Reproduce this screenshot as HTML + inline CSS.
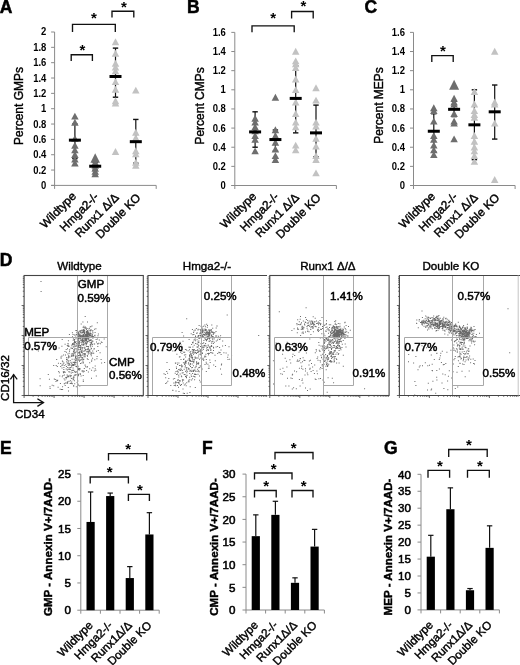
<!DOCTYPE html><html><head><meta charset="utf-8"><style>html,body{margin:0;padding:0;background:#fff;}svg{display:block;filter:grayscale(1) blur(0.3px);}text{font-family:"Liberation Sans",sans-serif;}</style></head><body>
<svg width="520" height="665" viewBox="0 0 520 665">
<rect width="520" height="665" fill="#fff"/>
<text x="-0.30" y="12.80" font-size="17.5" font-weight="bold" text-anchor="start" fill="#000" stroke="#000" stroke-width="0.5">A</text>
<text x="186.90" y="12.80" font-size="17.5" font-weight="bold" text-anchor="start" fill="#000" stroke="#000" stroke-width="0.5">B</text>
<text x="364.40" y="12.80" font-size="17.5" font-weight="bold" text-anchor="start" fill="#000" stroke="#000" stroke-width="0.5">C</text>
<text x="-0.30" y="265.90" font-size="17.5" font-weight="bold" text-anchor="start" fill="#000" stroke="#000" stroke-width="0.5">D</text>
<text x="0.00" y="453.50" font-size="17.5" font-weight="bold" text-anchor="start" fill="#000" stroke="#000" stroke-width="0.5">E</text>
<text x="201.90" y="453.50" font-size="17.5" font-weight="bold" text-anchor="start" fill="#000" stroke="#000" stroke-width="0.5">F</text>
<text x="383.90" y="453.50" font-size="17.5" font-weight="bold" text-anchor="start" fill="#000" stroke="#000" stroke-width="0.5">G</text>
<line x1="54.60" y1="32.00" x2="54.60" y2="188.90" stroke="#8a8a8a" stroke-width="1"/>
<line x1="51.10" y1="185.40" x2="156.20" y2="185.40" stroke="#8a8a8a" stroke-width="1"/>
<line x1="156.20" y1="185.40" x2="156.20" y2="188.90" stroke="#8a8a8a" stroke-width="1"/>
<line x1="51.10" y1="185.40" x2="54.60" y2="185.40" stroke="#8a8a8a" stroke-width="1"/>
<text x="46.40" y="188.90" font-size="10.2" font-weight="bold" text-anchor="end" fill="#000" transform="translate(46.40 185.40) scale(0.93 1) translate(-46.40 -185.40)">0</text>
<line x1="51.10" y1="170.06" x2="54.60" y2="170.06" stroke="#8a8a8a" stroke-width="1"/>
<text x="46.40" y="173.56" font-size="10.2" font-weight="bold" text-anchor="end" fill="#000" transform="translate(46.40 170.06) scale(0.93 1) translate(-46.40 -170.06)">0.2</text>
<line x1="51.10" y1="154.72" x2="54.60" y2="154.72" stroke="#8a8a8a" stroke-width="1"/>
<text x="46.40" y="158.22" font-size="10.2" font-weight="bold" text-anchor="end" fill="#000" transform="translate(46.40 154.72) scale(0.93 1) translate(-46.40 -154.72)">0.4</text>
<line x1="51.10" y1="139.38" x2="54.60" y2="139.38" stroke="#8a8a8a" stroke-width="1"/>
<text x="46.40" y="142.88" font-size="10.2" font-weight="bold" text-anchor="end" fill="#000" transform="translate(46.40 139.38) scale(0.93 1) translate(-46.40 -139.38)">0.6</text>
<line x1="51.10" y1="124.04" x2="54.60" y2="124.04" stroke="#8a8a8a" stroke-width="1"/>
<text x="46.40" y="127.54" font-size="10.2" font-weight="bold" text-anchor="end" fill="#000" transform="translate(46.40 124.04) scale(0.93 1) translate(-46.40 -124.04)">0.8</text>
<line x1="51.10" y1="108.70" x2="54.60" y2="108.70" stroke="#8a8a8a" stroke-width="1"/>
<text x="46.40" y="112.20" font-size="10.2" font-weight="bold" text-anchor="end" fill="#000" transform="translate(46.40 108.70) scale(0.93 1) translate(-46.40 -108.70)">1</text>
<line x1="51.10" y1="93.36" x2="54.60" y2="93.36" stroke="#8a8a8a" stroke-width="1"/>
<text x="46.40" y="96.86" font-size="10.2" font-weight="bold" text-anchor="end" fill="#000" transform="translate(46.40 93.36) scale(0.93 1) translate(-46.40 -93.36)">1.2</text>
<line x1="51.10" y1="78.02" x2="54.60" y2="78.02" stroke="#8a8a8a" stroke-width="1"/>
<text x="46.40" y="81.52" font-size="10.2" font-weight="bold" text-anchor="end" fill="#000" transform="translate(46.40 78.02) scale(0.93 1) translate(-46.40 -78.02)">1.4</text>
<line x1="51.10" y1="62.68" x2="54.60" y2="62.68" stroke="#8a8a8a" stroke-width="1"/>
<text x="46.40" y="66.18" font-size="10.2" font-weight="bold" text-anchor="end" fill="#000" transform="translate(46.40 62.68) scale(0.93 1) translate(-46.40 -62.68)">1.6</text>
<line x1="51.10" y1="47.34" x2="54.60" y2="47.34" stroke="#8a8a8a" stroke-width="1"/>
<text x="46.40" y="50.84" font-size="10.2" font-weight="bold" text-anchor="end" fill="#000" transform="translate(46.40 47.34) scale(0.93 1) translate(-46.40 -47.34)">1.8</text>
<line x1="51.10" y1="32.00" x2="54.60" y2="32.00" stroke="#8a8a8a" stroke-width="1"/>
<text x="46.40" y="35.50" font-size="10.2" font-weight="bold" text-anchor="end" fill="#000" transform="translate(46.40 32.00) scale(0.93 1) translate(-46.40 -32.00)">2</text>
<text x="19.00" y="106.00" font-size="12" text-anchor="middle" fill="#000" transform="rotate(-90 19.00 106.00)" dominant-baseline="central" stroke="#000" stroke-width="0.4">Percent GMPs</text>
<line x1="74.90" y1="124.04" x2="74.90" y2="158.56" stroke="#111" stroke-width="1.2"/>
<line x1="72.20" y1="158.56" x2="77.60" y2="158.56" stroke="#111" stroke-width="1.4"/>
<line x1="72.20" y1="124.04" x2="77.60" y2="124.04" stroke="#111" stroke-width="1.4"/>
<polygon points="74.90,112.71 78.65,119.61 71.15,119.61" fill="#6e6e6e"/>
<polygon points="74.90,118.85 78.65,125.75 71.15,125.75" fill="#6e6e6e"/>
<polygon points="74.90,134.96 78.65,141.86 71.15,141.86" fill="#6e6e6e"/>
<polygon points="74.90,141.86 78.65,148.76 71.15,148.76" fill="#6e6e6e"/>
<polygon points="74.90,146.46 78.65,153.36 71.15,153.36" fill="#6e6e6e"/>
<polygon points="74.90,151.06 78.65,157.96 71.15,157.96" fill="#6e6e6e"/>
<polygon points="74.90,155.66 78.65,162.56 71.15,162.56" fill="#6e6e6e"/>
<polygon points="74.90,159.50 78.65,166.40 71.15,166.40" fill="#6e6e6e"/>
<rect x="68.90" y="138.65" width="12.00" height="3.00" fill="#000"/>
<line x1="95.20" y1="162.39" x2="95.20" y2="170.06" stroke="#111" stroke-width="1.2"/>
<line x1="92.50" y1="170.06" x2="97.90" y2="170.06" stroke="#111" stroke-width="1.4"/>
<line x1="92.50" y1="162.39" x2="97.90" y2="162.39" stroke="#111" stroke-width="1.4"/>
<polygon points="95.20,158.73 98.95,165.63 91.45,165.63" fill="#6e6e6e"/>
<polygon points="95.20,161.80 98.95,168.70 91.45,168.70" fill="#6e6e6e"/>
<polygon points="95.20,164.87 98.95,171.77 91.45,171.77" fill="#6e6e6e"/>
<polygon points="95.20,167.94 98.95,174.84 91.45,174.84" fill="#6e6e6e"/>
<polygon points="95.20,170.24 98.95,177.14 91.45,177.14" fill="#6e6e6e"/>
<polygon points="95.20,153.14 99.95,162.64 90.45,162.64" fill="#6e6e6e"/>
<rect x="89.20" y="164.72" width="12.00" height="3.00" fill="#000"/>
<line x1="115.50" y1="48.11" x2="115.50" y2="97.20" stroke="#111" stroke-width="1.2"/>
<line x1="112.80" y1="97.20" x2="118.20" y2="97.20" stroke="#111" stroke-width="1.4"/>
<line x1="112.80" y1="48.11" x2="118.20" y2="48.11" stroke="#111" stroke-width="1.4"/>
<polygon points="115.50,38.31 119.25,45.21 111.75,45.21" fill="#c2c2c2"/>
<polygon points="115.50,49.82 119.25,56.72 111.75,56.72" fill="#c2c2c2"/>
<polygon points="115.50,59.79 119.25,66.69 111.75,66.69" fill="#c2c2c2"/>
<polygon points="115.50,63.62 119.25,70.52 111.75,70.52" fill="#c2c2c2"/>
<polygon points="115.50,67.46 119.25,74.36 111.75,74.36" fill="#c2c2c2"/>
<polygon points="115.50,78.20 119.25,85.10 111.75,85.10" fill="#c2c2c2"/>
<polygon points="115.50,85.87 119.25,92.77 111.75,92.77" fill="#c2c2c2"/>
<polygon points="115.50,97.37 119.25,104.27 111.75,104.27" fill="#c2c2c2"/>
<polygon points="115.50,99.67 119.25,106.57 111.75,106.57" fill="#c2c2c2"/>
<polygon points="115.50,147.99 119.25,154.89 111.75,154.89" fill="#c2c2c2"/>
<rect x="109.50" y="74.99" width="12.00" height="3.00" fill="#000"/>
<line x1="135.80" y1="119.44" x2="135.80" y2="163.16" stroke="#111" stroke-width="1.2"/>
<line x1="133.10" y1="163.16" x2="138.50" y2="163.16" stroke="#111" stroke-width="1.4"/>
<line x1="133.10" y1="119.44" x2="138.50" y2="119.44" stroke="#111" stroke-width="1.4"/>
<polygon points="135.80,86.64 139.55,93.53 132.05,93.53" fill="#c2c2c2"/>
<polygon points="135.80,128.82 139.55,135.72 132.05,135.72" fill="#c2c2c2"/>
<polygon points="135.80,134.19 139.55,141.09 132.05,141.09" fill="#c2c2c2"/>
<polygon points="135.80,147.23 139.55,154.13 132.05,154.13" fill="#c2c2c2"/>
<polygon points="135.80,150.30 139.55,157.20 132.05,157.20" fill="#c2c2c2"/>
<polygon points="135.80,158.73 139.55,165.63 132.05,165.63" fill="#c2c2c2"/>
<polygon points="135.80,161.80 139.55,168.70 132.05,168.70" fill="#c2c2c2"/>
<rect x="129.80" y="140.18" width="12.00" height="3.00" fill="#000"/>
<text x="76.90" y="196.90" font-size="11.8" text-anchor="end" fill="#000" transform="rotate(-45 76.90 196.90)" stroke="#000" stroke-width="0.42">Wildtype</text>
<text x="99.40" y="197.40" font-size="11.8" text-anchor="end" fill="#000" transform="rotate(-45 99.40 197.40)" stroke="#000" stroke-width="0.42">Hmga2-/-</text>
<text x="119.70" y="198.10" font-size="11.8" text-anchor="end" fill="#000" transform="rotate(-45 119.70 198.10)" stroke="#000" stroke-width="0.42">Runx1 Δ/Δ</text>
<text x="141.30" y="198.40" font-size="11.8" text-anchor="end" fill="#000" transform="rotate(-45 141.30 198.40)" stroke="#000" stroke-width="0.42">Double KO</text>
<polyline points="72.50,32.00 72.50,24.30 115.30,24.30 115.30,32.00" fill="none" stroke="#111" stroke-width="1.35"/>
<text x="94.00" y="22.75" font-size="15" font-weight="bold" text-anchor="middle" fill="#000">*</text>
<polyline points="71.20,61.10 71.20,54.70 92.40,54.70 92.40,61.10" fill="none" stroke="#111" stroke-width="1.35"/>
<text x="82.50" y="55.45" font-size="15" font-weight="bold" text-anchor="middle" fill="#000">*</text>
<polyline points="112.00,17.50 112.00,11.20 133.80,11.20 133.80,17.50" fill="none" stroke="#111" stroke-width="1.35"/>
<text x="124.00" y="11.75" font-size="15" font-weight="bold" text-anchor="middle" fill="#000">*</text>
<line x1="234.80" y1="32.38" x2="234.80" y2="189.00" stroke="#8a8a8a" stroke-width="1"/>
<line x1="231.30" y1="185.50" x2="336.40" y2="185.50" stroke="#8a8a8a" stroke-width="1"/>
<line x1="336.40" y1="185.50" x2="336.40" y2="189.00" stroke="#8a8a8a" stroke-width="1"/>
<line x1="231.30" y1="185.50" x2="234.80" y2="185.50" stroke="#8a8a8a" stroke-width="1"/>
<text x="225.90" y="189.00" font-size="10.2" font-weight="bold" text-anchor="end" fill="#000" transform="translate(225.90 185.50) scale(0.93 1) translate(-225.90 -185.50)">0</text>
<line x1="231.30" y1="166.36" x2="234.80" y2="166.36" stroke="#8a8a8a" stroke-width="1"/>
<text x="225.90" y="169.86" font-size="10.2" font-weight="bold" text-anchor="end" fill="#000" transform="translate(225.90 166.36) scale(0.93 1) translate(-225.90 -166.36)">0.2</text>
<line x1="231.30" y1="147.22" x2="234.80" y2="147.22" stroke="#8a8a8a" stroke-width="1"/>
<text x="225.90" y="150.72" font-size="10.2" font-weight="bold" text-anchor="end" fill="#000" transform="translate(225.90 147.22) scale(0.93 1) translate(-225.90 -147.22)">0.4</text>
<line x1="231.30" y1="128.08" x2="234.80" y2="128.08" stroke="#8a8a8a" stroke-width="1"/>
<text x="225.90" y="131.58" font-size="10.2" font-weight="bold" text-anchor="end" fill="#000" transform="translate(225.90 128.08) scale(0.93 1) translate(-225.90 -128.08)">0.6</text>
<line x1="231.30" y1="108.94" x2="234.80" y2="108.94" stroke="#8a8a8a" stroke-width="1"/>
<text x="225.90" y="112.44" font-size="10.2" font-weight="bold" text-anchor="end" fill="#000" transform="translate(225.90 108.94) scale(0.93 1) translate(-225.90 -108.94)">0.8</text>
<line x1="231.30" y1="89.80" x2="234.80" y2="89.80" stroke="#8a8a8a" stroke-width="1"/>
<text x="225.90" y="93.30" font-size="10.2" font-weight="bold" text-anchor="end" fill="#000" transform="translate(225.90 89.80) scale(0.93 1) translate(-225.90 -89.80)">1</text>
<line x1="231.30" y1="70.66" x2="234.80" y2="70.66" stroke="#8a8a8a" stroke-width="1"/>
<text x="225.90" y="74.16" font-size="10.2" font-weight="bold" text-anchor="end" fill="#000" transform="translate(225.90 70.66) scale(0.93 1) translate(-225.90 -70.66)">1.2</text>
<line x1="231.30" y1="51.52" x2="234.80" y2="51.52" stroke="#8a8a8a" stroke-width="1"/>
<text x="225.90" y="55.02" font-size="10.2" font-weight="bold" text-anchor="end" fill="#000" transform="translate(225.90 51.52) scale(0.93 1) translate(-225.90 -51.52)">1.4</text>
<line x1="231.30" y1="32.38" x2="234.80" y2="32.38" stroke="#8a8a8a" stroke-width="1"/>
<text x="225.90" y="35.88" font-size="10.2" font-weight="bold" text-anchor="end" fill="#000" transform="translate(225.90 32.38) scale(0.93 1) translate(-225.90 -32.38)">1.6</text>
<text x="200.40" y="105.90" font-size="12" text-anchor="middle" fill="#000" transform="rotate(-90 200.40 105.90)" dominant-baseline="central" stroke="#000" stroke-width="0.4">Percent CMPs</text>
<line x1="255.10" y1="111.81" x2="255.10" y2="147.22" stroke="#111" stroke-width="1.2"/>
<line x1="252.40" y1="147.22" x2="257.80" y2="147.22" stroke="#111" stroke-width="1.4"/>
<line x1="252.40" y1="111.81" x2="257.80" y2="111.81" stroke="#111" stroke-width="1.4"/>
<polygon points="255.10,114.85 258.85,121.75 251.35,121.75" fill="#6e6e6e"/>
<polygon points="255.10,118.68 258.85,125.58 251.35,125.58" fill="#6e6e6e"/>
<polygon points="255.10,123.47 258.85,130.37 251.35,130.37" fill="#6e6e6e"/>
<polygon points="255.10,127.29 258.85,134.19 251.35,134.19" fill="#6e6e6e"/>
<polygon points="255.10,132.08 258.85,138.98 251.35,138.98" fill="#6e6e6e"/>
<polygon points="255.10,135.91 258.85,142.81 251.35,142.81" fill="#6e6e6e"/>
<polygon points="255.10,147.39 258.85,154.29 251.35,154.29" fill="#6e6e6e"/>
<rect x="249.10" y="130.41" width="12.00" height="3.00" fill="#000"/>
<line x1="275.40" y1="129.99" x2="275.40" y2="151.05" stroke="#111" stroke-width="1.2"/>
<line x1="272.70" y1="151.05" x2="278.10" y2="151.05" stroke="#111" stroke-width="1.4"/>
<line x1="272.70" y1="129.99" x2="278.10" y2="129.99" stroke="#111" stroke-width="1.4"/>
<polygon points="275.40,93.80 279.15,100.70 271.65,100.70" fill="#6e6e6e"/>
<polygon points="275.40,126.34 279.15,133.24 271.65,133.24" fill="#6e6e6e"/>
<polygon points="275.40,132.08 279.15,138.98 271.65,138.98" fill="#6e6e6e"/>
<polygon points="275.40,138.78 279.15,145.68 271.65,145.68" fill="#6e6e6e"/>
<polygon points="275.40,145.48 279.15,152.38 271.65,152.38" fill="#6e6e6e"/>
<polygon points="275.40,152.18 279.15,159.08 271.65,159.08" fill="#6e6e6e"/>
<polygon points="275.40,156.00 279.15,162.90 271.65,162.90" fill="#6e6e6e"/>
<rect x="269.40" y="138.06" width="12.00" height="3.00" fill="#000"/>
<line x1="295.70" y1="65.88" x2="295.70" y2="132.87" stroke="#111" stroke-width="1.2"/>
<line x1="293.00" y1="132.87" x2="298.40" y2="132.87" stroke="#111" stroke-width="1.4"/>
<line x1="293.00" y1="65.88" x2="298.40" y2="65.88" stroke="#111" stroke-width="1.4"/>
<polygon points="295.70,47.86 299.45,54.76 291.95,54.76" fill="#c2c2c2"/>
<polygon points="295.70,57.43 299.45,64.33 291.95,64.33" fill="#c2c2c2"/>
<polygon points="295.70,60.30 299.45,67.20 291.95,67.20" fill="#c2c2c2"/>
<polygon points="295.70,64.13 299.45,71.03 291.95,71.03" fill="#c2c2c2"/>
<polygon points="295.70,75.62 299.45,82.52 291.95,82.52" fill="#c2c2c2"/>
<polygon points="295.70,86.14 299.45,93.04 291.95,93.04" fill="#c2c2c2"/>
<polygon points="295.70,98.58 299.45,105.48 291.95,105.48" fill="#c2c2c2"/>
<polygon points="295.70,110.07 299.45,116.97 291.95,116.97" fill="#c2c2c2"/>
<polygon points="295.70,118.68 299.45,125.58 291.95,125.58" fill="#c2c2c2"/>
<polygon points="295.70,123.47 299.45,130.37 291.95,130.37" fill="#c2c2c2"/>
<polygon points="295.70,141.65 299.45,148.55 291.95,148.55" fill="#c2c2c2"/>
<polygon points="295.70,146.43 299.45,153.33 291.95,153.33" fill="#c2c2c2"/>
<rect x="289.70" y="96.91" width="12.00" height="3.00" fill="#000"/>
<line x1="316.00" y1="105.11" x2="316.00" y2="156.79" stroke="#111" stroke-width="1.2"/>
<line x1="313.30" y1="156.79" x2="318.70" y2="156.79" stroke="#111" stroke-width="1.4"/>
<line x1="313.30" y1="105.11" x2="318.70" y2="105.11" stroke="#111" stroke-width="1.4"/>
<polygon points="316.00,84.23 319.75,91.13 312.25,91.13" fill="#c2c2c2"/>
<polygon points="316.00,96.67 319.75,103.57 312.25,103.57" fill="#c2c2c2"/>
<polygon points="316.00,118.68 319.75,125.58 312.25,125.58" fill="#c2c2c2"/>
<polygon points="316.00,122.51 319.75,129.41 312.25,129.41" fill="#c2c2c2"/>
<polygon points="316.00,134.95 319.75,141.85 312.25,141.85" fill="#c2c2c2"/>
<polygon points="316.00,142.61 319.75,149.51 312.25,149.51" fill="#c2c2c2"/>
<polygon points="316.00,152.18 319.75,159.08 312.25,159.08" fill="#c2c2c2"/>
<polygon points="316.00,156.00 319.75,162.90 312.25,162.90" fill="#c2c2c2"/>
<polygon points="316.00,169.40 319.75,176.30 312.25,176.30" fill="#c2c2c2"/>
<rect x="310.00" y="131.37" width="12.00" height="3.00" fill="#000"/>
<text x="257.10" y="197.00" font-size="11.8" text-anchor="end" fill="#000" transform="rotate(-45 257.10 197.00)" stroke="#000" stroke-width="0.42">Wildtype</text>
<text x="279.60" y="197.50" font-size="11.8" text-anchor="end" fill="#000" transform="rotate(-45 279.60 197.50)" stroke="#000" stroke-width="0.42">Hmga2-/-</text>
<text x="299.90" y="198.20" font-size="11.8" text-anchor="end" fill="#000" transform="rotate(-45 299.90 198.20)" stroke="#000" stroke-width="0.42">Runx1 Δ/Δ</text>
<text x="321.50" y="198.50" font-size="11.8" text-anchor="end" fill="#000" transform="rotate(-45 321.50 198.50)" stroke="#000" stroke-width="0.42">Double KO</text>
<polyline points="252.00,32.30 252.00,25.80 294.20,25.80 294.20,32.30" fill="none" stroke="#111" stroke-width="1.35"/>
<text x="273.20" y="23.25" font-size="15" font-weight="bold" text-anchor="middle" fill="#000">*</text>
<polyline points="291.60,18.50 291.60,11.50 313.20,11.50 313.20,18.50" fill="none" stroke="#111" stroke-width="1.35"/>
<text x="303.50" y="10.75" font-size="15" font-weight="bold" text-anchor="middle" fill="#000">*</text>
<line x1="413.50" y1="32.38" x2="413.50" y2="189.00" stroke="#8a8a8a" stroke-width="1"/>
<line x1="410.00" y1="185.50" x2="515.10" y2="185.50" stroke="#8a8a8a" stroke-width="1"/>
<line x1="515.10" y1="185.50" x2="515.10" y2="189.00" stroke="#8a8a8a" stroke-width="1"/>
<line x1="410.00" y1="185.50" x2="413.50" y2="185.50" stroke="#8a8a8a" stroke-width="1"/>
<text x="405.00" y="189.00" font-size="10.2" font-weight="bold" text-anchor="end" fill="#000" transform="translate(405.00 185.50) scale(0.93 1) translate(-405.00 -185.50)">0</text>
<line x1="410.00" y1="166.36" x2="413.50" y2="166.36" stroke="#8a8a8a" stroke-width="1"/>
<text x="405.00" y="169.86" font-size="10.2" font-weight="bold" text-anchor="end" fill="#000" transform="translate(405.00 166.36) scale(0.93 1) translate(-405.00 -166.36)">0.2</text>
<line x1="410.00" y1="147.22" x2="413.50" y2="147.22" stroke="#8a8a8a" stroke-width="1"/>
<text x="405.00" y="150.72" font-size="10.2" font-weight="bold" text-anchor="end" fill="#000" transform="translate(405.00 147.22) scale(0.93 1) translate(-405.00 -147.22)">0.4</text>
<line x1="410.00" y1="128.08" x2="413.50" y2="128.08" stroke="#8a8a8a" stroke-width="1"/>
<text x="405.00" y="131.58" font-size="10.2" font-weight="bold" text-anchor="end" fill="#000" transform="translate(405.00 128.08) scale(0.93 1) translate(-405.00 -128.08)">0.6</text>
<line x1="410.00" y1="108.94" x2="413.50" y2="108.94" stroke="#8a8a8a" stroke-width="1"/>
<text x="405.00" y="112.44" font-size="10.2" font-weight="bold" text-anchor="end" fill="#000" transform="translate(405.00 108.94) scale(0.93 1) translate(-405.00 -108.94)">0.8</text>
<line x1="410.00" y1="89.80" x2="413.50" y2="89.80" stroke="#8a8a8a" stroke-width="1"/>
<text x="405.00" y="93.30" font-size="10.2" font-weight="bold" text-anchor="end" fill="#000" transform="translate(405.00 89.80) scale(0.93 1) translate(-405.00 -89.80)">1</text>
<line x1="410.00" y1="70.66" x2="413.50" y2="70.66" stroke="#8a8a8a" stroke-width="1"/>
<text x="405.00" y="74.16" font-size="10.2" font-weight="bold" text-anchor="end" fill="#000" transform="translate(405.00 70.66) scale(0.93 1) translate(-405.00 -70.66)">1.2</text>
<line x1="410.00" y1="51.52" x2="413.50" y2="51.52" stroke="#8a8a8a" stroke-width="1"/>
<text x="405.00" y="55.02" font-size="10.2" font-weight="bold" text-anchor="end" fill="#000" transform="translate(405.00 51.52) scale(0.93 1) translate(-405.00 -51.52)">1.4</text>
<line x1="410.00" y1="32.38" x2="413.50" y2="32.38" stroke="#8a8a8a" stroke-width="1"/>
<text x="405.00" y="35.88" font-size="10.2" font-weight="bold" text-anchor="end" fill="#000" transform="translate(405.00 32.38) scale(0.93 1) translate(-405.00 -32.38)">1.6</text>
<text x="379.30" y="105.50" font-size="12" text-anchor="middle" fill="#000" transform="rotate(-90 379.30 105.50)" dominant-baseline="central" stroke="#000" stroke-width="0.4">Percent MEPs</text>
<line x1="433.80" y1="113.72" x2="433.80" y2="152.00" stroke="#111" stroke-width="1.2"/>
<line x1="431.10" y1="152.00" x2="436.50" y2="152.00" stroke="#111" stroke-width="1.4"/>
<line x1="431.10" y1="113.72" x2="436.50" y2="113.72" stroke="#111" stroke-width="1.4"/>
<polygon points="433.80,104.33 437.55,111.23 430.05,111.23" fill="#6e6e6e"/>
<polygon points="433.80,107.20 437.55,114.10 430.05,114.10" fill="#6e6e6e"/>
<polygon points="433.80,117.72 437.55,124.62 430.05,124.62" fill="#6e6e6e"/>
<polygon points="433.80,132.08 437.55,138.98 430.05,138.98" fill="#6e6e6e"/>
<polygon points="433.80,135.91 437.55,142.81 430.05,142.81" fill="#6e6e6e"/>
<polygon points="433.80,141.65 437.55,148.55 430.05,148.55" fill="#6e6e6e"/>
<polygon points="433.80,146.43 437.55,153.33 430.05,153.33" fill="#6e6e6e"/>
<polygon points="433.80,151.22 437.55,158.12 430.05,158.12" fill="#6e6e6e"/>
<rect x="427.80" y="129.74" width="12.00" height="3.00" fill="#000"/>
<line x1="454.10" y1="101.28" x2="454.10" y2="116.60" stroke="#111" stroke-width="1.2"/>
<line x1="451.40" y1="116.60" x2="456.80" y2="116.60" stroke="#111" stroke-width="1.4"/>
<line x1="451.40" y1="101.28" x2="456.80" y2="101.28" stroke="#111" stroke-width="1.4"/>
<polygon points="454.10,94.76 457.85,101.66 450.35,101.66" fill="#6e6e6e"/>
<polygon points="454.10,98.58 457.85,105.48 450.35,105.48" fill="#6e6e6e"/>
<polygon points="454.10,100.50 457.85,107.40 450.35,107.40" fill="#6e6e6e"/>
<polygon points="454.10,110.07 457.85,116.97 450.35,116.97" fill="#6e6e6e"/>
<polygon points="454.10,117.72 457.85,124.62 450.35,124.62" fill="#6e6e6e"/>
<polygon points="454.10,119.64 457.85,126.54 450.35,126.54" fill="#6e6e6e"/>
<polygon points="454.10,135.43 457.85,142.33 450.35,142.33" fill="#6e6e6e"/>
<polygon points="454.10,79.71 459.10,89.71 449.10,89.71" fill="#6e6e6e"/>
<rect x="448.10" y="107.82" width="12.00" height="3.00" fill="#000"/>
<line x1="474.40" y1="89.80" x2="474.40" y2="159.66" stroke="#111" stroke-width="1.2"/>
<line x1="471.70" y1="159.66" x2="477.10" y2="159.66" stroke="#111" stroke-width="1.4"/>
<line x1="471.70" y1="89.80" x2="477.10" y2="89.80" stroke="#111" stroke-width="1.4"/>
<polygon points="474.40,88.06 478.15,94.96 470.65,94.96" fill="#c2c2c2"/>
<polygon points="474.40,100.50 478.15,107.40 470.65,107.40" fill="#c2c2c2"/>
<polygon points="474.40,107.20 478.15,114.10 470.65,114.10" fill="#c2c2c2"/>
<polygon points="474.40,111.03 478.15,117.92 470.65,117.92" fill="#c2c2c2"/>
<polygon points="474.40,113.90 478.15,120.80 470.65,120.80" fill="#c2c2c2"/>
<polygon points="474.40,132.08 478.15,138.98 470.65,138.98" fill="#c2c2c2"/>
<polygon points="474.40,137.82 478.15,144.72 470.65,144.72" fill="#c2c2c2"/>
<polygon points="474.40,143.56 478.15,150.46 470.65,150.46" fill="#c2c2c2"/>
<polygon points="474.40,147.39 478.15,154.29 470.65,154.29" fill="#c2c2c2"/>
<polygon points="474.40,152.18 478.15,159.08 470.65,159.08" fill="#c2c2c2"/>
<polygon points="474.40,157.92 478.15,164.82 470.65,164.82" fill="#c2c2c2"/>
<rect x="468.40" y="123.33" width="12.00" height="3.00" fill="#000"/>
<line x1="494.70" y1="85.01" x2="494.70" y2="139.09" stroke="#111" stroke-width="1.2"/>
<line x1="492.00" y1="139.09" x2="497.40" y2="139.09" stroke="#111" stroke-width="1.4"/>
<line x1="492.00" y1="85.01" x2="497.40" y2="85.01" stroke="#111" stroke-width="1.4"/>
<polygon points="494.70,47.86 498.45,54.76 490.95,54.76" fill="#c2c2c2"/>
<polygon points="494.70,98.58 498.45,105.48 490.95,105.48" fill="#c2c2c2"/>
<polygon points="494.70,100.50 498.45,107.40 490.95,107.40" fill="#c2c2c2"/>
<polygon points="494.70,119.64 498.45,126.54 490.95,126.54" fill="#c2c2c2"/>
<polygon points="494.70,176.10 498.45,183.00 490.95,183.00" fill="#c2c2c2"/>
<rect x="488.70" y="110.31" width="12.00" height="3.00" fill="#000"/>
<text x="435.80" y="197.00" font-size="11.8" text-anchor="end" fill="#000" transform="rotate(-45 435.80 197.00)" stroke="#000" stroke-width="0.42">Wildtype</text>
<text x="458.30" y="197.50" font-size="11.8" text-anchor="end" fill="#000" transform="rotate(-45 458.30 197.50)" stroke="#000" stroke-width="0.42">Hmga2-/-</text>
<text x="478.60" y="198.20" font-size="11.8" text-anchor="end" fill="#000" transform="rotate(-45 478.60 198.20)" stroke="#000" stroke-width="0.42">Runx1 Δ/Δ</text>
<text x="500.20" y="198.50" font-size="11.8" text-anchor="end" fill="#000" transform="rotate(-45 500.20 198.50)" stroke="#000" stroke-width="0.42">Double KO</text>
<polyline points="431.80,62.10 431.80,55.60 453.20,55.60 453.20,62.10" fill="none" stroke="#111" stroke-width="1.35"/>
<text x="443.00" y="55.75" font-size="15" font-weight="bold" text-anchor="middle" fill="#000">*</text>
<path d="M85.2 338.9h1v1h-1zM90.5 332.9h1v1h-1zM83.7 332.8h1v1h-1zM87.6 334.3h1v1h-1zM88.4 328.6h1v1h-1zM92.0 334.2h1v1h-1zM88.1 334.1h1v1h-1zM83.3 336.0h1v1h-1zM88.7 333.9h1v1h-1zM84.3 336.7h1v1h-1zM81.1 329.7h1v1h-1zM86.8 332.4h1v1h-1zM76.4 331.9h1v1h-1zM82.9 330.7h1v1h-1zM78.3 334.6h1v1h-1zM89.0 333.8h1v1h-1zM81.7 335.7h1v1h-1zM88.2 333.5h1v1h-1zM87.5 337.8h1v1h-1zM84.1 331.9h1v1h-1zM86.6 335.3h1v1h-1zM89.9 330.4h1v1h-1zM82.0 331.8h1v1h-1zM77.2 334.9h1v1h-1zM87.4 332.1h1v1h-1zM91.2 337.1h1v1h-1zM87.8 335.8h1v1h-1zM89.3 330.2h1v1h-1zM87.8 336.4h1v1h-1zM77.0 335.6h1v1h-1zM83.9 337.0h1v1h-1zM83.0 334.4h1v1h-1zM86.5 331.7h1v1h-1zM87.7 334.2h1v1h-1zM87.2 332.8h1v1h-1zM89.9 336.4h1v1h-1zM84.2 336.5h1v1h-1zM90.7 340.2h1v1h-1zM77.9 337.3h1v1h-1zM87.1 334.2h1v1h-1zM80.5 338.5h1v1h-1zM79.3 336.3h1v1h-1zM90.9 329.4h1v1h-1zM83.6 330.3h1v1h-1zM86.1 339.3h1v1h-1zM94.1 328.8h1v1h-1zM82.4 336.8h1v1h-1zM92.1 335.8h1v1h-1zM81.6 335.5h1v1h-1zM84.9 333.8h1v1h-1zM81.7 335.7h1v1h-1zM86.4 334.2h1v1h-1zM84.0 330.4h1v1h-1zM82.8 338.4h1v1h-1zM84.1 329.9h1v1h-1zM91.0 336.2h1v1h-1zM94.5 334.7h1v1h-1zM82.9 329.9h1v1h-1zM91.0 342.7h1v1h-1zM81.3 332.4h1v1h-1zM87.7 331.8h1v1h-1zM83.8 333.4h1v1h-1zM85.9 338.0h1v1h-1zM85.1 337.4h1v1h-1zM83.1 335.5h1v1h-1zM75.4 329.9h1v1h-1zM88.6 332.6h1v1h-1zM87.6 336.2h1v1h-1zM91.0 337.1h1v1h-1zM89.6 334.1h1v1h-1zM81.9 332.2h1v1h-1zM82.8 330.9h1v1h-1zM82.5 334.2h1v1h-1zM86.1 333.4h1v1h-1zM76.3 334.3h1v1h-1zM86.0 338.0h1v1h-1zM87.6 332.4h1v1h-1zM81.7 340.9h1v1h-1zM88.4 340.4h1v1h-1zM94.6 331.9h1v1h-1zM86.7 336.0h1v1h-1zM87.5 336.2h1v1h-1zM85.9 335.1h1v1h-1zM78.2 334.0h1v1h-1zM81.6 334.9h1v1h-1zM82.9 336.5h1v1h-1zM88.7 335.5h1v1h-1zM86.4 334.8h1v1h-1zM83.0 334.0h1v1h-1zM82.8 335.7h1v1h-1zM85.1 336.4h1v1h-1zM79.0 337.3h1v1h-1zM81.6 332.2h1v1h-1zM84.1 332.7h1v1h-1zM86.3 332.7h1v1h-1zM80.2 331.8h1v1h-1zM90.9 334.6h1v1h-1zM79.7 334.5h1v1h-1zM78.0 340.2h1v1h-1zM78.1 336.0h1v1h-1zM87.4 329.9h1v1h-1zM86.4 337.7h1v1h-1zM87.1 335.3h1v1h-1zM89.3 335.0h1v1h-1zM86.5 334.1h1v1h-1zM87.8 331.5h1v1h-1zM88.6 332.9h1v1h-1zM80.1 335.7h1v1h-1zM92.6 337.6h1v1h-1zM82.7 336.7h1v1h-1zM83.0 334.1h1v1h-1zM85.4 327.1h1v1h-1zM85.9 331.2h1v1h-1zM81.9 329.8h1v1h-1zM78.2 331.5h1v1h-1zM88.7 339.8h1v1h-1zM84.9 338.0h1v1h-1zM83.8 328.4h1v1h-1zM85.7 335.9h1v1h-1zM83.1 335.5h1v1h-1zM87.6 331.7h1v1h-1zM78.4 333.8h1v1h-1zM84.1 333.4h1v1h-1zM89.4 340.0h1v1h-1zM83.1 336.7h1v1h-1zM89.2 336.8h1v1h-1zM89.7 333.3h1v1h-1zM88.3 341.0h1v1h-1zM88.6 332.5h1v1h-1zM87.7 338.5h1v1h-1zM86.7 332.7h1v1h-1zM91.9 330.5h1v1h-1zM87.3 334.4h1v1h-1zM79.6 338.4h1v1h-1zM86.6 330.8h1v1h-1zM87.7 333.1h1v1h-1zM76.4 332.3h1v1h-1zM86.2 336.5h1v1h-1zM85.7 334.6h1v1h-1zM87.1 333.8h1v1h-1zM90.3 335.0h1v1h-1zM86.3 336.2h1v1h-1zM80.2 332.2h1v1h-1zM91.9 335.6h1v1h-1zM83.7 335.6h1v1h-1zM82.8 335.4h1v1h-1zM82.0 335.4h1v1h-1zM77.9 338.8h1v1h-1zM82.7 329.4h1v1h-1zM84.0 333.3h1v1h-1zM85.7 330.8h1v1h-1zM86.8 346.1h1v1h-1zM79.2 335.6h1v1h-1zM83.6 335.1h1v1h-1zM76.8 330.8h1v1h-1zM87.1 334.4h1v1h-1zM92.4 332.2h1v1h-1zM85.8 343.8h1v1h-1zM81.6 331.6h1v1h-1zM84.8 334.4h1v1h-1zM88.8 334.9h1v1h-1zM81.6 335.2h1v1h-1zM96.9 338.6h1v1h-1zM72.5 334.0h1v1h-1zM81.1 336.5h1v1h-1zM84.2 340.7h1v1h-1zM89.2 337.3h1v1h-1zM85.8 334.4h1v1h-1zM86.5 338.6h1v1h-1zM87.4 333.4h1v1h-1zM94.2 335.0h1v1h-1zM83.4 330.0h1v1h-1zM79.5 330.8h1v1h-1zM61.7 339.1h1v1h-1zM88.5 332.9h1v1h-1zM92.4 336.2h1v1h-1zM87.0 321.6h1v1h-1zM82.1 336.7h1v1h-1zM96.9 343.2h1v1h-1zM95.4 328.2h1v1h-1zM66.4 336.9h1v1h-1zM84.2 338.8h1v1h-1zM83.0 335.1h1v1h-1zM72.0 336.2h1v1h-1zM80.4 335.7h1v1h-1zM87.7 333.4h1v1h-1zM86.5 333.9h1v1h-1zM90.1 336.5h1v1h-1zM79.6 331.1h1v1h-1zM97.9 333.5h1v1h-1zM91.9 336.0h1v1h-1zM79.5 330.3h1v1h-1zM85.0 335.3h1v1h-1zM88.9 327.7h1v1h-1zM79.2 333.5h1v1h-1zM96.8 322.2h1v1h-1zM87.5 331.3h1v1h-1zM87.5 331.5h1v1h-1zM86.9 341.8h1v1h-1zM86.8 336.2h1v1h-1zM87.0 330.2h1v1h-1zM88.3 333.0h1v1h-1zM77.5 333.8h1v1h-1zM82.2 337.8h1v1h-1zM83.7 331.4h1v1h-1zM95.6 338.9h1v1h-1zM94.2 337.0h1v1h-1zM83.1 331.9h1v1h-1zM81.8 338.7h1v1h-1zM84.9 326.6h1v1h-1zM83.7 326.9h1v1h-1zM85.3 328.0h1v1h-1zM73.9 334.6h1v1h-1zM83.4 325.7h1v1h-1zM90.0 344.8h1v1h-1zM72.1 343.1h1v1h-1zM78.5 331.5h1v1h-1zM82.6 326.8h1v1h-1zM94.4 336.5h1v1h-1zM78.0 332.6h1v1h-1zM71.9 332.3h1v1h-1zM91.5 325.4h1v1h-1zM80.5 334.7h1v1h-1zM92.4 340.7h1v1h-1zM80.3 330.3h1v1h-1zM87.6 332.2h1v1h-1zM81.5 339.4h1v1h-1zM97.5 335.3h1v1h-1zM82.5 336.9h1v1h-1zM68.9 333.9h1v1h-1zM75.5 345.9h1v1h-1zM89.8 334.7h1v1h-1zM82.4 321.4h1v1h-1zM89.7 342.1h1v1h-1zM78.2 337.4h1v1h-1zM89.8 326.3h1v1h-1zM91.5 340.8h1v1h-1zM85.8 333.7h1v1h-1zM90.3 326.3h1v1h-1zM84.7 339.3h1v1h-1zM74.1 339.0h1v1h-1zM80.7 323.6h1v1h-1zM83.2 329.1h1v1h-1zM86.6 328.1h1v1h-1zM92.4 330.3h1v1h-1zM86.9 331.0h1v1h-1zM81.4 340.0h1v1h-1zM85.7 332.0h1v1h-1zM74.0 339.8h1v1h-1zM89.9 332.4h1v1h-1zM85.9 328.9h1v1h-1zM75.9 329.9h1v1h-1zM86.8 335.5h1v1h-1zM78.0 337.7h1v1h-1zM90.3 334.9h1v1h-1zM92.3 332.6h1v1h-1zM83.1 336.4h1v1h-1zM83.7 338.0h1v1h-1zM74.0 341.1h1v1h-1zM77.7 333.2h1v1h-1zM80.2 336.1h1v1h-1zM75.7 374.3h1v1h-1zM78.1 341.7h1v1h-1zM73.2 377.2h1v1h-1zM72.6 361.7h1v1h-1zM85.4 341.6h1v1h-1zM93.4 348.4h1v1h-1zM74.3 347.8h1v1h-1zM67.6 364.5h1v1h-1zM75.5 348.2h1v1h-1zM77.7 359.5h1v1h-1zM99.6 352.2h1v1h-1zM77.5 343.0h1v1h-1zM57.9 362.8h1v1h-1zM68.2 362.7h1v1h-1zM64.5 351.0h1v1h-1zM68.3 364.7h1v1h-1zM77.0 355.0h1v1h-1zM63.3 369.1h1v1h-1zM72.6 354.5h1v1h-1zM67.9 340.3h1v1h-1zM66.8 381.8h1v1h-1zM74.5 351.9h1v1h-1zM87.7 353.4h1v1h-1zM79.7 368.4h1v1h-1zM74.5 341.7h1v1h-1zM77.6 345.3h1v1h-1zM78.9 352.6h1v1h-1zM83.6 356.3h1v1h-1zM63.4 362.6h1v1h-1zM67.5 375.6h1v1h-1zM98.8 339.4h1v1h-1zM75.7 355.5h1v1h-1zM86.0 338.2h1v1h-1zM75.2 358.2h1v1h-1zM72.7 339.7h1v1h-1zM82.8 362.5h1v1h-1zM81.8 349.4h1v1h-1zM81.4 351.7h1v1h-1zM70.5 382.8h1v1h-1zM71.8 383.2h1v1h-1zM67.6 343.5h1v1h-1zM79.2 353.7h1v1h-1zM67.6 362.7h1v1h-1zM81.6 349.6h1v1h-1zM73.9 349.3h1v1h-1zM63.7 365.0h1v1h-1zM84.5 353.6h1v1h-1zM72.8 362.0h1v1h-1zM76.7 349.3h1v1h-1zM73.9 361.9h1v1h-1zM83.0 341.2h1v1h-1zM80.9 352.0h1v1h-1zM56.2 359.0h1v1h-1zM75.0 341.7h1v1h-1zM79.8 349.2h1v1h-1zM84.7 354.5h1v1h-1zM85.1 366.3h1v1h-1zM72.9 353.5h1v1h-1zM96.0 350.7h1v1h-1zM81.2 351.3h1v1h-1zM81.0 350.5h1v1h-1zM72.4 354.2h1v1h-1zM72.9 355.4h1v1h-1zM94.1 343.4h1v1h-1zM62.1 389.1h1v1h-1zM64.0 383.3h1v1h-1zM76.7 382.1h1v1h-1zM82.8 381.1h1v1h-1zM58.8 372.3h1v1h-1zM72.8 364.9h1v1h-1zM82.7 344.1h1v1h-1zM82.8 379.6h1v1h-1zM92.4 367.2h1v1h-1zM80.2 346.2h1v1h-1zM82.6 350.7h1v1h-1zM87.3 348.8h1v1h-1zM92.9 336.1h1v1h-1zM78.8 346.8h1v1h-1zM78.5 369.1h1v1h-1zM67.2 367.0h1v1h-1zM58.6 347.6h1v1h-1zM70.4 347.4h1v1h-1zM79.6 356.4h1v1h-1zM81.5 358.5h1v1h-1zM55.7 365.1h1v1h-1zM67.0 348.2h1v1h-1zM77.7 356.7h1v1h-1zM39.6 378.3h1v1h-1zM84.4 346.8h1v1h-1zM87.7 351.2h1v1h-1zM39.7 385.3h1v1h-1zM89.1 350.1h1v1h-1zM68.3 371.2h1v1h-1zM77.4 380.4h1v1h-1zM85.8 343.3h1v1h-1zM77.7 349.2h1v1h-1zM75.0 357.0h1v1h-1zM84.7 356.2h1v1h-1zM84.3 340.5h1v1h-1zM82.8 342.4h1v1h-1zM61.9 360.6h1v1h-1zM87.9 337.8h1v1h-1zM74.0 364.3h1v1h-1zM86.1 370.1h1v1h-1zM82.2 341.2h1v1h-1zM69.3 371.6h1v1h-1zM74.2 349.3h1v1h-1zM86.4 348.9h1v1h-1zM81.3 342.5h1v1h-1zM79.2 334.9h1v1h-1zM86.6 366.7h1v1h-1zM92.4 352.4h1v1h-1zM78.4 346.4h1v1h-1zM63.4 367.0h1v1h-1zM89.1 350.7h1v1h-1zM75.5 344.5h1v1h-1zM91.0 377.8h1v1h-1zM80.0 349.1h1v1h-1zM73.2 385.7h1v1h-1zM57.2 379.7h1v1h-1zM84.1 340.3h1v1h-1zM89.6 344.5h1v1h-1zM88.2 338.8h1v1h-1zM62.4 375.1h1v1h-1zM87.9 371.4h1v1h-1zM89.9 339.9h1v1h-1zM82.3 339.7h1v1h-1zM74.8 355.5h1v1h-1zM75.5 357.6h1v1h-1zM96.0 341.4h1v1h-1zM72.9 351.5h1v1h-1zM83.7 343.5h1v1h-1zM73.9 352.4h1v1h-1zM84.6 364.7h1v1h-1zM80.6 346.8h1v1h-1zM78.9 369.4h1v1h-1zM79.0 360.7h1v1h-1zM63.9 374.6h1v1h-1zM82.0 354.6h1v1h-1zM78.1 373.8h1v1h-1zM68.3 355.4h1v1h-1zM73.4 377.1h1v1h-1zM104.1 362.0h1v1h-1zM66.6 374.5h1v1h-1zM84.8 354.2h1v1h-1zM73.4 346.2h1v1h-1zM77.7 365.7h1v1h-1zM68.8 363.5h1v1h-1zM85.0 348.7h1v1h-1zM75.5 365.9h1v1h-1zM72.0 348.1h1v1h-1zM87.8 349.3h1v1h-1zM71.2 370.2h1v1h-1zM68.7 352.7h1v1h-1zM78.0 354.9h1v1h-1zM69.3 356.6h1v1h-1zM80.5 355.7h1v1h-1zM82.2 340.5h1v1h-1zM79.1 352.6h1v1h-1zM72.6 379.3h1v1h-1zM68.1 355.3h1v1h-1zM73.2 385.1h1v1h-1zM64.6 343.8h1v1h-1zM91.2 352.9h1v1h-1zM84.9 342.8h1v1h-1zM80.3 347.5h1v1h-1zM59.9 382.9h1v1h-1zM74.5 374.9h1v1h-1zM82.6 340.1h1v1h-1zM77.0 355.9h1v1h-1zM82.2 357.5h1v1h-1zM66.0 377.1h1v1h-1zM62.1 386.3h1v1h-1zM70.1 380.2h1v1h-1zM83.3 354.5h1v1h-1zM65.7 378.2h1v1h-1zM79.3 357.0h1v1h-1zM67.8 386.9h1v1h-1zM76.4 371.0h1v1h-1zM83.8 367.9h1v1h-1zM70.9 355.5h1v1h-1zM64.7 384.9h1v1h-1zM73.1 364.0h1v1h-1zM74.3 374.5h1v1h-1zM82.7 371.4h1v1h-1zM81.8 347.7h1v1h-1zM76.7 364.6h1v1h-1zM90.7 351.9h1v1h-1zM74.8 341.6h1v1h-1zM75.5 348.2h1v1h-1zM76.5 350.6h1v1h-1zM79.2 354.9h1v1h-1zM72.3 370.0h1v1h-1zM77.6 352.5h1v1h-1zM97.4 343.6h1v1h-1zM77.4 347.2h1v1h-1zM75.1 355.7h1v1h-1zM91.0 348.2h1v1h-1zM86.4 351.1h1v1h-1zM74.3 362.9h1v1h-1zM85.5 342.5h1v1h-1zM77.6 368.9h1v1h-1zM78.3 359.5h1v1h-1zM87.9 347.6h1v1h-1zM63.8 371.3h1v1h-1zM67.1 382.7h1v1h-1zM67.9 345.3h1v1h-1zM75.5 338.3h1v1h-1zM55.5 381.0h1v1h-1zM79.7 373.0h1v1h-1zM75.5 351.5h1v1h-1zM82.1 347.3h1v1h-1zM65.7 368.6h1v1h-1zM74.5 360.8h1v1h-1zM79.3 346.9h1v1h-1zM68.1 356.4h1v1h-1zM73.9 380.2h1v1h-1zM51.7 384.8h1v1h-1zM89.0 337.0h1v1h-1zM103.7 338.4h1v1h-1zM78.0 344.6h1v1h-1zM76.7 360.1h1v1h-1zM68.6 345.8h1v1h-1zM73.3 369.8h1v1h-1zM62.4 361.3h1v1h-1zM75.3 374.3h1v1h-1zM76.7 348.6h1v1h-1zM53.8 378.5h1v1h-1zM66.3 361.3h1v1h-1zM65.0 354.6h1v1h-1zM79.2 345.1h1v1h-1zM90.1 343.6h1v1h-1zM61.8 376.2h1v1h-1zM72.7 344.2h1v1h-1zM70.9 353.5h1v1h-1zM67.3 381.3h1v1h-1zM61.4 345.7h1v1h-1zM81.8 356.9h1v1h-1zM83.9 347.7h1v1h-1zM53.2 365.1h1v1h-1zM86.8 355.1h1v1h-1zM65.9 351.8h1v1h-1zM76.8 350.6h1v1h-1zM81.5 370.6h1v1h-1zM61.5 355.5h1v1h-1zM67.5 343.0h1v1h-1zM67.7 357.4h1v1h-1zM69.2 349.3h1v1h-1zM79.7 345.1h1v1h-1zM68.8 368.5h1v1h-1zM66.8 369.4h1v1h-1zM76.4 344.8h1v1h-1zM71.4 356.0h1v1h-1zM65.9 366.1h1v1h-1zM80.2 354.4h1v1h-1zM74.9 362.0h1v1h-1zM71.4 355.1h1v1h-1zM97.0 343.2h1v1h-1zM66.0 357.2h1v1h-1zM86.1 346.0h1v1h-1zM57.6 386.7h1v1h-1zM85.6 342.0h1v1h-1zM84.8 349.2h1v1h-1zM87.6 348.7h1v1h-1zM79.8 373.9h1v1h-1zM62.8 371.3h1v1h-1zM100.6 359.0h1v1h-1zM76.3 362.3h1v1h-1zM77.8 340.4h1v1h-1zM71.3 347.7h1v1h-1zM91.1 369.7h1v1h-1zM82.7 374.9h1v1h-1zM83.3 344.6h1v1h-1zM78.5 367.9h1v1h-1zM86.8 358.2h1v1h-1zM72.6 367.6h1v1h-1zM61.0 389.0h1v1h-1zM79.1 352.3h1v1h-1zM74.2 383.3h1v1h-1zM75.5 358.8h1v1h-1zM71.7 343.9h1v1h-1zM89.5 339.7h1v1h-1zM60.2 363.1h1v1h-1zM74.4 345.6h1v1h-1zM89.6 352.8h1v1h-1zM86.2 339.9h1v1h-1zM66.4 382.6h1v1h-1zM65.3 376.9h1v1h-1zM77.2 369.9h1v1h-1zM80.8 350.4h1v1h-1zM56.8 365.9h1v1h-1zM79.6 355.0h1v1h-1zM54.6 348.3h1v1h-1zM60.5 356.4h1v1h-1zM91.8 345.8h1v1h-1zM80.0 362.9h1v1h-1zM78.8 337.8h1v1h-1zM72.7 364.9h1v1h-1zM82.4 347.0h1v1h-1zM91.5 342.4h1v1h-1zM68.2 361.3h1v1h-1zM66.8 359.2h1v1h-1zM78.8 341.8h1v1h-1zM69.5 375.5h1v1h-1zM68.6 380.7h1v1h-1zM59.7 388.8h1v1h-1zM81.2 359.2h1v1h-1zM66.3 359.3h1v1h-1zM71.1 366.6h1v1h-1zM78.5 335.1h1v1h-1zM75.0 342.0h1v1h-1zM91.9 343.9h1v1h-1zM80.3 345.0h1v1h-1zM75.7 334.1h1v1h-1zM79.8 353.6h1v1h-1zM74.4 342.4h1v1h-1zM73.3 375.7h1v1h-1zM73.2 378.8h1v1h-1zM92.1 337.6h1v1h-1zM67.4 353.6h1v1h-1zM75.2 359.9h1v1h-1zM79.3 385.5h1v1h-1zM64.9 382.4h1v1h-1zM93.7 343.4h1v1h-1zM80.6 375.5h1v1h-1zM61.7 364.6h1v1h-1zM89.4 349.0h1v1h-1zM83.3 358.7h1v1h-1zM82.4 360.6h1v1h-1zM86.8 365.9h1v1h-1zM72.4 377.8h1v1h-1zM79.5 351.3h1v1h-1zM86.6 351.3h1v1h-1zM63.6 378.3h1v1h-1zM68.0 390.6h1v1h-1zM49.5 386.2h1v1h-1zM90.5 354.1h1v1h-1zM70.9 362.8h1v1h-1zM81.3 357.0h1v1h-1zM87.0 341.1h1v1h-1zM68.0 375.6h1v1h-1zM72.4 369.7h1v1h-1zM84.5 336.7h1v1h-1zM49.6 388.0h1v1h-1zM64.4 379.4h1v1h-1zM88.2 352.2h1v1h-1zM73.2 338.5h1v1h-1zM75.2 335.6h1v1h-1zM92.1 357.7h1v1h-1zM84.6 364.4h1v1h-1zM87.6 359.0h1v1h-1zM73.7 358.8h1v1h-1zM76.3 366.2h1v1h-1zM84.7 353.1h1v1h-1zM88.6 340.3h1v1h-1zM71.3 365.3h1v1h-1zM69.0 350.7h1v1h-1zM64.3 371.4h1v1h-1zM66.8 344.9h1v1h-1zM82.3 370.4h1v1h-1zM79.0 340.8h1v1h-1zM75.3 355.9h1v1h-1zM80.6 355.1h1v1h-1zM82.9 339.9h1v1h-1zM87.9 338.2h1v1h-1zM66.7 374.5h1v1h-1zM60.2 366.1h1v1h-1zM90.8 355.2h1v1h-1zM73.1 351.0h1v1h-1zM76.8 343.0h1v1h-1zM72.3 353.0h1v1h-1zM77.3 347.2h1v1h-1zM81.3 344.0h1v1h-1zM77.0 372.8h1v1h-1zM73.6 342.1h1v1h-1zM78.5 358.2h1v1h-1zM77.1 339.8h1v1h-1zM90.3 344.6h1v1h-1zM72.7 337.3h1v1h-1zM82.5 344.8h1v1h-1zM75.4 371.9h1v1h-1zM61.5 364.9h1v1h-1zM84.5 336.3h1v1h-1zM72.6 364.9h1v1h-1zM75.6 341.2h1v1h-1zM82.0 340.6h1v1h-1zM91.0 342.0h1v1h-1zM70.8 372.5h1v1h-1zM74.7 353.4h1v1h-1zM76.1 358.5h1v1h-1zM81.9 352.4h1v1h-1zM77.7 383.8h1v1h-1zM84.2 354.5h1v1h-1zM79.2 367.9h1v1h-1zM82.5 370.3h1v1h-1zM53.2 385.3h1v1h-1zM67.6 346.1h1v1h-1zM48.9 378.7h1v1h-1zM77.9 367.7h1v1h-1zM47.8 374.1h1v1h-1zM80.5 341.7h1v1h-1zM81.3 362.5h1v1h-1zM62.7 363.4h1v1h-1zM71.6 358.7h1v1h-1zM69.9 367.1h1v1h-1zM90.0 329.4h1v1h-1zM58.2 370.9h1v1h-1zM74.8 364.2h1v1h-1zM80.0 359.5h1v1h-1zM73.3 365.0h1v1h-1zM80.3 347.7h1v1h-1zM90.5 343.7h1v1h-1zM80.3 354.8h1v1h-1zM82.7 342.1h1v1h-1zM69.3 364.5h1v1h-1zM79.5 359.8h1v1h-1zM66.7 376.4h1v1h-1zM84.6 350.2h1v1h-1zM69.5 374.8h1v1h-1zM82.7 358.9h1v1h-1zM66.7 362.6h1v1h-1zM78.5 349.2h1v1h-1zM68.2 376.3h1v1h-1zM86.3 343.1h1v1h-1zM82.7 361.8h1v1h-1zM72.3 372.0h1v1h-1zM83.7 353.2h1v1h-1zM91.1 360.7h1v1h-1zM77.9 374.8h1v1h-1zM65.2 364.3h1v1h-1zM56.1 379.7h1v1h-1zM70.9 377.9h1v1h-1zM78.8 343.7h1v1h-1zM84.7 342.5h1v1h-1zM80.2 348.2h1v1h-1zM87.0 355.7h1v1h-1zM92.8 337.1h1v1h-1zM57.0 380.2h1v1h-1zM66.7 382.8h1v1h-1zM67.2 376.3h1v1h-1zM71.3 345.3h1v1h-1zM83.3 353.1h1v1h-1zM70.1 368.7h1v1h-1zM69.7 382.9h1v1h-1zM101.5 342.1h1v1h-1zM77.8 375.2h1v1h-1zM71.4 383.1h1v1h-1zM77.5 349.2h1v1h-1zM59.3 375.4h1v1h-1zM90.7 347.8h1v1h-1zM69.4 367.0h1v1h-1zM70.3 376.3h1v1h-1zM67.4 367.1h1v1h-1zM70.7 375.0h1v1h-1zM100.8 341.4h1v1h-1zM78.6 343.3h1v1h-1zM78.5 342.1h1v1h-1zM83.0 344.5h1v1h-1zM76.5 360.3h1v1h-1zM66.0 359.0h1v1h-1zM60.6 357.8h1v1h-1zM63.0 372.2h1v1h-1zM63.8 383.2h1v1h-1zM68.7 363.0h1v1h-1zM67.6 359.9h1v1h-1zM72.7 346.5h1v1h-1zM80.3 340.1h1v1h-1zM67.7 368.8h1v1h-1zM65.7 349.1h1v1h-1zM78.9 342.8h1v1h-1zM86.2 340.6h1v1h-1zM77.7 347.5h1v1h-1zM61.5 367.4h1v1h-1zM77.8 345.1h1v1h-1zM78.8 351.6h1v1h-1zM76.3 365.9h1v1h-1zM63.1 354.5h1v1h-1zM71.2 381.5h1v1h-1zM70.4 361.7h1v1h-1zM85.2 340.0h1v1h-1zM75.0 371.6h1v1h-1zM73.9 344.3h1v1h-1zM73.0 349.4h1v1h-1zM77.8 352.3h1v1h-1zM88.9 334.9h1v1h-1zM69.7 359.9h1v1h-1zM54.8 379.0h1v1h-1zM76.2 343.1h1v1h-1zM74.0 371.3h1v1h-1zM87.9 346.0h1v1h-1zM73.2 354.9h1v1h-1zM64.5 372.0h1v1h-1zM78.0 345.8h1v1h-1zM70.7 364.6h1v1h-1zM67.6 357.3h1v1h-1zM74.0 350.5h1v1h-1zM83.2 341.5h1v1h-1zM75.4 358.4h1v1h-1zM72.2 364.7h1v1h-1zM40.5 281.0h1v1h-1zM84.7 316.0h1v1h-1zM102.5 298.0h1v1h-1zM75.8 386.3h1v1h-1zM37.9 350.6h1v1h-1zM40.6 291.0h1v1h-1zM89.5 350.8h1v1h-1zM80.2 337.8h1v1h-1zM72.1 363.7h1v1h-1zM87.8 353.5h1v1h-1zM94.7 365.6h1v1h-1zM99.9 343.2h1v1h-1zM105.7 346.2h1v1h-1zM89.2 368.3h1v1h-1zM91.3 359.5h1v1h-1zM98.3 342.8h1v1h-1zM96.6 356.1h1v1h-1zM101.1 362.5h1v1h-1zM89.2 362.2h1v1h-1zM93.2 352.8h1v1h-1zM88.1 350.7h1v1h-1zM93.8 370.4h1v1h-1zM83.8 370.7h1v1h-1zM86.5 351.5h1v1h-1zM87.7 348.1h1v1h-1zM86.5 350.7h1v1h-1zM95.3 369.8h1v1h-1zM85.6 344.6h1v1h-1zM94.3 359.3h1v1h-1zM97.3 345.9h1v1h-1zM86.2 337.8h1v1h-1zM69.3 369.1h1v1h-1zM97.8 350.0h1v1h-1zM83.8 350.5h1v1h-1zM73.5 343.2h1v1h-1zM90.5 338.9h1v1h-1zM89.9 346.3h1v1h-1zM92.2 350.5h1v1h-1zM87.5 335.5h1v1h-1zM87.5 348.6h1v1h-1zM72.6 343.2h1v1h-1zM96.4 358.2h1v1h-1zM95.8 375.4h1v1h-1zM94.7 368.2h1v1h-1zM93.9 348.2h1v1h-1zM91.9 340.4h1v1h-1z" fill="#2a2a2a" fill-opacity="0.7"/>
<line x1="77.50" y1="275.50" x2="77.50" y2="395.50" stroke="#a8a8a8" stroke-width="1"/>
<line x1="107.50" y1="275.50" x2="107.50" y2="385.50" stroke="#a8a8a8" stroke-width="1"/>
<line x1="28.50" y1="337.50" x2="107.50" y2="337.50" stroke="#a8a8a8" stroke-width="1"/>
<line x1="28.50" y1="337.50" x2="28.50" y2="395.50" stroke="#a8a8a8" stroke-width="1"/>
<line x1="77.50" y1="385.50" x2="107.50" y2="385.50" stroke="#a8a8a8" stroke-width="1"/>
<rect x="24.10" y="275.50" width="119.20" height="120.00" fill="none" stroke="#444" stroke-width="1.1"/>
<line x1="21.60" y1="395.50" x2="24.10" y2="395.50" stroke="#444" stroke-width="0.8"/>
<line x1="22.80" y1="386.47" x2="24.10" y2="386.47" stroke="#444" stroke-width="0.8"/>
<line x1="22.80" y1="381.19" x2="24.10" y2="381.19" stroke="#444" stroke-width="0.8"/>
<line x1="22.80" y1="377.44" x2="24.10" y2="377.44" stroke="#444" stroke-width="0.8"/>
<line x1="22.80" y1="374.53" x2="24.10" y2="374.53" stroke="#444" stroke-width="0.8"/>
<line x1="22.80" y1="372.16" x2="24.10" y2="372.16" stroke="#444" stroke-width="0.8"/>
<line x1="22.80" y1="370.15" x2="24.10" y2="370.15" stroke="#444" stroke-width="0.8"/>
<line x1="22.80" y1="368.41" x2="24.10" y2="368.41" stroke="#444" stroke-width="0.8"/>
<line x1="22.80" y1="366.87" x2="24.10" y2="366.87" stroke="#444" stroke-width="0.8"/>
<line x1="24.10" y1="395.50" x2="24.10" y2="398.00" stroke="#444" stroke-width="0.8"/>
<line x1="33.13" y1="395.50" x2="33.13" y2="396.80" stroke="#444" stroke-width="0.8"/>
<line x1="38.41" y1="395.50" x2="38.41" y2="396.80" stroke="#444" stroke-width="0.8"/>
<line x1="42.16" y1="395.50" x2="42.16" y2="396.80" stroke="#444" stroke-width="0.8"/>
<line x1="45.07" y1="395.50" x2="45.07" y2="396.80" stroke="#444" stroke-width="0.8"/>
<line x1="47.44" y1="395.50" x2="47.44" y2="396.80" stroke="#444" stroke-width="0.8"/>
<line x1="49.45" y1="395.50" x2="49.45" y2="396.80" stroke="#444" stroke-width="0.8"/>
<line x1="51.19" y1="395.50" x2="51.19" y2="396.80" stroke="#444" stroke-width="0.8"/>
<line x1="52.73" y1="395.50" x2="52.73" y2="396.80" stroke="#444" stroke-width="0.8"/>
<line x1="21.60" y1="365.50" x2="24.10" y2="365.50" stroke="#444" stroke-width="0.8"/>
<line x1="22.80" y1="356.47" x2="24.10" y2="356.47" stroke="#444" stroke-width="0.8"/>
<line x1="22.80" y1="351.19" x2="24.10" y2="351.19" stroke="#444" stroke-width="0.8"/>
<line x1="22.80" y1="347.44" x2="24.10" y2="347.44" stroke="#444" stroke-width="0.8"/>
<line x1="22.80" y1="344.53" x2="24.10" y2="344.53" stroke="#444" stroke-width="0.8"/>
<line x1="22.80" y1="342.16" x2="24.10" y2="342.16" stroke="#444" stroke-width="0.8"/>
<line x1="22.80" y1="340.15" x2="24.10" y2="340.15" stroke="#444" stroke-width="0.8"/>
<line x1="22.80" y1="338.41" x2="24.10" y2="338.41" stroke="#444" stroke-width="0.8"/>
<line x1="22.80" y1="336.87" x2="24.10" y2="336.87" stroke="#444" stroke-width="0.8"/>
<line x1="54.10" y1="395.50" x2="54.10" y2="398.00" stroke="#444" stroke-width="0.8"/>
<line x1="63.13" y1="395.50" x2="63.13" y2="396.80" stroke="#444" stroke-width="0.8"/>
<line x1="68.41" y1="395.50" x2="68.41" y2="396.80" stroke="#444" stroke-width="0.8"/>
<line x1="72.16" y1="395.50" x2="72.16" y2="396.80" stroke="#444" stroke-width="0.8"/>
<line x1="75.07" y1="395.50" x2="75.07" y2="396.80" stroke="#444" stroke-width="0.8"/>
<line x1="77.44" y1="395.50" x2="77.44" y2="396.80" stroke="#444" stroke-width="0.8"/>
<line x1="79.45" y1="395.50" x2="79.45" y2="396.80" stroke="#444" stroke-width="0.8"/>
<line x1="81.19" y1="395.50" x2="81.19" y2="396.80" stroke="#444" stroke-width="0.8"/>
<line x1="82.73" y1="395.50" x2="82.73" y2="396.80" stroke="#444" stroke-width="0.8"/>
<line x1="21.60" y1="335.50" x2="24.10" y2="335.50" stroke="#444" stroke-width="0.8"/>
<line x1="22.80" y1="326.47" x2="24.10" y2="326.47" stroke="#444" stroke-width="0.8"/>
<line x1="22.80" y1="321.19" x2="24.10" y2="321.19" stroke="#444" stroke-width="0.8"/>
<line x1="22.80" y1="317.44" x2="24.10" y2="317.44" stroke="#444" stroke-width="0.8"/>
<line x1="22.80" y1="314.53" x2="24.10" y2="314.53" stroke="#444" stroke-width="0.8"/>
<line x1="22.80" y1="312.16" x2="24.10" y2="312.16" stroke="#444" stroke-width="0.8"/>
<line x1="22.80" y1="310.15" x2="24.10" y2="310.15" stroke="#444" stroke-width="0.8"/>
<line x1="22.80" y1="308.41" x2="24.10" y2="308.41" stroke="#444" stroke-width="0.8"/>
<line x1="22.80" y1="306.87" x2="24.10" y2="306.87" stroke="#444" stroke-width="0.8"/>
<line x1="84.10" y1="395.50" x2="84.10" y2="398.00" stroke="#444" stroke-width="0.8"/>
<line x1="93.13" y1="395.50" x2="93.13" y2="396.80" stroke="#444" stroke-width="0.8"/>
<line x1="98.41" y1="395.50" x2="98.41" y2="396.80" stroke="#444" stroke-width="0.8"/>
<line x1="102.16" y1="395.50" x2="102.16" y2="396.80" stroke="#444" stroke-width="0.8"/>
<line x1="105.07" y1="395.50" x2="105.07" y2="396.80" stroke="#444" stroke-width="0.8"/>
<line x1="107.44" y1="395.50" x2="107.44" y2="396.80" stroke="#444" stroke-width="0.8"/>
<line x1="109.45" y1="395.50" x2="109.45" y2="396.80" stroke="#444" stroke-width="0.8"/>
<line x1="111.19" y1="395.50" x2="111.19" y2="396.80" stroke="#444" stroke-width="0.8"/>
<line x1="112.73" y1="395.50" x2="112.73" y2="396.80" stroke="#444" stroke-width="0.8"/>
<line x1="21.60" y1="305.50" x2="24.10" y2="305.50" stroke="#444" stroke-width="0.8"/>
<line x1="22.80" y1="296.47" x2="24.10" y2="296.47" stroke="#444" stroke-width="0.8"/>
<line x1="22.80" y1="291.19" x2="24.10" y2="291.19" stroke="#444" stroke-width="0.8"/>
<line x1="22.80" y1="287.44" x2="24.10" y2="287.44" stroke="#444" stroke-width="0.8"/>
<line x1="22.80" y1="284.53" x2="24.10" y2="284.53" stroke="#444" stroke-width="0.8"/>
<line x1="22.80" y1="282.16" x2="24.10" y2="282.16" stroke="#444" stroke-width="0.8"/>
<line x1="22.80" y1="280.15" x2="24.10" y2="280.15" stroke="#444" stroke-width="0.8"/>
<line x1="22.80" y1="278.41" x2="24.10" y2="278.41" stroke="#444" stroke-width="0.8"/>
<line x1="22.80" y1="276.87" x2="24.10" y2="276.87" stroke="#444" stroke-width="0.8"/>
<line x1="114.10" y1="395.50" x2="114.10" y2="398.00" stroke="#444" stroke-width="0.8"/>
<line x1="123.13" y1="395.50" x2="123.13" y2="396.80" stroke="#444" stroke-width="0.8"/>
<line x1="128.41" y1="395.50" x2="128.41" y2="396.80" stroke="#444" stroke-width="0.8"/>
<line x1="132.16" y1="395.50" x2="132.16" y2="396.80" stroke="#444" stroke-width="0.8"/>
<line x1="135.07" y1="395.50" x2="135.07" y2="396.80" stroke="#444" stroke-width="0.8"/>
<line x1="137.44" y1="395.50" x2="137.44" y2="396.80" stroke="#444" stroke-width="0.8"/>
<line x1="139.45" y1="395.50" x2="139.45" y2="396.80" stroke="#444" stroke-width="0.8"/>
<line x1="141.19" y1="395.50" x2="141.19" y2="396.80" stroke="#444" stroke-width="0.8"/>
<line x1="142.73" y1="395.50" x2="142.73" y2="396.80" stroke="#444" stroke-width="0.8"/>
<text x="79.50" y="270.10" font-size="11.6" text-anchor="middle" fill="#000" stroke="#000" stroke-width="0.4">Wildtype</text>
<text x="77.80" y="287.60" font-size="11.6" text-anchor="start" fill="#000" stroke="#000" stroke-width="0.5">GMP</text>
<text x="77.50" y="301.60" font-size="11.6" text-anchor="start" fill="#000" stroke="#000" stroke-width="0.5">0.59%</text>
<text x="24.20" y="336.20" font-size="11.6" text-anchor="start" fill="#000" stroke="#000" stroke-width="0.5">MEP</text>
<text x="24.20" y="350.20" font-size="11.6" text-anchor="start" fill="#000" stroke="#000" stroke-width="0.5">0.57%</text>
<text x="109.00" y="366.00" font-size="11.6" text-anchor="start" fill="#000" stroke="#000" stroke-width="0.5">CMP</text>
<text x="109.00" y="379.30" font-size="11.6" text-anchor="start" fill="#000" stroke="#000" stroke-width="0.5">0.56%</text>
<path d="M205.5 329.3h1v1h-1zM211.4 336.9h1v1h-1zM208.1 335.8h1v1h-1zM213.3 332.5h1v1h-1zM200.0 329.7h1v1h-1zM209.1 333.8h1v1h-1zM199.4 337.6h1v1h-1zM207.0 338.6h1v1h-1zM211.1 331.5h1v1h-1zM206.5 330.5h1v1h-1zM202.3 332.0h1v1h-1zM208.3 337.8h1v1h-1zM202.1 335.5h1v1h-1zM206.2 332.3h1v1h-1zM211.1 331.8h1v1h-1zM212.2 331.9h1v1h-1zM202.0 335.7h1v1h-1zM199.6 329.0h1v1h-1zM205.3 333.1h1v1h-1zM204.9 326.2h1v1h-1zM200.2 334.9h1v1h-1zM208.5 329.6h1v1h-1zM207.3 333.8h1v1h-1zM210.7 330.6h1v1h-1zM212.7 332.1h1v1h-1zM212.6 336.3h1v1h-1zM201.6 332.0h1v1h-1zM207.4 336.7h1v1h-1zM200.0 331.4h1v1h-1zM208.9 334.8h1v1h-1zM201.4 330.0h1v1h-1zM208.1 329.6h1v1h-1zM207.2 336.3h1v1h-1zM206.2 323.8h1v1h-1zM211.4 337.1h1v1h-1zM212.5 336.1h1v1h-1zM198.6 338.1h1v1h-1zM207.7 336.4h1v1h-1zM205.4 332.3h1v1h-1zM205.1 338.7h1v1h-1zM207.4 332.4h1v1h-1zM200.4 334.8h1v1h-1zM206.2 333.7h1v1h-1zM210.6 335.6h1v1h-1zM206.2 333.9h1v1h-1zM206.6 335.6h1v1h-1zM209.3 333.6h1v1h-1zM202.3 336.1h1v1h-1zM210.2 329.4h1v1h-1zM207.9 331.8h1v1h-1zM196.3 333.0h1v1h-1zM210.4 330.6h1v1h-1zM203.0 336.7h1v1h-1zM201.2 329.8h1v1h-1zM204.7 335.3h1v1h-1zM208.9 331.2h1v1h-1zM204.7 333.4h1v1h-1zM204.4 330.1h1v1h-1zM201.2 335.6h1v1h-1zM205.1 343.1h1v1h-1zM208.9 330.5h1v1h-1zM206.1 334.3h1v1h-1zM207.9 334.6h1v1h-1zM208.1 332.6h1v1h-1zM209.0 340.7h1v1h-1zM204.1 331.7h1v1h-1zM209.3 337.4h1v1h-1zM209.8 337.3h1v1h-1zM205.9 332.3h1v1h-1zM209.0 335.4h1v1h-1zM213.6 338.5h1v1h-1zM197.9 335.8h1v1h-1zM203.1 325.7h1v1h-1zM207.8 332.5h1v1h-1zM204.5 328.6h1v1h-1zM201.5 332.3h1v1h-1zM199.4 332.7h1v1h-1zM206.6 332.5h1v1h-1zM207.4 332.8h1v1h-1zM200.8 329.4h1v1h-1zM206.6 336.4h1v1h-1zM206.7 331.3h1v1h-1zM206.8 326.7h1v1h-1zM201.6 331.7h1v1h-1zM205.7 331.9h1v1h-1zM204.8 328.9h1v1h-1zM203.4 333.9h1v1h-1zM197.7 328.8h1v1h-1zM204.4 338.2h1v1h-1zM209.0 338.5h1v1h-1zM212.0 331.4h1v1h-1zM205.7 328.9h1v1h-1zM211.3 335.5h1v1h-1zM208.7 335.3h1v1h-1zM208.1 333.7h1v1h-1zM207.2 337.2h1v1h-1zM202.5 329.4h1v1h-1zM206.0 337.1h1v1h-1zM207.1 332.3h1v1h-1zM209.7 333.4h1v1h-1zM197.5 329.5h1v1h-1zM196.6 332.2h1v1h-1zM204.0 334.5h1v1h-1zM215.5 330.9h1v1h-1zM206.1 331.7h1v1h-1zM193.4 330.4h1v1h-1zM202.8 334.0h1v1h-1zM202.3 328.5h1v1h-1zM208.7 332.8h1v1h-1zM202.0 330.4h1v1h-1zM202.7 336.1h1v1h-1zM216.4 325.5h1v1h-1zM214.3 332.3h1v1h-1zM207.9 336.9h1v1h-1zM197.4 336.3h1v1h-1zM194.7 329.7h1v1h-1zM198.3 340.4h1v1h-1zM218.1 335.8h1v1h-1zM209.2 329.4h1v1h-1zM218.9 339.0h1v1h-1zM212.3 331.5h1v1h-1zM202.3 331.6h1v1h-1zM215.7 327.4h1v1h-1zM206.1 340.2h1v1h-1zM212.2 340.8h1v1h-1zM208.5 334.3h1v1h-1zM216.2 335.4h1v1h-1zM208.0 329.6h1v1h-1zM193.5 339.6h1v1h-1zM202.0 328.5h1v1h-1zM212.2 327.8h1v1h-1zM194.6 329.4h1v1h-1zM204.8 333.6h1v1h-1zM209.4 337.0h1v1h-1zM204.4 334.0h1v1h-1zM204.5 329.1h1v1h-1zM208.6 334.0h1v1h-1zM220.1 335.2h1v1h-1zM199.9 335.2h1v1h-1zM203.4 340.1h1v1h-1zM191.9 329.0h1v1h-1zM200.2 332.8h1v1h-1zM204.4 324.4h1v1h-1zM190.7 333.2h1v1h-1zM217.0 339.4h1v1h-1zM202.2 334.5h1v1h-1zM198.6 325.1h1v1h-1zM215.1 335.6h1v1h-1zM202.8 330.4h1v1h-1zM212.7 333.9h1v1h-1zM202.8 333.7h1v1h-1zM205.4 330.3h1v1h-1zM199.8 336.8h1v1h-1zM201.7 326.5h1v1h-1zM219.7 338.4h1v1h-1zM209.6 332.0h1v1h-1zM207.0 325.1h1v1h-1zM205.3 333.6h1v1h-1zM203.9 334.4h1v1h-1zM199.4 333.2h1v1h-1zM193.1 332.1h1v1h-1zM200.5 325.7h1v1h-1zM202.2 332.3h1v1h-1zM200.7 336.8h1v1h-1zM199.8 336.8h1v1h-1zM211.0 329.2h1v1h-1zM216.6 325.5h1v1h-1zM209.5 332.5h1v1h-1zM211.3 324.5h1v1h-1zM195.9 328.1h1v1h-1zM194.6 356.8h1v1h-1zM189.5 351.7h1v1h-1zM188.6 357.9h1v1h-1zM195.7 365.4h1v1h-1zM182.5 340.7h1v1h-1zM189.0 360.0h1v1h-1zM193.0 371.1h1v1h-1zM200.7 366.8h1v1h-1zM202.3 342.9h1v1h-1zM194.7 352.2h1v1h-1zM189.4 392.0h1v1h-1zM186.7 392.7h1v1h-1zM213.2 364.6h1v1h-1zM214.5 354.7h1v1h-1zM198.2 345.1h1v1h-1zM214.7 337.0h1v1h-1zM186.5 374.7h1v1h-1zM185.0 360.6h1v1h-1zM195.5 366.2h1v1h-1zM198.2 367.3h1v1h-1zM165.2 377.2h1v1h-1zM172.4 390.0h1v1h-1zM208.0 354.2h1v1h-1zM203.5 346.8h1v1h-1zM180.0 384.8h1v1h-1zM215.8 340.4h1v1h-1zM190.6 361.0h1v1h-1zM220.5 349.5h1v1h-1zM177.3 370.8h1v1h-1zM190.3 353.0h1v1h-1zM186.0 349.6h1v1h-1zM189.2 376.8h1v1h-1zM179.8 380.6h1v1h-1zM194.4 369.5h1v1h-1zM201.1 366.4h1v1h-1zM207.7 345.6h1v1h-1zM194.5 376.4h1v1h-1zM205.3 356.3h1v1h-1zM192.8 361.3h1v1h-1zM192.6 352.2h1v1h-1zM188.6 346.6h1v1h-1zM196.1 361.2h1v1h-1zM191.3 355.1h1v1h-1zM173.3 382.6h1v1h-1zM174.8 384.4h1v1h-1zM184.7 374.3h1v1h-1zM196.0 363.8h1v1h-1zM175.5 390.4h1v1h-1zM188.7 347.0h1v1h-1zM197.7 363.2h1v1h-1zM183.1 335.5h1v1h-1zM183.7 368.8h1v1h-1zM203.0 359.7h1v1h-1zM182.7 382.6h1v1h-1zM208.8 352.9h1v1h-1zM200.0 346.0h1v1h-1zM194.0 373.7h1v1h-1zM194.9 352.3h1v1h-1zM187.9 363.5h1v1h-1zM191.2 367.2h1v1h-1zM211.3 345.8h1v1h-1zM176.4 353.7h1v1h-1zM175.2 381.2h1v1h-1zM181.6 332.1h1v1h-1zM185.2 354.2h1v1h-1zM181.0 364.6h1v1h-1zM193.8 349.0h1v1h-1zM178.8 380.6h1v1h-1zM209.2 347.2h1v1h-1zM213.0 350.0h1v1h-1zM187.6 350.3h1v1h-1zM190.5 353.9h1v1h-1zM204.4 345.6h1v1h-1zM187.4 359.8h1v1h-1zM175.4 382.3h1v1h-1zM164.8 373.9h1v1h-1zM206.9 338.8h1v1h-1zM191.9 367.1h1v1h-1zM189.0 349.3h1v1h-1zM174.7 372.7h1v1h-1zM177.1 364.0h1v1h-1zM185.8 376.5h1v1h-1zM174.8 382.5h1v1h-1zM176.8 370.5h1v1h-1zM193.0 353.7h1v1h-1zM191.2 376.0h1v1h-1zM213.5 337.2h1v1h-1zM208.4 352.8h1v1h-1zM197.5 350.2h1v1h-1zM201.4 349.9h1v1h-1zM202.0 352.5h1v1h-1zM193.3 370.2h1v1h-1zM190.6 369.7h1v1h-1zM172.3 389.8h1v1h-1zM173.7 384.9h1v1h-1zM179.3 380.0h1v1h-1zM200.3 357.5h1v1h-1zM196.5 343.5h1v1h-1zM184.5 361.7h1v1h-1zM204.5 355.5h1v1h-1zM203.3 359.4h1v1h-1zM195.1 336.1h1v1h-1zM186.3 368.8h1v1h-1zM210.9 345.1h1v1h-1zM198.3 342.1h1v1h-1zM194.5 373.6h1v1h-1zM180.2 351.8h1v1h-1zM190.4 356.5h1v1h-1zM196.2 361.8h1v1h-1zM205.7 361.7h1v1h-1zM195.1 370.8h1v1h-1zM183.9 354.4h1v1h-1zM179.5 356.2h1v1h-1zM178.9 369.6h1v1h-1zM202.8 349.0h1v1h-1zM204.1 356.6h1v1h-1zM212.4 340.7h1v1h-1zM194.6 367.3h1v1h-1zM196.6 339.3h1v1h-1zM180.9 375.5h1v1h-1zM194.7 338.4h1v1h-1zM209.3 346.2h1v1h-1zM175.9 366.5h1v1h-1zM192.6 359.0h1v1h-1zM197.8 351.7h1v1h-1zM197.5 373.7h1v1h-1zM178.2 374.8h1v1h-1zM192.7 369.7h1v1h-1zM177.0 373.6h1v1h-1zM209.8 346.4h1v1h-1zM197.5 343.7h1v1h-1zM195.2 352.1h1v1h-1zM181.2 366.1h1v1h-1zM190.7 353.5h1v1h-1zM192.4 342.6h1v1h-1zM193.7 344.7h1v1h-1zM197.1 368.7h1v1h-1zM193.4 333.9h1v1h-1zM191.2 371.0h1v1h-1zM199.7 365.6h1v1h-1zM177.7 371.8h1v1h-1zM168.9 369.0h1v1h-1zM189.3 379.3h1v1h-1zM179.6 349.4h1v1h-1zM177.6 378.9h1v1h-1zM184.9 365.2h1v1h-1zM200.2 350.2h1v1h-1zM186.4 367.0h1v1h-1zM179.7 373.5h1v1h-1zM198.9 366.9h1v1h-1zM192.9 365.2h1v1h-1zM215.6 346.5h1v1h-1zM191.1 343.9h1v1h-1zM189.9 359.9h1v1h-1zM191.7 360.8h1v1h-1zM183.8 384.5h1v1h-1zM197.1 349.2h1v1h-1zM199.1 350.6h1v1h-1zM212.1 352.4h1v1h-1zM196.9 346.5h1v1h-1zM189.4 370.7h1v1h-1zM198.7 348.3h1v1h-1zM188.8 357.9h1v1h-1zM192.4 370.4h1v1h-1zM180.6 344.6h1v1h-1zM194.4 373.7h1v1h-1zM174.9 362.5h1v1h-1zM185.3 362.5h1v1h-1zM186.0 377.2h1v1h-1zM178.4 382.1h1v1h-1zM197.8 335.1h1v1h-1zM201.7 368.4h1v1h-1zM220.6 354.1h1v1h-1zM211.6 336.3h1v1h-1zM193.3 362.3h1v1h-1zM198.0 337.0h1v1h-1zM178.3 376.4h1v1h-1zM212.5 332.1h1v1h-1zM211.3 341.3h1v1h-1zM209.8 348.2h1v1h-1zM196.7 370.8h1v1h-1zM210.2 352.0h1v1h-1zM172.9 378.5h1v1h-1zM182.1 365.6h1v1h-1zM192.7 341.4h1v1h-1zM180.1 385.1h1v1h-1zM182.0 380.5h1v1h-1zM178.5 391.0h1v1h-1zM184.2 351.7h1v1h-1zM189.7 370.6h1v1h-1zM201.9 352.9h1v1h-1zM185.9 376.3h1v1h-1zM172.3 350.6h1v1h-1zM200.4 343.3h1v1h-1zM191.5 355.7h1v1h-1zM211.0 334.4h1v1h-1zM190.1 360.3h1v1h-1zM207.6 337.4h1v1h-1zM197.3 346.8h1v1h-1zM196.3 362.4h1v1h-1zM188.2 379.7h1v1h-1zM185.0 361.3h1v1h-1zM206.0 339.8h1v1h-1zM196.8 352.0h1v1h-1zM200.0 352.6h1v1h-1zM201.0 349.0h1v1h-1zM203.6 345.1h1v1h-1zM167.1 372.8h1v1h-1zM178.0 382.4h1v1h-1zM207.1 346.9h1v1h-1zM184.0 393.1h1v1h-1zM182.9 362.2h1v1h-1zM192.0 342.0h1v1h-1zM189.6 370.3h1v1h-1zM192.1 373.0h1v1h-1zM201.1 344.9h1v1h-1zM188.2 368.7h1v1h-1zM198.6 353.8h1v1h-1zM196.5 370.8h1v1h-1zM194.5 338.7h1v1h-1zM167.3 380.8h1v1h-1zM202.3 358.8h1v1h-1zM189.3 354.2h1v1h-1zM193.9 369.6h1v1h-1zM184.6 366.4h1v1h-1zM183.5 358.4h1v1h-1zM212.3 352.7h1v1h-1zM181.9 379.3h1v1h-1zM175.5 370.9h1v1h-1zM181.2 376.3h1v1h-1zM193.5 360.7h1v1h-1zM188.2 368.4h1v1h-1zM199.7 350.9h1v1h-1zM180.5 358.9h1v1h-1zM177.0 384.9h1v1h-1zM185.2 370.9h1v1h-1zM184.9 383.6h1v1h-1zM188.8 368.4h1v1h-1zM185.1 356.5h1v1h-1zM181.8 346.2h1v1h-1zM213.1 347.5h1v1h-1zM180.1 370.1h1v1h-1zM188.7 358.8h1v1h-1zM196.5 346.4h1v1h-1zM187.9 367.8h1v1h-1zM189.2 364.7h1v1h-1zM186.0 360.8h1v1h-1zM195.1 357.5h1v1h-1zM199.8 381.6h1v1h-1zM217.2 352.9h1v1h-1zM193.3 351.5h1v1h-1zM186.2 382.3h1v1h-1zM181.4 350.8h1v1h-1zM200.4 350.0h1v1h-1zM187.8 381.3h1v1h-1zM183.1 379.4h1v1h-1zM194.8 387.1h1v1h-1zM206.5 349.5h1v1h-1zM198.2 362.8h1v1h-1zM163.5 373.3h1v1h-1zM184.2 362.7h1v1h-1zM198.1 355.4h1v1h-1zM190.0 351.3h1v1h-1zM178.9 356.5h1v1h-1zM181.7 372.4h1v1h-1zM204.5 364.0h1v1h-1zM198.0 363.6h1v1h-1zM194.2 376.0h1v1h-1zM186.3 372.3h1v1h-1zM205.8 371.0h1v1h-1zM166.2 370.9h1v1h-1zM178.2 369.1h1v1h-1zM207.4 363.7h1v1h-1zM211.2 342.8h1v1h-1zM190.0 363.8h1v1h-1zM188.1 362.3h1v1h-1zM181.4 346.8h1v1h-1zM175.2 385.3h1v1h-1zM197.7 346.2h1v1h-1zM189.1 357.4h1v1h-1zM210.9 345.3h1v1h-1zM205.4 353.8h1v1h-1zM182.7 372.3h1v1h-1zM198.0 370.5h1v1h-1zM203.2 342.2h1v1h-1zM204.0 336.9h1v1h-1zM195.1 342.9h1v1h-1zM219.3 352.3h1v1h-1zM166.2 382.3h1v1h-1zM178.0 386.8h1v1h-1zM194.6 374.0h1v1h-1zM207.7 344.6h1v1h-1zM165.2 383.1h1v1h-1zM194.9 340.3h1v1h-1zM189.9 362.9h1v1h-1zM192.4 346.6h1v1h-1zM185.7 362.6h1v1h-1zM189.5 360.8h1v1h-1zM181.0 384.0h1v1h-1zM211.7 337.6h1v1h-1zM181.5 353.1h1v1h-1zM212.1 338.7h1v1h-1zM178.9 383.5h1v1h-1zM198.1 362.3h1v1h-1zM195.7 349.9h1v1h-1zM214.8 360.3h1v1h-1zM168.3 377.9h1v1h-1zM194.1 379.3h1v1h-1zM192.0 352.4h1v1h-1zM197.1 349.6h1v1h-1zM199.0 375.6h1v1h-1zM182.2 379.3h1v1h-1zM191.1 379.5h1v1h-1zM201.1 369.6h1v1h-1zM174.2 377.9h1v1h-1zM199.1 379.7h1v1h-1zM200.8 365.3h1v1h-1zM196.0 353.0h1v1h-1zM200.8 352.2h1v1h-1zM184.5 363.6h1v1h-1zM190.0 366.1h1v1h-1zM193.1 375.8h1v1h-1zM198.1 370.3h1v1h-1zM202.5 347.4h1v1h-1zM198.3 337.5h1v1h-1zM181.3 366.6h1v1h-1zM195.0 335.5h1v1h-1zM190.7 354.9h1v1h-1zM182.8 392.7h1v1h-1zM193.0 350.2h1v1h-1zM194.2 352.5h1v1h-1zM185.1 361.8h1v1h-1zM206.1 347.5h1v1h-1zM189.3 359.3h1v1h-1zM184.9 348.9h1v1h-1zM189.7 386.3h1v1h-1zM209.8 340.3h1v1h-1zM203.7 334.4h1v1h-1zM193.6 349.3h1v1h-1zM200.3 348.9h1v1h-1zM176.1 374.1h1v1h-1zM212.8 333.6h1v1h-1zM205.8 358.9h1v1h-1zM195.6 374.1h1v1h-1zM201.0 343.6h1v1h-1zM205.7 345.4h1v1h-1zM189.2 373.0h1v1h-1zM217.1 346.1h1v1h-1zM175.4 381.5h1v1h-1zM191.9 358.3h1v1h-1zM184.1 363.9h1v1h-1zM179.0 364.9h1v1h-1zM196.2 357.5h1v1h-1zM212.9 343.1h1v1h-1zM180.4 365.1h1v1h-1zM190.7 374.5h1v1h-1zM185.7 385.2h1v1h-1zM205.4 339.3h1v1h-1zM213.8 341.8h1v1h-1zM181.8 369.9h1v1h-1zM210.8 352.3h1v1h-1zM185.8 370.3h1v1h-1zM182.5 388.4h1v1h-1zM188.6 338.9h1v1h-1zM186.4 374.9h1v1h-1zM189.2 356.0h1v1h-1zM170.3 384.9h1v1h-1zM194.0 359.2h1v1h-1zM198.7 371.3h1v1h-1zM202.3 346.9h1v1h-1zM192.4 360.4h1v1h-1zM188.8 358.1h1v1h-1zM192.3 334.2h1v1h-1zM177.3 380.1h1v1h-1zM176.7 362.4h1v1h-1zM197.4 341.5h1v1h-1zM196.7 363.2h1v1h-1zM197.9 350.8h1v1h-1zM190.6 356.5h1v1h-1zM176.7 382.1h1v1h-1zM188.6 381.2h1v1h-1zM205.9 350.3h1v1h-1zM207.2 353.1h1v1h-1zM178.0 381.9h1v1h-1zM176.0 368.0h1v1h-1zM185.8 367.4h1v1h-1zM190.0 346.8h1v1h-1zM187.1 370.8h1v1h-1zM189.0 355.0h1v1h-1zM193.1 349.2h1v1h-1zM185.0 376.1h1v1h-1zM199.0 358.8h1v1h-1zM209.8 329.5h1v1h-1zM180.9 368.7h1v1h-1zM183.7 374.1h1v1h-1zM197.7 357.6h1v1h-1zM208.5 340.8h1v1h-1zM191.2 357.3h1v1h-1zM178.4 362.5h1v1h-1zM200.0 354.3h1v1h-1zM183.0 359.1h1v1h-1zM191.8 349.2h1v1h-1zM198.5 334.9h1v1h-1zM192.1 378.2h1v1h-1zM191.7 350.7h1v1h-1zM192.1 357.1h1v1h-1zM198.1 341.9h1v1h-1zM192.2 349.1h1v1h-1zM202.6 357.7h1v1h-1zM179.8 368.4h1v1h-1zM198.1 355.5h1v1h-1zM197.4 357.6h1v1h-1zM175.0 362.8h1v1h-1zM183.2 351.8h1v1h-1zM166.5 362.0h1v1h-1zM197.7 351.5h1v1h-1zM194.7 357.7h1v1h-1zM194.6 350.3h1v1h-1zM191.7 363.4h1v1h-1zM226.7 314.6h1v1h-1zM186.2 318.2h1v1h-1zM189.7 363.6h1v1h-1zM258.2 335.0h1v1h-1zM179.4 341.7h1v1h-1zM215.1 366.1h1v1h-1zM220.9 364.6h1v1h-1zM208.7 367.7h1v1h-1zM227.5 359.0h1v1h-1zM209.3 359.4h1v1h-1zM231.1 355.3h1v1h-1zM207.6 348.9h1v1h-1zM209.7 362.0h1v1h-1zM200.0 337.1h1v1h-1zM207.7 353.1h1v1h-1zM207.9 367.7h1v1h-1zM206.5 338.9h1v1h-1zM222.2 340.4h1v1h-1zM224.9 345.0h1v1h-1zM229.2 358.7h1v1h-1zM219.6 351.9h1v1h-1zM209.0 331.8h1v1h-1zM222.1 345.4h1v1h-1zM218.3 351.7h1v1h-1zM202.4 345.7h1v1h-1zM223.4 352.2h1v1h-1zM225.6 352.5h1v1h-1zM210.0 349.7h1v1h-1zM210.7 349.5h1v1h-1zM210.9 346.1h1v1h-1zM204.5 344.8h1v1h-1zM220.0 368.5h1v1h-1zM207.9 350.0h1v1h-1zM217.6 337.2h1v1h-1zM228.5 346.2h1v1h-1zM215.6 335.4h1v1h-1zM208.5 365.4h1v1h-1zM221.1 373.7h1v1h-1zM205.9 363.2h1v1h-1zM221.1 363.6h1v1h-1zM227.6 354.5h1v1h-1zM194.6 356.6h1v1h-1zM227.2 356.7h1v1h-1zM219.1 347.1h1v1h-1zM213.0 346.8h1v1h-1z" fill="#2a2a2a" fill-opacity="0.7"/>
<line x1="201.50" y1="275.50" x2="201.50" y2="395.50" stroke="#a8a8a8" stroke-width="1"/>
<line x1="231.50" y1="275.50" x2="231.50" y2="385.50" stroke="#a8a8a8" stroke-width="1"/>
<line x1="152.50" y1="337.50" x2="231.50" y2="337.50" stroke="#a8a8a8" stroke-width="1"/>
<line x1="152.50" y1="337.50" x2="152.50" y2="395.50" stroke="#a8a8a8" stroke-width="1"/>
<line x1="201.50" y1="385.50" x2="231.50" y2="385.50" stroke="#a8a8a8" stroke-width="1"/>
<polyline points="267.00,275.50 148.00,275.50 148.00,395.50 267.00,395.50" fill="none" stroke="#444" stroke-width="1.1"/>
<line x1="145.50" y1="395.50" x2="148.00" y2="395.50" stroke="#444" stroke-width="0.8"/>
<line x1="146.70" y1="386.47" x2="148.00" y2="386.47" stroke="#444" stroke-width="0.8"/>
<line x1="146.70" y1="381.19" x2="148.00" y2="381.19" stroke="#444" stroke-width="0.8"/>
<line x1="146.70" y1="377.44" x2="148.00" y2="377.44" stroke="#444" stroke-width="0.8"/>
<line x1="146.70" y1="374.53" x2="148.00" y2="374.53" stroke="#444" stroke-width="0.8"/>
<line x1="146.70" y1="372.16" x2="148.00" y2="372.16" stroke="#444" stroke-width="0.8"/>
<line x1="146.70" y1="370.15" x2="148.00" y2="370.15" stroke="#444" stroke-width="0.8"/>
<line x1="146.70" y1="368.41" x2="148.00" y2="368.41" stroke="#444" stroke-width="0.8"/>
<line x1="146.70" y1="366.87" x2="148.00" y2="366.87" stroke="#444" stroke-width="0.8"/>
<line x1="148.00" y1="395.50" x2="148.00" y2="398.00" stroke="#444" stroke-width="0.8"/>
<line x1="157.03" y1="395.50" x2="157.03" y2="396.80" stroke="#444" stroke-width="0.8"/>
<line x1="162.31" y1="395.50" x2="162.31" y2="396.80" stroke="#444" stroke-width="0.8"/>
<line x1="166.06" y1="395.50" x2="166.06" y2="396.80" stroke="#444" stroke-width="0.8"/>
<line x1="168.97" y1="395.50" x2="168.97" y2="396.80" stroke="#444" stroke-width="0.8"/>
<line x1="171.34" y1="395.50" x2="171.34" y2="396.80" stroke="#444" stroke-width="0.8"/>
<line x1="173.35" y1="395.50" x2="173.35" y2="396.80" stroke="#444" stroke-width="0.8"/>
<line x1="175.09" y1="395.50" x2="175.09" y2="396.80" stroke="#444" stroke-width="0.8"/>
<line x1="176.63" y1="395.50" x2="176.63" y2="396.80" stroke="#444" stroke-width="0.8"/>
<line x1="145.50" y1="365.50" x2="148.00" y2="365.50" stroke="#444" stroke-width="0.8"/>
<line x1="146.70" y1="356.47" x2="148.00" y2="356.47" stroke="#444" stroke-width="0.8"/>
<line x1="146.70" y1="351.19" x2="148.00" y2="351.19" stroke="#444" stroke-width="0.8"/>
<line x1="146.70" y1="347.44" x2="148.00" y2="347.44" stroke="#444" stroke-width="0.8"/>
<line x1="146.70" y1="344.53" x2="148.00" y2="344.53" stroke="#444" stroke-width="0.8"/>
<line x1="146.70" y1="342.16" x2="148.00" y2="342.16" stroke="#444" stroke-width="0.8"/>
<line x1="146.70" y1="340.15" x2="148.00" y2="340.15" stroke="#444" stroke-width="0.8"/>
<line x1="146.70" y1="338.41" x2="148.00" y2="338.41" stroke="#444" stroke-width="0.8"/>
<line x1="146.70" y1="336.87" x2="148.00" y2="336.87" stroke="#444" stroke-width="0.8"/>
<line x1="178.00" y1="395.50" x2="178.00" y2="398.00" stroke="#444" stroke-width="0.8"/>
<line x1="187.03" y1="395.50" x2="187.03" y2="396.80" stroke="#444" stroke-width="0.8"/>
<line x1="192.31" y1="395.50" x2="192.31" y2="396.80" stroke="#444" stroke-width="0.8"/>
<line x1="196.06" y1="395.50" x2="196.06" y2="396.80" stroke="#444" stroke-width="0.8"/>
<line x1="198.97" y1="395.50" x2="198.97" y2="396.80" stroke="#444" stroke-width="0.8"/>
<line x1="201.34" y1="395.50" x2="201.34" y2="396.80" stroke="#444" stroke-width="0.8"/>
<line x1="203.35" y1="395.50" x2="203.35" y2="396.80" stroke="#444" stroke-width="0.8"/>
<line x1="205.09" y1="395.50" x2="205.09" y2="396.80" stroke="#444" stroke-width="0.8"/>
<line x1="206.63" y1="395.50" x2="206.63" y2="396.80" stroke="#444" stroke-width="0.8"/>
<line x1="145.50" y1="335.50" x2="148.00" y2="335.50" stroke="#444" stroke-width="0.8"/>
<line x1="146.70" y1="326.47" x2="148.00" y2="326.47" stroke="#444" stroke-width="0.8"/>
<line x1="146.70" y1="321.19" x2="148.00" y2="321.19" stroke="#444" stroke-width="0.8"/>
<line x1="146.70" y1="317.44" x2="148.00" y2="317.44" stroke="#444" stroke-width="0.8"/>
<line x1="146.70" y1="314.53" x2="148.00" y2="314.53" stroke="#444" stroke-width="0.8"/>
<line x1="146.70" y1="312.16" x2="148.00" y2="312.16" stroke="#444" stroke-width="0.8"/>
<line x1="146.70" y1="310.15" x2="148.00" y2="310.15" stroke="#444" stroke-width="0.8"/>
<line x1="146.70" y1="308.41" x2="148.00" y2="308.41" stroke="#444" stroke-width="0.8"/>
<line x1="146.70" y1="306.87" x2="148.00" y2="306.87" stroke="#444" stroke-width="0.8"/>
<line x1="208.00" y1="395.50" x2="208.00" y2="398.00" stroke="#444" stroke-width="0.8"/>
<line x1="217.03" y1="395.50" x2="217.03" y2="396.80" stroke="#444" stroke-width="0.8"/>
<line x1="222.31" y1="395.50" x2="222.31" y2="396.80" stroke="#444" stroke-width="0.8"/>
<line x1="226.06" y1="395.50" x2="226.06" y2="396.80" stroke="#444" stroke-width="0.8"/>
<line x1="228.97" y1="395.50" x2="228.97" y2="396.80" stroke="#444" stroke-width="0.8"/>
<line x1="231.34" y1="395.50" x2="231.34" y2="396.80" stroke="#444" stroke-width="0.8"/>
<line x1="233.35" y1="395.50" x2="233.35" y2="396.80" stroke="#444" stroke-width="0.8"/>
<line x1="235.09" y1="395.50" x2="235.09" y2="396.80" stroke="#444" stroke-width="0.8"/>
<line x1="236.63" y1="395.50" x2="236.63" y2="396.80" stroke="#444" stroke-width="0.8"/>
<line x1="145.50" y1="305.50" x2="148.00" y2="305.50" stroke="#444" stroke-width="0.8"/>
<line x1="146.70" y1="296.47" x2="148.00" y2="296.47" stroke="#444" stroke-width="0.8"/>
<line x1="146.70" y1="291.19" x2="148.00" y2="291.19" stroke="#444" stroke-width="0.8"/>
<line x1="146.70" y1="287.44" x2="148.00" y2="287.44" stroke="#444" stroke-width="0.8"/>
<line x1="146.70" y1="284.53" x2="148.00" y2="284.53" stroke="#444" stroke-width="0.8"/>
<line x1="146.70" y1="282.16" x2="148.00" y2="282.16" stroke="#444" stroke-width="0.8"/>
<line x1="146.70" y1="280.15" x2="148.00" y2="280.15" stroke="#444" stroke-width="0.8"/>
<line x1="146.70" y1="278.41" x2="148.00" y2="278.41" stroke="#444" stroke-width="0.8"/>
<line x1="146.70" y1="276.87" x2="148.00" y2="276.87" stroke="#444" stroke-width="0.8"/>
<line x1="238.00" y1="395.50" x2="238.00" y2="398.00" stroke="#444" stroke-width="0.8"/>
<line x1="247.03" y1="395.50" x2="247.03" y2="396.80" stroke="#444" stroke-width="0.8"/>
<line x1="252.31" y1="395.50" x2="252.31" y2="396.80" stroke="#444" stroke-width="0.8"/>
<line x1="256.06" y1="395.50" x2="256.06" y2="396.80" stroke="#444" stroke-width="0.8"/>
<line x1="258.97" y1="395.50" x2="258.97" y2="396.80" stroke="#444" stroke-width="0.8"/>
<line x1="261.34" y1="395.50" x2="261.34" y2="396.80" stroke="#444" stroke-width="0.8"/>
<line x1="263.35" y1="395.50" x2="263.35" y2="396.80" stroke="#444" stroke-width="0.8"/>
<line x1="265.09" y1="395.50" x2="265.09" y2="396.80" stroke="#444" stroke-width="0.8"/>
<line x1="266.63" y1="395.50" x2="266.63" y2="396.80" stroke="#444" stroke-width="0.8"/>
<text x="207.00" y="270.10" font-size="11.6" text-anchor="middle" fill="#000" stroke="#000" stroke-width="0.4">Hmga2-/-</text>
<text x="203.80" y="299.60" font-size="11.6" text-anchor="start" fill="#000" stroke="#000" stroke-width="0.5">0.25%</text>
<text x="150.00" y="350.80" font-size="11.6" text-anchor="start" fill="#000" stroke="#000" stroke-width="0.5">0.79%</text>
<text x="232.50" y="377.00" font-size="11.6" text-anchor="start" fill="#000" stroke="#000" stroke-width="0.5">0.48%</text>
<path d="M327.5 327.9h1v1h-1zM336.3 331.6h1v1h-1zM330.6 335.5h1v1h-1zM338.7 330.6h1v1h-1zM329.8 335.1h1v1h-1zM335.6 335.5h1v1h-1zM341.5 332.2h1v1h-1zM336.5 335.6h1v1h-1zM336.3 327.2h1v1h-1zM339.5 334.2h1v1h-1zM335.1 334.7h1v1h-1zM335.8 331.9h1v1h-1zM340.1 328.9h1v1h-1zM331.2 332.6h1v1h-1zM332.2 335.7h1v1h-1zM334.3 327.8h1v1h-1zM335.6 326.2h1v1h-1zM342.1 333.0h1v1h-1zM339.6 334.6h1v1h-1zM337.8 329.9h1v1h-1zM339.9 332.0h1v1h-1zM334.2 326.8h1v1h-1zM341.7 332.3h1v1h-1zM335.5 327.2h1v1h-1zM340.5 332.7h1v1h-1zM340.8 332.9h1v1h-1zM333.9 334.8h1v1h-1zM331.3 328.3h1v1h-1zM336.8 335.3h1v1h-1zM341.1 332.8h1v1h-1zM336.6 333.7h1v1h-1zM336.3 331.5h1v1h-1zM338.9 331.5h1v1h-1zM336.3 336.7h1v1h-1zM337.9 331.5h1v1h-1zM339.6 332.6h1v1h-1zM339.5 330.4h1v1h-1zM334.2 328.7h1v1h-1zM341.1 337.3h1v1h-1zM341.4 334.1h1v1h-1zM337.8 332.3h1v1h-1zM339.2 332.5h1v1h-1zM333.3 336.1h1v1h-1zM340.3 334.6h1v1h-1zM336.8 331.9h1v1h-1zM337.4 333.7h1v1h-1zM332.8 331.6h1v1h-1zM333.2 336.4h1v1h-1zM332.1 329.4h1v1h-1zM333.8 333.5h1v1h-1zM333.6 338.3h1v1h-1zM339.6 325.8h1v1h-1zM337.8 334.0h1v1h-1zM332.4 332.7h1v1h-1zM337.3 331.0h1v1h-1zM336.6 334.0h1v1h-1zM335.1 332.8h1v1h-1zM332.6 334.9h1v1h-1zM334.7 336.6h1v1h-1zM344.4 338.0h1v1h-1zM335.3 334.3h1v1h-1zM336.0 334.3h1v1h-1zM333.9 329.9h1v1h-1zM336.8 330.5h1v1h-1zM341.4 335.1h1v1h-1zM338.2 332.5h1v1h-1zM336.3 335.9h1v1h-1zM337.2 333.0h1v1h-1zM343.7 333.4h1v1h-1zM336.0 332.3h1v1h-1zM341.6 331.5h1v1h-1zM335.2 336.3h1v1h-1zM341.2 337.2h1v1h-1zM333.9 334.3h1v1h-1zM334.9 334.2h1v1h-1zM331.3 332.4h1v1h-1zM340.9 333.6h1v1h-1zM328.3 336.0h1v1h-1zM338.3 332.2h1v1h-1zM337.0 332.0h1v1h-1zM341.2 332.9h1v1h-1zM331.2 330.4h1v1h-1zM342.9 336.4h1v1h-1zM339.9 330.6h1v1h-1zM339.0 336.1h1v1h-1zM337.4 335.2h1v1h-1zM341.1 336.1h1v1h-1zM338.7 334.4h1v1h-1zM332.6 332.1h1v1h-1zM340.1 338.2h1v1h-1zM337.7 336.3h1v1h-1zM337.1 330.1h1v1h-1zM338.6 334.4h1v1h-1zM333.8 330.4h1v1h-1zM337.2 331.5h1v1h-1zM338.9 329.0h1v1h-1zM340.0 331.2h1v1h-1zM338.3 328.4h1v1h-1zM340.4 333.7h1v1h-1zM344.7 328.0h1v1h-1zM330.4 335.2h1v1h-1zM340.3 327.7h1v1h-1zM339.0 335.9h1v1h-1zM342.2 333.5h1v1h-1zM331.5 327.2h1v1h-1zM344.7 334.3h1v1h-1zM340.6 332.1h1v1h-1zM336.2 332.4h1v1h-1zM333.7 332.2h1v1h-1zM333.0 331.8h1v1h-1zM341.1 333.1h1v1h-1zM334.6 338.3h1v1h-1zM341.8 333.2h1v1h-1zM330.8 337.0h1v1h-1zM341.8 331.3h1v1h-1zM342.3 330.6h1v1h-1zM336.1 331.7h1v1h-1zM337.7 332.7h1v1h-1zM342.3 332.0h1v1h-1zM338.7 333.2h1v1h-1zM338.0 330.6h1v1h-1zM337.0 337.3h1v1h-1zM340.1 329.5h1v1h-1zM335.6 330.0h1v1h-1zM334.5 331.1h1v1h-1zM332.6 334.5h1v1h-1zM340.4 333.5h1v1h-1zM335.4 333.5h1v1h-1zM334.3 336.2h1v1h-1zM345.6 325.0h1v1h-1zM338.5 333.2h1v1h-1zM337.8 332.2h1v1h-1zM331.6 332.8h1v1h-1zM335.6 332.6h1v1h-1zM336.9 331.6h1v1h-1zM345.4 329.3h1v1h-1zM335.7 329.2h1v1h-1zM336.5 337.7h1v1h-1zM336.9 330.5h1v1h-1zM332.3 334.7h1v1h-1zM334.5 334.9h1v1h-1zM334.5 331.4h1v1h-1zM336.8 328.1h1v1h-1zM341.4 329.6h1v1h-1zM337.6 334.4h1v1h-1zM345.6 334.5h1v1h-1zM340.1 331.5h1v1h-1zM336.5 333.0h1v1h-1zM340.9 330.1h1v1h-1zM338.5 341.7h1v1h-1zM333.6 327.5h1v1h-1zM335.2 332.6h1v1h-1zM343.1 334.5h1v1h-1zM341.2 330.9h1v1h-1zM336.9 333.9h1v1h-1zM334.0 333.9h1v1h-1zM336.1 333.8h1v1h-1zM332.0 326.9h1v1h-1zM342.0 333.2h1v1h-1zM336.8 340.9h1v1h-1zM340.8 334.5h1v1h-1zM334.8 334.3h1v1h-1zM338.0 332.4h1v1h-1zM342.3 335.4h1v1h-1zM339.3 330.7h1v1h-1zM334.7 336.5h1v1h-1zM338.1 331.5h1v1h-1zM338.4 333.3h1v1h-1zM335.7 332.7h1v1h-1zM340.0 334.2h1v1h-1zM334.2 331.0h1v1h-1zM338.3 330.1h1v1h-1zM337.7 332.8h1v1h-1zM332.6 326.0h1v1h-1zM334.2 333.1h1v1h-1zM337.2 336.9h1v1h-1zM337.2 332.9h1v1h-1zM338.5 331.8h1v1h-1zM343.4 331.4h1v1h-1zM334.1 331.6h1v1h-1zM341.5 331.4h1v1h-1zM334.4 334.9h1v1h-1zM341.4 331.9h1v1h-1zM339.6 331.1h1v1h-1zM342.1 329.9h1v1h-1zM336.1 331.8h1v1h-1zM333.8 332.8h1v1h-1zM339.5 330.6h1v1h-1zM343.9 333.8h1v1h-1zM338.3 330.7h1v1h-1zM336.8 335.7h1v1h-1zM333.4 331.0h1v1h-1zM334.1 329.1h1v1h-1zM339.3 330.6h1v1h-1zM343.0 329.3h1v1h-1zM335.8 333.2h1v1h-1zM333.4 326.6h1v1h-1zM334.7 332.9h1v1h-1zM333.6 333.8h1v1h-1zM330.3 333.9h1v1h-1zM344.5 335.9h1v1h-1zM340.6 331.9h1v1h-1zM335.5 336.4h1v1h-1zM335.8 334.9h1v1h-1zM333.5 334.2h1v1h-1zM337.6 326.3h1v1h-1zM336.6 334.7h1v1h-1zM339.0 334.1h1v1h-1zM341.6 332.8h1v1h-1zM334.3 335.7h1v1h-1zM344.7 332.0h1v1h-1zM342.5 332.5h1v1h-1zM331.7 330.3h1v1h-1zM333.9 336.5h1v1h-1zM337.4 331.4h1v1h-1zM337.5 337.2h1v1h-1zM336.7 330.8h1v1h-1zM338.3 330.5h1v1h-1zM338.8 336.0h1v1h-1zM337.7 331.7h1v1h-1zM337.4 328.7h1v1h-1zM342.7 340.1h1v1h-1zM337.1 326.8h1v1h-1zM334.6 328.7h1v1h-1zM330.2 332.6h1v1h-1zM336.4 331.1h1v1h-1zM341.0 333.1h1v1h-1zM333.5 334.3h1v1h-1zM332.4 331.9h1v1h-1zM334.0 333.9h1v1h-1zM336.0 331.3h1v1h-1zM338.0 334.4h1v1h-1zM337.9 336.4h1v1h-1zM333.2 334.2h1v1h-1zM343.0 333.0h1v1h-1zM329.0 335.9h1v1h-1zM336.3 335.0h1v1h-1zM338.0 334.9h1v1h-1zM341.4 333.4h1v1h-1zM339.9 329.1h1v1h-1zM333.8 332.6h1v1h-1zM342.7 330.5h1v1h-1zM335.7 335.0h1v1h-1zM335.1 329.1h1v1h-1zM329.9 335.4h1v1h-1zM332.9 334.0h1v1h-1zM338.9 330.0h1v1h-1zM338.6 326.6h1v1h-1zM336.6 329.9h1v1h-1zM337.8 333.6h1v1h-1zM335.4 336.7h1v1h-1zM328.8 324.3h1v1h-1zM324.0 339.0h1v1h-1zM325.6 330.9h1v1h-1zM336.8 332.0h1v1h-1zM326.0 320.3h1v1h-1zM341.5 329.5h1v1h-1zM320.9 329.1h1v1h-1zM334.3 321.1h1v1h-1zM335.1 333.0h1v1h-1zM337.6 333.0h1v1h-1zM325.9 323.1h1v1h-1zM332.3 329.8h1v1h-1zM346.2 331.2h1v1h-1zM337.2 333.3h1v1h-1zM319.8 337.5h1v1h-1zM330.2 324.2h1v1h-1zM337.2 340.3h1v1h-1zM332.9 331.2h1v1h-1zM328.7 330.3h1v1h-1zM342.7 333.4h1v1h-1zM337.2 336.3h1v1h-1zM310.4 333.9h1v1h-1zM338.4 334.2h1v1h-1zM321.9 328.1h1v1h-1zM339.2 335.3h1v1h-1zM337.4 326.0h1v1h-1zM336.0 341.5h1v1h-1zM334.1 340.9h1v1h-1zM340.7 337.8h1v1h-1zM328.4 329.0h1v1h-1zM328.4 339.7h1v1h-1zM343.8 326.6h1v1h-1zM323.5 333.6h1v1h-1zM344.2 334.5h1v1h-1zM338.8 335.7h1v1h-1zM338.4 332.0h1v1h-1zM337.6 336.9h1v1h-1zM332.9 342.9h1v1h-1zM325.3 330.5h1v1h-1zM327.1 339.2h1v1h-1zM342.4 328.4h1v1h-1zM334.4 330.1h1v1h-1zM322.9 328.0h1v1h-1zM336.4 336.2h1v1h-1zM328.0 332.8h1v1h-1zM340.3 341.1h1v1h-1zM336.5 328.0h1v1h-1zM321.3 333.2h1v1h-1zM331.3 329.4h1v1h-1zM328.3 329.5h1v1h-1zM335.0 336.9h1v1h-1zM327.3 343.9h1v1h-1zM345.1 331.4h1v1h-1zM336.3 341.9h1v1h-1zM326.6 329.2h1v1h-1zM329.0 326.9h1v1h-1zM339.5 331.6h1v1h-1zM334.6 333.4h1v1h-1zM332.3 341.9h1v1h-1zM332.6 327.8h1v1h-1zM323.0 328.9h1v1h-1zM335.4 333.9h1v1h-1zM336.2 330.4h1v1h-1zM337.4 335.6h1v1h-1zM324.4 335.3h1v1h-1zM337.2 331.3h1v1h-1zM342.6 333.3h1v1h-1zM328.0 338.5h1v1h-1zM348.0 326.1h1v1h-1zM333.4 338.2h1v1h-1zM338.8 339.0h1v1h-1zM344.3 322.3h1v1h-1zM339.4 323.3h1v1h-1zM326.5 326.5h1v1h-1zM337.8 323.1h1v1h-1zM334.7 324.0h1v1h-1zM349.8 329.8h1v1h-1zM333.8 325.9h1v1h-1zM329.3 340.8h1v1h-1zM335.9 326.0h1v1h-1zM329.9 332.0h1v1h-1zM347.8 332.2h1v1h-1zM337.4 339.2h1v1h-1zM352.9 336.8h1v1h-1zM325.4 327.0h1v1h-1zM347.5 335.4h1v1h-1zM318.6 329.9h1v1h-1zM330.3 330.9h1v1h-1zM339.0 336.9h1v1h-1zM344.6 321.7h1v1h-1zM336.3 331.7h1v1h-1zM325.5 338.0h1v1h-1zM323.3 324.7h1v1h-1zM346.8 335.4h1v1h-1zM340.5 340.8h1v1h-1zM323.7 341.2h1v1h-1zM334.8 336.2h1v1h-1zM340.4 336.8h1v1h-1zM330.9 332.9h1v1h-1zM310.3 328.7h1v1h-1zM291.4 330.0h1v1h-1zM301.6 332.6h1v1h-1zM312.9 331.2h1v1h-1zM307.2 331.1h1v1h-1zM312.4 326.5h1v1h-1zM312.7 316.3h1v1h-1zM297.2 319.3h1v1h-1zM309.7 324.2h1v1h-1zM315.6 326.3h1v1h-1zM319.0 322.6h1v1h-1zM311.9 323.3h1v1h-1zM299.7 318.8h1v1h-1zM308.2 321.7h1v1h-1zM304.7 321.6h1v1h-1zM300.1 334.9h1v1h-1zM309.3 320.4h1v1h-1zM307.3 325.0h1v1h-1zM297.1 328.7h1v1h-1zM301.4 326.8h1v1h-1zM305.1 322.1h1v1h-1zM334.8 322.7h1v1h-1zM296.4 323.0h1v1h-1zM300.7 328.7h1v1h-1zM312.2 320.7h1v1h-1zM322.9 324.0h1v1h-1zM298.1 328.7h1v1h-1zM313.9 321.3h1v1h-1zM299.5 324.3h1v1h-1zM303.2 326.8h1v1h-1zM310.9 320.6h1v1h-1zM299.8 323.9h1v1h-1zM319.1 322.6h1v1h-1zM313.4 322.5h1v1h-1zM312.1 322.8h1v1h-1zM312.0 321.7h1v1h-1zM302.5 331.6h1v1h-1zM316.0 320.4h1v1h-1zM318.0 324.2h1v1h-1zM319.5 320.0h1v1h-1zM307.7 323.2h1v1h-1zM302.8 320.6h1v1h-1zM324.2 324.8h1v1h-1zM305.9 318.9h1v1h-1zM317.6 328.8h1v1h-1zM307.2 319.9h1v1h-1zM313.2 324.8h1v1h-1zM296.8 332.2h1v1h-1zM314.5 321.3h1v1h-1zM302.0 327.6h1v1h-1zM318.3 327.0h1v1h-1zM312.9 323.6h1v1h-1zM325.6 323.9h1v1h-1zM310.7 326.3h1v1h-1zM306.6 327.7h1v1h-1zM321.5 317.1h1v1h-1zM307.3 329.4h1v1h-1zM320.4 323.3h1v1h-1zM314.5 325.7h1v1h-1zM310.2 322.8h1v1h-1zM317.2 329.3h1v1h-1zM322.0 326.0h1v1h-1zM310.2 329.1h1v1h-1zM336.1 324.2h1v1h-1zM308.5 331.3h1v1h-1zM300.0 316.1h1v1h-1zM317.2 330.1h1v1h-1zM320.0 328.7h1v1h-1zM318.2 322.7h1v1h-1zM317.8 321.6h1v1h-1zM296.6 324.3h1v1h-1zM298.8 321.2h1v1h-1zM304.0 323.6h1v1h-1zM310.4 321.5h1v1h-1zM304.3 324.5h1v1h-1zM310.4 326.7h1v1h-1zM315.4 325.9h1v1h-1zM312.8 327.4h1v1h-1zM309.0 325.7h1v1h-1zM301.8 325.9h1v1h-1zM317.1 322.7h1v1h-1zM319.8 323.2h1v1h-1zM317.9 331.0h1v1h-1zM311.0 323.7h1v1h-1zM312.8 323.7h1v1h-1zM301.8 328.8h1v1h-1zM293.6 328.3h1v1h-1zM302.8 328.4h1v1h-1zM305.0 331.5h1v1h-1zM305.1 317.1h1v1h-1zM332.8 325.2h1v1h-1zM308.1 325.0h1v1h-1zM306.5 326.1h1v1h-1zM302.9 332.8h1v1h-1zM303.4 327.3h1v1h-1zM320.0 324.2h1v1h-1zM316.1 323.1h1v1h-1zM301.0 322.2h1v1h-1zM317.9 328.8h1v1h-1zM301.7 328.6h1v1h-1zM301.7 325.7h1v1h-1zM314.7 317.7h1v1h-1zM314.1 323.9h1v1h-1zM297.0 327.4h1v1h-1zM311.3 326.3h1v1h-1zM306.7 322.6h1v1h-1zM298.2 324.1h1v1h-1zM300.4 323.4h1v1h-1zM312.2 327.8h1v1h-1zM312.3 326.0h1v1h-1zM342.8 354.8h1v1h-1zM330.8 347.7h1v1h-1zM328.2 349.7h1v1h-1zM316.4 370.6h1v1h-1zM317.5 359.8h1v1h-1zM340.4 349.3h1v1h-1zM330.2 341.7h1v1h-1zM333.5 361.6h1v1h-1zM326.1 338.7h1v1h-1zM338.0 344.4h1v1h-1zM326.2 363.8h1v1h-1zM325.1 348.6h1v1h-1zM320.5 345.5h1v1h-1zM341.8 343.8h1v1h-1zM327.0 364.8h1v1h-1zM327.9 357.3h1v1h-1zM336.9 345.0h1v1h-1zM319.9 361.5h1v1h-1zM333.6 358.7h1v1h-1zM338.3 338.7h1v1h-1zM331.1 358.1h1v1h-1zM333.7 351.4h1v1h-1zM330.0 344.2h1v1h-1zM328.7 353.0h1v1h-1zM330.2 360.3h1v1h-1zM331.1 340.6h1v1h-1zM336.2 359.1h1v1h-1zM337.8 354.1h1v1h-1zM336.6 352.3h1v1h-1zM325.5 340.8h1v1h-1zM340.2 347.5h1v1h-1zM324.2 361.0h1v1h-1zM320.1 367.0h1v1h-1zM329.7 344.9h1v1h-1zM338.2 353.0h1v1h-1zM333.8 350.0h1v1h-1zM328.8 360.7h1v1h-1zM334.4 357.7h1v1h-1zM336.0 358.5h1v1h-1zM338.6 350.0h1v1h-1zM333.5 356.1h1v1h-1zM335.7 342.9h1v1h-1zM335.4 353.8h1v1h-1zM326.4 337.9h1v1h-1zM325.4 365.7h1v1h-1zM318.6 344.8h1v1h-1zM333.4 335.4h1v1h-1zM329.2 352.5h1v1h-1zM319.4 368.5h1v1h-1zM329.6 343.8h1v1h-1zM336.8 347.7h1v1h-1zM331.4 339.6h1v1h-1zM326.4 357.2h1v1h-1zM341.5 347.0h1v1h-1zM326.0 364.3h1v1h-1zM339.6 331.3h1v1h-1zM329.9 360.1h1v1h-1zM331.7 356.7h1v1h-1zM340.9 341.2h1v1h-1zM327.8 357.2h1v1h-1zM337.0 342.5h1v1h-1zM323.3 360.8h1v1h-1zM324.0 350.0h1v1h-1zM335.9 346.1h1v1h-1zM327.1 347.6h1v1h-1zM314.8 352.3h1v1h-1zM328.8 353.9h1v1h-1zM333.7 360.2h1v1h-1zM320.5 354.7h1v1h-1zM337.2 342.7h1v1h-1zM327.0 356.0h1v1h-1zM323.5 347.8h1v1h-1zM331.3 340.3h1v1h-1zM318.3 342.1h1v1h-1zM338.5 345.7h1v1h-1zM329.9 340.7h1v1h-1zM335.4 334.0h1v1h-1zM331.0 349.0h1v1h-1zM323.6 345.8h1v1h-1zM321.6 368.1h1v1h-1zM340.9 337.0h1v1h-1zM338.2 341.3h1v1h-1zM327.2 346.9h1v1h-1zM327.4 340.0h1v1h-1zM326.8 358.9h1v1h-1zM323.4 340.0h1v1h-1zM332.9 345.1h1v1h-1zM321.1 357.2h1v1h-1zM321.8 364.1h1v1h-1zM337.2 347.0h1v1h-1zM326.8 360.4h1v1h-1zM329.9 339.5h1v1h-1zM329.3 351.5h1v1h-1zM328.0 358.8h1v1h-1zM332.2 347.2h1v1h-1zM338.3 342.7h1v1h-1zM329.9 351.2h1v1h-1zM316.6 358.0h1v1h-1zM331.7 357.1h1v1h-1zM328.5 339.2h1v1h-1zM339.1 340.9h1v1h-1zM330.5 361.8h1v1h-1zM333.5 347.0h1v1h-1zM335.7 346.0h1v1h-1zM322.9 347.1h1v1h-1zM319.5 350.8h1v1h-1zM331.3 342.8h1v1h-1zM325.7 362.3h1v1h-1zM339.7 347.9h1v1h-1zM328.6 341.6h1v1h-1zM326.8 345.2h1v1h-1zM326.0 347.4h1v1h-1zM327.4 346.6h1v1h-1zM333.5 341.9h1v1h-1zM323.6 348.6h1v1h-1zM337.3 344.4h1v1h-1zM323.8 343.0h1v1h-1zM345.5 346.5h1v1h-1zM330.1 346.7h1v1h-1zM330.2 352.5h1v1h-1zM323.5 345.0h1v1h-1zM334.5 341.1h1v1h-1zM318.8 349.8h1v1h-1zM335.0 350.3h1v1h-1zM328.7 343.9h1v1h-1zM334.4 350.5h1v1h-1zM336.6 342.3h1v1h-1zM336.9 342.2h1v1h-1zM339.5 346.6h1v1h-1zM338.7 342.8h1v1h-1zM334.0 360.7h1v1h-1zM327.2 345.6h1v1h-1zM326.4 338.0h1v1h-1zM336.4 348.0h1v1h-1zM335.3 339.6h1v1h-1zM324.2 355.5h1v1h-1zM331.1 345.7h1v1h-1zM336.2 346.0h1v1h-1zM330.6 360.7h1v1h-1zM328.3 336.8h1v1h-1zM322.3 349.6h1v1h-1zM317.2 356.4h1v1h-1zM331.1 347.9h1v1h-1zM324.6 359.4h1v1h-1zM319.6 360.0h1v1h-1zM339.4 339.4h1v1h-1zM338.6 362.6h1v1h-1zM323.6 363.7h1v1h-1zM336.3 346.8h1v1h-1zM332.6 340.5h1v1h-1zM328.2 363.7h1v1h-1zM332.1 353.7h1v1h-1zM332.1 338.9h1v1h-1zM339.2 346.2h1v1h-1zM330.4 356.1h1v1h-1zM327.5 347.4h1v1h-1zM327.5 365.2h1v1h-1zM324.7 357.5h1v1h-1zM330.1 353.3h1v1h-1zM331.5 361.3h1v1h-1zM328.2 357.5h1v1h-1zM324.2 342.1h1v1h-1zM333.2 354.1h1v1h-1zM322.1 353.7h1v1h-1zM330.9 355.9h1v1h-1zM335.1 348.3h1v1h-1zM321.5 348.3h1v1h-1zM322.2 345.4h1v1h-1zM334.1 345.0h1v1h-1zM325.7 369.3h1v1h-1zM315.9 350.6h1v1h-1zM333.7 356.6h1v1h-1zM324.6 357.6h1v1h-1zM324.1 347.3h1v1h-1zM327.0 366.0h1v1h-1zM328.3 342.7h1v1h-1zM330.9 351.0h1v1h-1zM330.8 351.9h1v1h-1zM344.7 343.6h1v1h-1zM331.2 353.5h1v1h-1zM335.3 340.0h1v1h-1zM332.3 352.4h1v1h-1zM333.3 351.8h1v1h-1zM329.5 360.9h1v1h-1zM328.9 347.0h1v1h-1zM335.5 347.6h1v1h-1zM328.7 342.5h1v1h-1zM326.9 354.9h1v1h-1zM328.7 353.4h1v1h-1zM339.6 339.2h1v1h-1zM336.1 362.5h1v1h-1zM309.9 359.7h1v1h-1zM334.8 355.9h1v1h-1zM326.7 362.7h1v1h-1zM324.7 360.3h1v1h-1zM338.9 344.9h1v1h-1zM326.2 356.8h1v1h-1zM326.7 345.6h1v1h-1zM321.8 337.2h1v1h-1zM324.8 339.4h1v1h-1zM332.3 356.4h1v1h-1zM321.0 356.8h1v1h-1zM322.6 358.7h1v1h-1zM334.8 336.3h1v1h-1zM323.3 356.9h1v1h-1zM323.1 352.4h1v1h-1zM327.2 340.1h1v1h-1zM333.8 346.5h1v1h-1zM325.4 346.2h1v1h-1zM327.2 347.1h1v1h-1zM323.8 360.7h1v1h-1zM315.7 349.1h1v1h-1zM325.1 353.9h1v1h-1zM319.4 350.9h1v1h-1zM323.6 339.9h1v1h-1zM325.7 348.0h1v1h-1zM327.1 355.1h1v1h-1zM326.5 358.2h1v1h-1zM338.4 347.9h1v1h-1zM330.8 355.1h1v1h-1zM290.4 377.6h1v1h-1zM305.9 352.4h1v1h-1zM309.6 367.7h1v1h-1zM294.2 354.9h1v1h-1zM281.9 373.8h1v1h-1zM308.5 364.4h1v1h-1zM297.8 360.7h1v1h-1zM312.6 370.1h1v1h-1zM279.7 368.8h1v1h-1zM308.9 360.6h1v1h-1zM296.6 360.7h1v1h-1zM311.0 363.0h1v1h-1zM302.4 368.8h1v1h-1zM322.8 349.8h1v1h-1zM333.0 353.4h1v1h-1zM300.0 358.1h1v1h-1zM304.5 374.4h1v1h-1zM333.1 382.2h1v1h-1zM294.0 370.5h1v1h-1zM304.4 359.9h1v1h-1zM310.6 371.1h1v1h-1zM297.1 359.6h1v1h-1zM312.1 366.5h1v1h-1zM318.4 378.3h1v1h-1zM287.2 342.7h1v1h-1zM303.5 359.8h1v1h-1zM289.4 359.2h1v1h-1zM321.7 365.3h1v1h-1zM327.6 377.3h1v1h-1zM280.3 373.3h1v1h-1zM322.3 346.6h1v1h-1zM286.4 366.6h1v1h-1zM295.8 388.3h1v1h-1zM291.8 388.4h1v1h-1zM284.7 357.7h1v1h-1zM307.3 374.2h1v1h-1zM305.0 387.4h1v1h-1zM326.7 391.8h1v1h-1zM301.8 378.6h1v1h-1zM299.6 385.4h1v1h-1zM272.9 360.3h1v1h-1zM300.4 362.3h1v1h-1zM323.9 351.4h1v1h-1zM292.5 353.7h1v1h-1zM302.6 357.2h1v1h-1zM315.5 378.9h1v1h-1zM275.6 342.5h1v1h-1zM313.9 372.9h1v1h-1zM282.4 367.7h1v1h-1zM287.0 377.8h1v1h-1zM285.9 360.7h1v1h-1zM309.3 368.7h1v1h-1zM316.9 373.2h1v1h-1zM283.6 371.0h1v1h-1zM288.4 385.6h1v1h-1zM323.8 381.8h1v1h-1zM331.8 377.8h1v1h-1zM322.4 379.5h1v1h-1zM314.7 378.6h1v1h-1zM307.0 389.9h1v1h-1zM288.9 349.2h1v1h-1zM293.1 387.3h1v1h-1zM299.6 358.3h1v1h-1zM292.1 373.7h1v1h-1zM302.4 382.5h1v1h-1zM298.9 379.1h1v1h-1zM291.8 374.6h1v1h-1zM342.8 365.7h1v1h-1zM301.5 379.9h1v1h-1zM290.2 362.6h1v1h-1zM296.1 371.2h1v1h-1zM285.3 385.4h1v1h-1zM305.0 370.4h1v1h-1zM301.1 367.8h1v1h-1zM273.0 383.5h1v1h-1zM291.7 378.1h1v1h-1zM301.2 365.7h1v1h-1zM309.7 388.5h1v1h-1zM302.0 361.2h1v1h-1zM309.3 338.4h1v1h-1zM292.0 356.3h1v1h-1zM298.5 351.7h1v1h-1zM314.2 364.4h1v1h-1zM305.0 368.3h1v1h-1zM299.1 360.3h1v1h-1zM320.0 378.1h1v1h-1zM322.7 366.2h1v1h-1zM306.8 372.5h1v1h-1zM298.9 367.7h1v1h-1zM282.1 353.8h1v1h-1zM335.2 320.3h1v1h-1zM286.7 341.7h1v1h-1zM364.1 388.2h1v1h-1zM305.6 307.3h1v1h-1zM278.8 311.3h1v1h-1zM334.6 341.0h1v1h-1z" fill="#2a2a2a" fill-opacity="0.7"/>
<line x1="323.50" y1="275.50" x2="323.50" y2="395.50" stroke="#a8a8a8" stroke-width="1"/>
<line x1="353.50" y1="275.50" x2="353.50" y2="385.50" stroke="#a8a8a8" stroke-width="1"/>
<line x1="274.50" y1="337.50" x2="353.50" y2="337.50" stroke="#a8a8a8" stroke-width="1"/>
<line x1="274.50" y1="337.50" x2="274.50" y2="395.50" stroke="#a8a8a8" stroke-width="1"/>
<line x1="323.50" y1="385.50" x2="353.50" y2="385.50" stroke="#a8a8a8" stroke-width="1"/>
<rect x="269.80" y="275.50" width="119.30" height="120.00" fill="none" stroke="#444" stroke-width="1.1"/>
<line x1="267.30" y1="395.50" x2="269.80" y2="395.50" stroke="#444" stroke-width="0.8"/>
<line x1="268.50" y1="386.47" x2="269.80" y2="386.47" stroke="#444" stroke-width="0.8"/>
<line x1="268.50" y1="381.19" x2="269.80" y2="381.19" stroke="#444" stroke-width="0.8"/>
<line x1="268.50" y1="377.44" x2="269.80" y2="377.44" stroke="#444" stroke-width="0.8"/>
<line x1="268.50" y1="374.53" x2="269.80" y2="374.53" stroke="#444" stroke-width="0.8"/>
<line x1="268.50" y1="372.16" x2="269.80" y2="372.16" stroke="#444" stroke-width="0.8"/>
<line x1="268.50" y1="370.15" x2="269.80" y2="370.15" stroke="#444" stroke-width="0.8"/>
<line x1="268.50" y1="368.41" x2="269.80" y2="368.41" stroke="#444" stroke-width="0.8"/>
<line x1="268.50" y1="366.87" x2="269.80" y2="366.87" stroke="#444" stroke-width="0.8"/>
<line x1="269.80" y1="395.50" x2="269.80" y2="398.00" stroke="#444" stroke-width="0.8"/>
<line x1="278.83" y1="395.50" x2="278.83" y2="396.80" stroke="#444" stroke-width="0.8"/>
<line x1="284.11" y1="395.50" x2="284.11" y2="396.80" stroke="#444" stroke-width="0.8"/>
<line x1="287.86" y1="395.50" x2="287.86" y2="396.80" stroke="#444" stroke-width="0.8"/>
<line x1="290.77" y1="395.50" x2="290.77" y2="396.80" stroke="#444" stroke-width="0.8"/>
<line x1="293.14" y1="395.50" x2="293.14" y2="396.80" stroke="#444" stroke-width="0.8"/>
<line x1="295.15" y1="395.50" x2="295.15" y2="396.80" stroke="#444" stroke-width="0.8"/>
<line x1="296.89" y1="395.50" x2="296.89" y2="396.80" stroke="#444" stroke-width="0.8"/>
<line x1="298.43" y1="395.50" x2="298.43" y2="396.80" stroke="#444" stroke-width="0.8"/>
<line x1="267.30" y1="365.50" x2="269.80" y2="365.50" stroke="#444" stroke-width="0.8"/>
<line x1="268.50" y1="356.47" x2="269.80" y2="356.47" stroke="#444" stroke-width="0.8"/>
<line x1="268.50" y1="351.19" x2="269.80" y2="351.19" stroke="#444" stroke-width="0.8"/>
<line x1="268.50" y1="347.44" x2="269.80" y2="347.44" stroke="#444" stroke-width="0.8"/>
<line x1="268.50" y1="344.53" x2="269.80" y2="344.53" stroke="#444" stroke-width="0.8"/>
<line x1="268.50" y1="342.16" x2="269.80" y2="342.16" stroke="#444" stroke-width="0.8"/>
<line x1="268.50" y1="340.15" x2="269.80" y2="340.15" stroke="#444" stroke-width="0.8"/>
<line x1="268.50" y1="338.41" x2="269.80" y2="338.41" stroke="#444" stroke-width="0.8"/>
<line x1="268.50" y1="336.87" x2="269.80" y2="336.87" stroke="#444" stroke-width="0.8"/>
<line x1="299.80" y1="395.50" x2="299.80" y2="398.00" stroke="#444" stroke-width="0.8"/>
<line x1="308.83" y1="395.50" x2="308.83" y2="396.80" stroke="#444" stroke-width="0.8"/>
<line x1="314.11" y1="395.50" x2="314.11" y2="396.80" stroke="#444" stroke-width="0.8"/>
<line x1="317.86" y1="395.50" x2="317.86" y2="396.80" stroke="#444" stroke-width="0.8"/>
<line x1="320.77" y1="395.50" x2="320.77" y2="396.80" stroke="#444" stroke-width="0.8"/>
<line x1="323.14" y1="395.50" x2="323.14" y2="396.80" stroke="#444" stroke-width="0.8"/>
<line x1="325.15" y1="395.50" x2="325.15" y2="396.80" stroke="#444" stroke-width="0.8"/>
<line x1="326.89" y1="395.50" x2="326.89" y2="396.80" stroke="#444" stroke-width="0.8"/>
<line x1="328.43" y1="395.50" x2="328.43" y2="396.80" stroke="#444" stroke-width="0.8"/>
<line x1="267.30" y1="335.50" x2="269.80" y2="335.50" stroke="#444" stroke-width="0.8"/>
<line x1="268.50" y1="326.47" x2="269.80" y2="326.47" stroke="#444" stroke-width="0.8"/>
<line x1="268.50" y1="321.19" x2="269.80" y2="321.19" stroke="#444" stroke-width="0.8"/>
<line x1="268.50" y1="317.44" x2="269.80" y2="317.44" stroke="#444" stroke-width="0.8"/>
<line x1="268.50" y1="314.53" x2="269.80" y2="314.53" stroke="#444" stroke-width="0.8"/>
<line x1="268.50" y1="312.16" x2="269.80" y2="312.16" stroke="#444" stroke-width="0.8"/>
<line x1="268.50" y1="310.15" x2="269.80" y2="310.15" stroke="#444" stroke-width="0.8"/>
<line x1="268.50" y1="308.41" x2="269.80" y2="308.41" stroke="#444" stroke-width="0.8"/>
<line x1="268.50" y1="306.87" x2="269.80" y2="306.87" stroke="#444" stroke-width="0.8"/>
<line x1="329.80" y1="395.50" x2="329.80" y2="398.00" stroke="#444" stroke-width="0.8"/>
<line x1="338.83" y1="395.50" x2="338.83" y2="396.80" stroke="#444" stroke-width="0.8"/>
<line x1="344.11" y1="395.50" x2="344.11" y2="396.80" stroke="#444" stroke-width="0.8"/>
<line x1="347.86" y1="395.50" x2="347.86" y2="396.80" stroke="#444" stroke-width="0.8"/>
<line x1="350.77" y1="395.50" x2="350.77" y2="396.80" stroke="#444" stroke-width="0.8"/>
<line x1="353.14" y1="395.50" x2="353.14" y2="396.80" stroke="#444" stroke-width="0.8"/>
<line x1="355.15" y1="395.50" x2="355.15" y2="396.80" stroke="#444" stroke-width="0.8"/>
<line x1="356.89" y1="395.50" x2="356.89" y2="396.80" stroke="#444" stroke-width="0.8"/>
<line x1="358.43" y1="395.50" x2="358.43" y2="396.80" stroke="#444" stroke-width="0.8"/>
<line x1="267.30" y1="305.50" x2="269.80" y2="305.50" stroke="#444" stroke-width="0.8"/>
<line x1="268.50" y1="296.47" x2="269.80" y2="296.47" stroke="#444" stroke-width="0.8"/>
<line x1="268.50" y1="291.19" x2="269.80" y2="291.19" stroke="#444" stroke-width="0.8"/>
<line x1="268.50" y1="287.44" x2="269.80" y2="287.44" stroke="#444" stroke-width="0.8"/>
<line x1="268.50" y1="284.53" x2="269.80" y2="284.53" stroke="#444" stroke-width="0.8"/>
<line x1="268.50" y1="282.16" x2="269.80" y2="282.16" stroke="#444" stroke-width="0.8"/>
<line x1="268.50" y1="280.15" x2="269.80" y2="280.15" stroke="#444" stroke-width="0.8"/>
<line x1="268.50" y1="278.41" x2="269.80" y2="278.41" stroke="#444" stroke-width="0.8"/>
<line x1="268.50" y1="276.87" x2="269.80" y2="276.87" stroke="#444" stroke-width="0.8"/>
<line x1="359.80" y1="395.50" x2="359.80" y2="398.00" stroke="#444" stroke-width="0.8"/>
<line x1="368.83" y1="395.50" x2="368.83" y2="396.80" stroke="#444" stroke-width="0.8"/>
<line x1="374.11" y1="395.50" x2="374.11" y2="396.80" stroke="#444" stroke-width="0.8"/>
<line x1="377.86" y1="395.50" x2="377.86" y2="396.80" stroke="#444" stroke-width="0.8"/>
<line x1="380.77" y1="395.50" x2="380.77" y2="396.80" stroke="#444" stroke-width="0.8"/>
<line x1="383.14" y1="395.50" x2="383.14" y2="396.80" stroke="#444" stroke-width="0.8"/>
<line x1="385.15" y1="395.50" x2="385.15" y2="396.80" stroke="#444" stroke-width="0.8"/>
<line x1="386.89" y1="395.50" x2="386.89" y2="396.80" stroke="#444" stroke-width="0.8"/>
<line x1="388.43" y1="395.50" x2="388.43" y2="396.80" stroke="#444" stroke-width="0.8"/>
<text x="327.90" y="270.10" font-size="11.6" text-anchor="middle" fill="#000" stroke="#000" stroke-width="0.4">Runx1 Δ/Δ</text>
<text x="330.00" y="299.60" font-size="11.6" text-anchor="start" fill="#000" stroke="#000" stroke-width="0.5">1.41%</text>
<text x="275.00" y="350.80" font-size="11.6" text-anchor="start" fill="#000" stroke="#000" stroke-width="0.5">0.63%</text>
<text x="352.50" y="377.00" font-size="11.6" text-anchor="start" fill="#000" stroke="#000" stroke-width="0.5">0.91%</text>
<path d="M426.4 318.6h1v1h-1zM444.9 322.8h1v1h-1zM433.2 315.5h1v1h-1zM435.6 319.5h1v1h-1zM423.5 325.8h1v1h-1zM437.3 326.7h1v1h-1zM437.0 324.2h1v1h-1zM432.6 324.4h1v1h-1zM434.5 324.4h1v1h-1zM438.5 319.2h1v1h-1zM437.2 323.0h1v1h-1zM432.5 322.2h1v1h-1zM443.2 326.3h1v1h-1zM437.5 315.7h1v1h-1zM442.0 328.1h1v1h-1zM435.6 320.0h1v1h-1zM439.1 323.2h1v1h-1zM442.9 320.7h1v1h-1zM448.5 325.3h1v1h-1zM430.5 325.7h1v1h-1zM436.3 324.7h1v1h-1zM439.5 322.7h1v1h-1zM439.2 321.3h1v1h-1zM432.4 321.9h1v1h-1zM435.3 323.7h1v1h-1zM438.4 317.7h1v1h-1zM442.6 322.4h1v1h-1zM442.7 324.6h1v1h-1zM438.9 324.3h1v1h-1zM427.8 327.2h1v1h-1zM449.8 324.5h1v1h-1zM433.8 324.7h1v1h-1zM435.0 327.5h1v1h-1zM434.3 319.1h1v1h-1zM431.8 320.4h1v1h-1zM441.9 322.5h1v1h-1zM439.0 321.6h1v1h-1zM445.8 322.6h1v1h-1zM438.7 327.3h1v1h-1zM439.2 321.0h1v1h-1zM435.7 326.0h1v1h-1zM439.7 320.3h1v1h-1zM444.9 318.2h1v1h-1zM423.3 319.7h1v1h-1zM425.0 322.0h1v1h-1zM437.5 321.8h1v1h-1zM433.5 319.4h1v1h-1zM443.3 316.7h1v1h-1zM441.9 323.4h1v1h-1zM436.8 323.9h1v1h-1zM427.1 325.5h1v1h-1zM440.5 325.9h1v1h-1zM423.8 323.3h1v1h-1zM436.3 315.7h1v1h-1zM435.0 322.7h1v1h-1zM432.1 323.7h1v1h-1zM440.8 321.2h1v1h-1zM434.9 324.9h1v1h-1zM430.8 324.1h1v1h-1zM445.8 322.5h1v1h-1zM439.6 322.7h1v1h-1zM442.5 318.1h1v1h-1zM426.1 320.0h1v1h-1zM433.2 325.5h1v1h-1zM446.1 324.3h1v1h-1zM445.3 321.3h1v1h-1zM433.7 317.9h1v1h-1zM444.7 324.2h1v1h-1zM436.9 318.5h1v1h-1zM430.5 324.0h1v1h-1zM437.1 325.8h1v1h-1zM438.3 320.4h1v1h-1zM429.4 322.5h1v1h-1zM447.7 328.5h1v1h-1zM432.3 324.1h1v1h-1zM432.4 323.3h1v1h-1zM418.7 320.6h1v1h-1zM425.3 326.9h1v1h-1zM434.5 323.9h1v1h-1zM437.3 318.5h1v1h-1zM441.1 325.8h1v1h-1zM438.5 324.2h1v1h-1zM444.3 324.2h1v1h-1zM436.3 317.6h1v1h-1zM431.6 320.2h1v1h-1zM442.0 326.6h1v1h-1zM437.3 325.5h1v1h-1zM421.6 323.4h1v1h-1zM429.5 325.4h1v1h-1zM445.4 326.0h1v1h-1zM442.4 326.0h1v1h-1zM448.9 321.1h1v1h-1zM447.5 321.7h1v1h-1zM428.5 324.5h1v1h-1zM442.4 323.7h1v1h-1zM433.3 324.5h1v1h-1zM436.0 330.1h1v1h-1zM439.8 324.0h1v1h-1zM434.2 324.5h1v1h-1zM448.4 320.6h1v1h-1zM435.2 317.0h1v1h-1zM437.0 327.5h1v1h-1zM429.7 321.5h1v1h-1zM432.5 321.8h1v1h-1zM432.3 321.6h1v1h-1zM430.1 323.3h1v1h-1zM443.6 324.9h1v1h-1zM425.2 326.6h1v1h-1zM441.9 326.0h1v1h-1zM431.6 320.8h1v1h-1zM441.7 327.9h1v1h-1zM431.1 323.5h1v1h-1zM440.1 321.6h1v1h-1zM439.5 321.1h1v1h-1zM445.6 317.8h1v1h-1zM439.3 321.1h1v1h-1zM436.9 319.9h1v1h-1zM417.8 327.2h1v1h-1zM442.0 323.9h1v1h-1zM437.1 323.6h1v1h-1zM435.3 323.0h1v1h-1zM446.4 320.8h1v1h-1zM431.8 328.3h1v1h-1zM434.2 323.4h1v1h-1zM436.3 324.5h1v1h-1zM441.6 323.1h1v1h-1zM431.1 319.9h1v1h-1zM437.9 328.1h1v1h-1zM425.9 322.4h1v1h-1zM440.4 321.0h1v1h-1zM438.9 322.4h1v1h-1zM442.5 327.6h1v1h-1zM435.3 323.6h1v1h-1zM440.2 323.1h1v1h-1zM437.4 316.3h1v1h-1zM437.9 319.5h1v1h-1zM434.5 323.9h1v1h-1zM440.9 321.3h1v1h-1zM434.2 321.8h1v1h-1zM430.4 327.2h1v1h-1zM448.4 322.0h1v1h-1zM447.6 324.9h1v1h-1zM430.2 325.3h1v1h-1zM441.5 323.0h1v1h-1zM427.8 320.8h1v1h-1zM422.3 322.5h1v1h-1zM435.3 319.2h1v1h-1zM429.1 326.5h1v1h-1zM427.3 324.7h1v1h-1zM437.8 326.2h1v1h-1zM426.6 322.9h1v1h-1zM445.1 322.1h1v1h-1zM428.0 316.7h1v1h-1zM432.6 325.6h1v1h-1zM447.0 322.7h1v1h-1zM442.8 325.5h1v1h-1zM441.0 320.1h1v1h-1zM441.8 319.6h1v1h-1zM437.9 324.9h1v1h-1zM444.1 322.2h1v1h-1zM444.5 327.1h1v1h-1zM443.5 322.5h1v1h-1zM439.3 322.7h1v1h-1zM437.6 324.8h1v1h-1zM444.3 322.7h1v1h-1zM442.1 323.4h1v1h-1zM438.3 319.7h1v1h-1zM439.8 322.3h1v1h-1zM439.2 325.6h1v1h-1zM442.2 324.8h1v1h-1zM434.1 317.9h1v1h-1zM434.8 322.6h1v1h-1zM438.5 326.6h1v1h-1zM439.2 326.9h1v1h-1zM434.7 319.4h1v1h-1zM442.8 319.3h1v1h-1zM427.2 321.0h1v1h-1zM439.4 325.9h1v1h-1zM437.3 325.3h1v1h-1zM437.1 317.8h1v1h-1zM430.2 317.7h1v1h-1zM435.9 316.4h1v1h-1zM428.0 320.1h1v1h-1zM442.9 324.2h1v1h-1zM434.7 323.2h1v1h-1zM435.5 330.6h1v1h-1zM426.4 316.5h1v1h-1zM424.7 318.3h1v1h-1zM434.8 325.3h1v1h-1zM435.4 321.7h1v1h-1zM436.0 323.0h1v1h-1zM431.0 324.3h1v1h-1zM436.5 323.1h1v1h-1zM440.3 324.1h1v1h-1zM441.8 319.8h1v1h-1zM439.8 317.8h1v1h-1zM423.4 321.3h1v1h-1zM439.3 323.8h1v1h-1zM439.0 324.9h1v1h-1zM425.4 320.7h1v1h-1zM435.2 320.0h1v1h-1zM438.7 324.1h1v1h-1zM438.6 322.7h1v1h-1zM451.4 322.6h1v1h-1zM436.9 325.9h1v1h-1zM448.3 319.7h1v1h-1zM430.4 326.3h1v1h-1zM443.9 324.9h1v1h-1zM435.1 324.3h1v1h-1zM427.8 319.0h1v1h-1zM446.7 318.7h1v1h-1zM435.8 324.2h1v1h-1zM438.8 319.2h1v1h-1zM433.0 324.1h1v1h-1zM434.0 327.2h1v1h-1zM435.9 327.7h1v1h-1zM436.6 326.0h1v1h-1zM439.5 322.6h1v1h-1zM428.1 324.1h1v1h-1zM437.2 323.4h1v1h-1zM433.2 319.6h1v1h-1zM430.5 322.0h1v1h-1zM442.4 321.3h1v1h-1zM429.5 319.9h1v1h-1zM429.3 317.5h1v1h-1zM434.1 320.3h1v1h-1zM434.2 327.8h1v1h-1zM442.5 326.5h1v1h-1zM436.7 323.1h1v1h-1zM431.5 317.1h1v1h-1zM416.3 319.5h1v1h-1zM428.4 328.4h1v1h-1zM425.2 315.5h1v1h-1zM423.4 322.5h1v1h-1zM418.8 319.1h1v1h-1zM428.6 321.2h1v1h-1zM428.2 321.0h1v1h-1zM425.6 325.5h1v1h-1zM431.0 321.7h1v1h-1zM428.9 320.7h1v1h-1zM425.5 322.3h1v1h-1zM427.0 329.6h1v1h-1zM427.3 322.4h1v1h-1zM438.4 317.8h1v1h-1zM426.6 325.3h1v1h-1zM427.3 320.9h1v1h-1zM421.2 321.1h1v1h-1zM421.9 324.6h1v1h-1zM429.4 320.1h1v1h-1zM432.8 317.6h1v1h-1zM421.0 323.6h1v1h-1zM427.7 317.1h1v1h-1zM421.7 320.2h1v1h-1zM422.3 321.7h1v1h-1zM425.4 322.7h1v1h-1zM425.7 322.2h1v1h-1zM423.5 322.3h1v1h-1zM428.1 323.4h1v1h-1zM428.1 319.7h1v1h-1zM425.7 325.4h1v1h-1zM424.5 321.2h1v1h-1zM435.3 323.2h1v1h-1zM430.0 318.0h1v1h-1zM420.8 322.0h1v1h-1zM438.4 314.9h1v1h-1zM416.2 322.9h1v1h-1zM427.5 317.7h1v1h-1zM431.2 321.6h1v1h-1zM423.2 320.7h1v1h-1zM422.8 322.0h1v1h-1zM421.9 317.1h1v1h-1zM421.8 322.2h1v1h-1zM432.4 318.8h1v1h-1zM420.0 321.9h1v1h-1zM432.4 319.7h1v1h-1zM434.7 318.3h1v1h-1zM434.2 323.3h1v1h-1zM416.1 322.8h1v1h-1zM424.7 320.4h1v1h-1zM421.7 321.0h1v1h-1zM449.8 321.4h1v1h-1zM465.4 327.6h1v1h-1zM453.9 327.8h1v1h-1zM441.3 322.5h1v1h-1zM465.0 331.3h1v1h-1zM455.4 331.1h1v1h-1zM458.3 330.9h1v1h-1zM457.5 329.5h1v1h-1zM450.8 330.1h1v1h-1zM454.6 326.1h1v1h-1zM449.7 323.3h1v1h-1zM446.5 324.0h1v1h-1zM448.8 322.3h1v1h-1zM467.4 337.3h1v1h-1zM456.7 326.3h1v1h-1zM444.4 325.7h1v1h-1zM447.7 324.0h1v1h-1zM463.6 330.4h1v1h-1zM465.4 331.5h1v1h-1zM454.4 329.9h1v1h-1zM444.3 325.9h1v1h-1zM452.1 327.2h1v1h-1zM458.0 329.6h1v1h-1zM445.2 324.6h1v1h-1zM462.9 330.5h1v1h-1zM449.2 326.7h1v1h-1zM452.4 333.5h1v1h-1zM444.4 322.4h1v1h-1zM459.6 328.8h1v1h-1zM441.8 328.1h1v1h-1zM458.7 333.5h1v1h-1zM447.3 322.7h1v1h-1zM455.2 323.5h1v1h-1zM449.4 326.1h1v1h-1zM458.1 333.3h1v1h-1zM458.0 328.9h1v1h-1zM465.0 331.4h1v1h-1zM443.3 324.4h1v1h-1zM462.2 330.2h1v1h-1zM461.1 328.8h1v1h-1zM444.3 321.4h1v1h-1zM451.0 322.1h1v1h-1zM457.1 329.6h1v1h-1zM444.3 330.4h1v1h-1zM459.3 330.3h1v1h-1zM450.7 325.4h1v1h-1zM471.5 329.4h1v1h-1zM463.0 330.3h1v1h-1zM468.5 329.7h1v1h-1zM450.2 327.4h1v1h-1zM463.4 329.7h1v1h-1zM464.2 327.6h1v1h-1zM445.3 321.5h1v1h-1zM459.7 330.3h1v1h-1zM438.7 326.4h1v1h-1zM467.6 331.5h1v1h-1zM452.6 329.6h1v1h-1zM462.2 330.4h1v1h-1zM443.7 329.8h1v1h-1zM453.6 326.5h1v1h-1zM445.2 327.0h1v1h-1zM452.7 331.2h1v1h-1zM459.9 327.3h1v1h-1zM443.8 324.0h1v1h-1zM452.3 330.6h1v1h-1zM451.2 328.1h1v1h-1zM467.7 333.7h1v1h-1zM453.7 325.5h1v1h-1zM458.3 329.1h1v1h-1zM450.9 326.4h1v1h-1zM456.3 331.7h1v1h-1zM464.2 334.9h1v1h-1zM446.5 324.9h1v1h-1zM437.5 329.8h1v1h-1zM460.0 328.6h1v1h-1zM448.4 331.5h1v1h-1zM452.4 328.9h1v1h-1zM455.5 329.8h1v1h-1zM450.1 323.3h1v1h-1zM452.6 333.5h1v1h-1zM464.0 331.0h1v1h-1zM444.3 324.2h1v1h-1zM459.8 333.3h1v1h-1zM461.8 330.4h1v1h-1zM447.6 324.8h1v1h-1zM451.6 327.2h1v1h-1zM454.5 324.9h1v1h-1zM444.6 330.5h1v1h-1zM455.0 332.4h1v1h-1zM444.7 324.3h1v1h-1zM463.1 335.7h1v1h-1zM438.8 328.2h1v1h-1zM452.0 328.2h1v1h-1zM460.9 331.9h1v1h-1zM444.3 333.4h1v1h-1zM456.2 326.3h1v1h-1zM458.7 325.8h1v1h-1zM449.7 323.4h1v1h-1zM447.4 334.6h1v1h-1zM461.2 333.2h1v1h-1zM448.6 324.7h1v1h-1zM463.3 331.2h1v1h-1zM461.8 333.3h1v1h-1zM457.7 327.8h1v1h-1zM465.8 333.8h1v1h-1zM466.4 332.7h1v1h-1zM467.4 335.0h1v1h-1zM456.7 331.3h1v1h-1zM459.9 328.1h1v1h-1zM454.6 328.5h1v1h-1zM449.0 329.5h1v1h-1zM445.7 328.8h1v1h-1zM466.9 327.5h1v1h-1zM464.9 332.8h1v1h-1zM455.8 335.2h1v1h-1zM452.1 330.5h1v1h-1zM458.9 331.1h1v1h-1zM455.3 325.2h1v1h-1zM444.2 322.8h1v1h-1zM441.9 324.0h1v1h-1zM450.5 328.9h1v1h-1zM448.4 324.1h1v1h-1zM467.3 333.0h1v1h-1zM465.2 330.9h1v1h-1zM462.8 331.1h1v1h-1zM460.5 335.7h1v1h-1zM447.0 327.1h1v1h-1zM450.5 329.6h1v1h-1zM457.8 321.8h1v1h-1zM453.4 330.5h1v1h-1zM452.4 327.5h1v1h-1zM448.8 332.4h1v1h-1zM453.6 324.8h1v1h-1zM449.4 328.0h1v1h-1zM447.8 329.2h1v1h-1zM453.5 334.4h1v1h-1zM445.7 321.7h1v1h-1zM453.6 329.5h1v1h-1zM465.4 331.0h1v1h-1zM454.8 333.5h1v1h-1zM450.9 332.7h1v1h-1zM459.5 331.3h1v1h-1zM442.3 329.5h1v1h-1zM468.5 331.2h1v1h-1zM455.2 324.1h1v1h-1zM456.1 331.6h1v1h-1zM449.7 329.9h1v1h-1zM446.6 327.6h1v1h-1zM451.1 325.9h1v1h-1zM450.4 331.5h1v1h-1zM444.4 325.9h1v1h-1zM447.7 325.3h1v1h-1zM460.6 332.9h1v1h-1zM451.7 328.7h1v1h-1zM452.4 332.6h1v1h-1zM460.8 329.3h1v1h-1zM459.1 326.6h1v1h-1zM466.6 335.6h1v1h-1zM439.3 327.0h1v1h-1zM443.2 324.4h1v1h-1zM451.8 324.7h1v1h-1zM463.5 329.7h1v1h-1zM459.2 331.3h1v1h-1zM448.5 325.2h1v1h-1zM452.4 326.0h1v1h-1zM464.3 328.5h1v1h-1zM454.5 328.2h1v1h-1zM461.7 333.5h1v1h-1zM459.0 334.7h1v1h-1zM461.1 328.2h1v1h-1zM439.0 323.5h1v1h-1zM462.3 331.2h1v1h-1zM460.4 331.3h1v1h-1zM450.1 331.0h1v1h-1zM456.1 332.7h1v1h-1zM448.2 327.1h1v1h-1zM451.6 327.7h1v1h-1zM459.5 326.6h1v1h-1zM456.2 325.2h1v1h-1zM462.7 332.2h1v1h-1zM456.5 335.0h1v1h-1zM451.5 324.0h1v1h-1zM461.8 327.6h1v1h-1zM443.9 325.1h1v1h-1zM467.3 334.0h1v1h-1zM440.2 320.3h1v1h-1zM441.8 325.2h1v1h-1zM448.7 328.6h1v1h-1zM452.0 322.0h1v1h-1zM459.0 326.9h1v1h-1zM462.6 333.0h1v1h-1zM458.7 335.7h1v1h-1zM461.0 328.5h1v1h-1zM457.7 331.1h1v1h-1zM454.2 331.2h1v1h-1zM459.0 325.6h1v1h-1zM445.3 326.7h1v1h-1zM447.1 324.7h1v1h-1zM452.4 327.7h1v1h-1zM466.4 333.5h1v1h-1zM462.1 326.5h1v1h-1zM460.9 328.4h1v1h-1zM466.0 336.0h1v1h-1zM464.6 330.4h1v1h-1zM464.6 335.5h1v1h-1zM466.3 333.0h1v1h-1zM463.9 332.7h1v1h-1zM465.2 336.8h1v1h-1zM467.1 337.0h1v1h-1zM468.7 333.8h1v1h-1zM459.4 332.1h1v1h-1zM462.8 336.3h1v1h-1zM468.3 334.2h1v1h-1zM466.1 337.5h1v1h-1zM458.2 335.3h1v1h-1zM465.1 329.3h1v1h-1zM463.6 332.6h1v1h-1zM468.0 336.6h1v1h-1zM463.8 330.2h1v1h-1zM471.1 336.7h1v1h-1zM462.3 330.3h1v1h-1zM468.1 331.8h1v1h-1zM469.6 330.1h1v1h-1zM463.9 343.3h1v1h-1zM471.5 338.4h1v1h-1zM468.5 330.6h1v1h-1zM472.0 338.2h1v1h-1zM466.0 331.9h1v1h-1zM469.3 332.6h1v1h-1zM460.3 335.3h1v1h-1zM470.4 326.7h1v1h-1zM474.6 328.9h1v1h-1zM461.4 329.6h1v1h-1zM466.6 332.4h1v1h-1zM459.2 333.1h1v1h-1zM468.5 330.3h1v1h-1zM456.4 328.7h1v1h-1zM463.5 335.3h1v1h-1zM464.5 334.2h1v1h-1zM479.0 332.7h1v1h-1zM465.7 335.8h1v1h-1zM472.1 337.4h1v1h-1zM466.8 328.2h1v1h-1zM458.2 329.6h1v1h-1zM465.1 328.4h1v1h-1zM460.0 331.4h1v1h-1zM464.4 330.5h1v1h-1zM474.5 335.9h1v1h-1zM460.7 335.8h1v1h-1zM465.8 329.7h1v1h-1zM463.8 342.0h1v1h-1zM465.9 329.3h1v1h-1zM465.6 335.1h1v1h-1zM466.9 331.7h1v1h-1zM462.1 330.1h1v1h-1zM460.2 332.5h1v1h-1zM468.6 334.1h1v1h-1zM466.1 337.2h1v1h-1zM468.2 334.6h1v1h-1zM461.7 331.2h1v1h-1zM464.4 336.4h1v1h-1zM465.9 332.0h1v1h-1zM465.5 338.1h1v1h-1zM464.1 329.9h1v1h-1zM467.6 332.4h1v1h-1zM472.8 336.8h1v1h-1zM468.1 332.2h1v1h-1zM466.9 337.7h1v1h-1zM468.7 335.1h1v1h-1zM456.1 328.7h1v1h-1zM466.0 335.1h1v1h-1zM469.6 333.2h1v1h-1zM458.8 333.1h1v1h-1zM463.1 325.0h1v1h-1zM462.5 331.2h1v1h-1zM467.4 335.4h1v1h-1zM467.4 332.7h1v1h-1zM464.3 332.6h1v1h-1zM461.6 335.2h1v1h-1zM466.7 336.4h1v1h-1zM469.2 331.4h1v1h-1zM466.3 332.6h1v1h-1zM466.9 323.7h1v1h-1zM462.5 339.7h1v1h-1zM467.2 337.9h1v1h-1zM464.4 327.3h1v1h-1zM465.4 331.6h1v1h-1zM463.3 337.1h1v1h-1zM473.3 330.4h1v1h-1zM475.6 336.2h1v1h-1zM461.6 336.6h1v1h-1zM468.6 333.0h1v1h-1zM459.7 334.5h1v1h-1zM463.5 339.3h1v1h-1zM462.2 327.5h1v1h-1zM468.9 328.7h1v1h-1zM473.5 329.6h1v1h-1zM470.1 329.4h1v1h-1zM464.6 333.4h1v1h-1zM463.8 335.4h1v1h-1zM463.8 338.0h1v1h-1zM470.9 327.2h1v1h-1zM475.9 334.1h1v1h-1zM463.2 334.0h1v1h-1zM467.5 335.9h1v1h-1zM470.8 337.3h1v1h-1zM461.3 334.0h1v1h-1zM464.2 327.4h1v1h-1zM463.4 329.2h1v1h-1zM468.7 331.9h1v1h-1zM468.6 332.7h1v1h-1zM467.6 334.7h1v1h-1zM463.4 332.4h1v1h-1zM466.2 331.1h1v1h-1zM462.5 334.0h1v1h-1zM469.8 339.6h1v1h-1zM467.9 333.9h1v1h-1zM462.0 332.7h1v1h-1zM472.6 340.2h1v1h-1zM469.3 339.0h1v1h-1zM474.6 340.7h1v1h-1zM470.6 330.9h1v1h-1zM467.9 337.5h1v1h-1zM464.6 333.0h1v1h-1zM463.4 331.1h1v1h-1zM460.7 337.3h1v1h-1zM464.1 333.5h1v1h-1zM469.4 332.0h1v1h-1zM462.2 330.9h1v1h-1zM462.3 333.4h1v1h-1zM464.2 337.0h1v1h-1zM465.4 334.9h1v1h-1zM462.8 326.5h1v1h-1zM465.4 336.4h1v1h-1zM471.3 337.2h1v1h-1zM465.1 331.6h1v1h-1zM467.5 331.7h1v1h-1zM469.3 335.9h1v1h-1zM471.1 330.1h1v1h-1zM473.5 326.1h1v1h-1zM465.4 330.9h1v1h-1zM466.6 331.8h1v1h-1zM471.9 330.1h1v1h-1zM470.1 328.8h1v1h-1zM466.7 334.2h1v1h-1zM471.2 328.6h1v1h-1zM456.9 338.9h1v1h-1zM462.6 331.8h1v1h-1zM466.0 337.9h1v1h-1zM470.1 337.2h1v1h-1zM472.8 334.7h1v1h-1zM465.8 337.7h1v1h-1zM471.4 334.0h1v1h-1zM458.7 330.8h1v1h-1zM468.9 331.2h1v1h-1zM471.1 342.5h1v1h-1zM467.4 334.3h1v1h-1zM470.8 339.4h1v1h-1zM457.4 331.2h1v1h-1zM473.3 332.8h1v1h-1zM459.2 334.9h1v1h-1zM461.0 336.3h1v1h-1zM471.4 331.6h1v1h-1zM461.7 334.8h1v1h-1zM465.4 331.9h1v1h-1zM464.3 331.2h1v1h-1zM462.6 336.0h1v1h-1zM472.1 329.9h1v1h-1zM461.2 335.7h1v1h-1zM472.8 335.0h1v1h-1zM472.2 335.9h1v1h-1zM467.3 332.0h1v1h-1zM463.6 332.7h1v1h-1zM459.0 338.3h1v1h-1zM461.9 334.0h1v1h-1zM468.6 332.7h1v1h-1zM466.8 330.1h1v1h-1zM465.1 335.7h1v1h-1zM470.1 328.2h1v1h-1zM466.7 326.6h1v1h-1zM462.3 348.2h1v1h-1zM469.1 337.3h1v1h-1zM468.0 337.3h1v1h-1zM465.5 334.7h1v1h-1zM459.3 332.5h1v1h-1zM463.4 337.6h1v1h-1zM460.7 341.7h1v1h-1zM456.8 350.6h1v1h-1zM463.0 343.5h1v1h-1zM463.7 340.4h1v1h-1zM471.9 333.4h1v1h-1zM454.4 357.9h1v1h-1zM459.9 341.7h1v1h-1zM465.4 353.2h1v1h-1zM467.5 357.5h1v1h-1zM462.5 339.0h1v1h-1zM464.7 347.1h1v1h-1zM452.7 347.2h1v1h-1zM474.1 344.3h1v1h-1zM467.7 348.6h1v1h-1zM460.3 347.9h1v1h-1zM460.6 348.7h1v1h-1zM459.4 355.8h1v1h-1zM466.1 332.7h1v1h-1zM459.6 353.0h1v1h-1zM465.5 347.2h1v1h-1zM456.8 351.7h1v1h-1zM474.5 360.1h1v1h-1zM456.7 348.7h1v1h-1zM468.7 357.6h1v1h-1zM454.2 341.0h1v1h-1zM459.2 337.1h1v1h-1zM459.4 339.1h1v1h-1zM453.4 344.6h1v1h-1zM468.4 350.9h1v1h-1zM460.2 330.7h1v1h-1zM457.5 344.0h1v1h-1zM455.9 348.3h1v1h-1zM459.4 354.5h1v1h-1zM463.2 338.8h1v1h-1zM468.2 348.3h1v1h-1zM459.2 348.8h1v1h-1zM462.1 363.6h1v1h-1zM468.4 350.5h1v1h-1zM460.6 342.7h1v1h-1zM470.8 340.8h1v1h-1zM455.4 340.0h1v1h-1zM470.1 337.6h1v1h-1zM457.5 356.4h1v1h-1zM472.6 341.0h1v1h-1zM461.3 342.0h1v1h-1zM473.5 341.4h1v1h-1zM453.9 341.3h1v1h-1zM462.5 349.0h1v1h-1zM457.5 344.8h1v1h-1zM456.6 331.8h1v1h-1zM452.8 363.5h1v1h-1zM472.7 358.5h1v1h-1zM463.1 359.1h1v1h-1zM467.7 358.9h1v1h-1zM464.3 336.6h1v1h-1zM451.1 339.6h1v1h-1zM457.5 356.5h1v1h-1zM455.0 350.5h1v1h-1zM464.5 356.9h1v1h-1zM456.9 345.4h1v1h-1zM462.2 341.9h1v1h-1zM456.3 342.5h1v1h-1zM463.2 353.0h1v1h-1zM465.8 356.7h1v1h-1zM462.0 337.8h1v1h-1zM454.5 340.4h1v1h-1zM460.0 349.1h1v1h-1zM459.3 351.6h1v1h-1zM460.6 353.8h1v1h-1zM466.7 350.2h1v1h-1zM459.6 363.0h1v1h-1zM453.7 331.0h1v1h-1zM470.3 358.7h1v1h-1zM469.1 355.6h1v1h-1zM458.9 345.3h1v1h-1zM465.5 359.4h1v1h-1zM464.8 353.2h1v1h-1zM453.5 348.4h1v1h-1zM463.1 358.3h1v1h-1zM459.4 342.4h1v1h-1zM458.5 356.0h1v1h-1zM463.8 339.0h1v1h-1zM466.5 355.9h1v1h-1zM463.4 355.8h1v1h-1zM452.3 347.2h1v1h-1zM458.8 347.5h1v1h-1zM459.4 362.8h1v1h-1zM465.9 351.5h1v1h-1zM456.1 339.2h1v1h-1zM467.9 359.6h1v1h-1zM462.2 334.6h1v1h-1zM457.9 360.2h1v1h-1zM462.3 349.1h1v1h-1zM459.2 345.7h1v1h-1zM456.1 326.0h1v1h-1zM462.7 345.5h1v1h-1zM474.0 363.6h1v1h-1zM462.7 360.3h1v1h-1zM460.8 339.2h1v1h-1zM461.0 357.7h1v1h-1zM468.1 350.7h1v1h-1zM458.3 340.8h1v1h-1zM464.6 361.3h1v1h-1zM463.2 356.9h1v1h-1zM468.5 340.2h1v1h-1zM464.4 345.5h1v1h-1zM464.3 353.8h1v1h-1zM464.4 339.3h1v1h-1zM463.6 338.0h1v1h-1zM469.5 345.5h1v1h-1zM461.2 343.9h1v1h-1zM452.3 347.5h1v1h-1zM461.6 346.8h1v1h-1zM461.0 342.1h1v1h-1zM463.7 351.0h1v1h-1zM467.1 353.3h1v1h-1zM460.4 358.4h1v1h-1zM461.7 351.5h1v1h-1zM459.3 344.8h1v1h-1zM462.7 339.5h1v1h-1zM459.7 356.7h1v1h-1zM457.2 344.5h1v1h-1zM456.3 337.5h1v1h-1zM453.5 350.1h1v1h-1zM464.7 376.2h1v1h-1zM439.9 355.2h1v1h-1zM453.5 359.2h1v1h-1zM470.1 362.2h1v1h-1zM446.4 351.8h1v1h-1zM456.5 371.7h1v1h-1zM447.3 389.3h1v1h-1zM425.6 337.0h1v1h-1zM408.2 354.1h1v1h-1zM433.8 358.9h1v1h-1zM447.1 380.5h1v1h-1zM427.8 382.8h1v1h-1zM430.8 350.0h1v1h-1zM451.2 377.4h1v1h-1zM450.4 349.7h1v1h-1zM461.5 370.7h1v1h-1zM427.3 365.3h1v1h-1zM442.8 364.2h1v1h-1zM430.6 389.6h1v1h-1zM432.0 370.3h1v1h-1zM438.9 368.6h1v1h-1zM414.2 394.4h1v1h-1zM463.5 364.1h1v1h-1zM457.8 366.1h1v1h-1zM452.7 363.4h1v1h-1zM415.4 356.0h1v1h-1zM430.8 354.6h1v1h-1zM408.0 361.3h1v1h-1zM448.8 370.3h1v1h-1zM427.0 389.4h1v1h-1zM436.3 370.1h1v1h-1zM436.4 352.7h1v1h-1zM441.8 350.7h1v1h-1zM422.2 336.9h1v1h-1zM442.3 373.6h1v1h-1zM438.8 358.9h1v1h-1zM436.2 376.7h1v1h-1zM431.7 363.8h1v1h-1zM445.3 362.9h1v1h-1zM444.7 374.3h1v1h-1zM435.2 392.8h1v1h-1zM429.0 364.8h1v1h-1zM443.7 364.1h1v1h-1zM422.0 365.2h1v1h-1zM424.8 362.3h1v1h-1zM447.9 375.7h1v1h-1zM439.3 357.6h1v1h-1zM473.1 363.1h1v1h-1zM467.9 353.3h1v1h-1zM443.4 387.9h1v1h-1zM426.0 347.3h1v1h-1zM454.8 387.9h1v1h-1zM452.6 371.3h1v1h-1zM431.6 370.0h1v1h-1zM453.4 359.2h1v1h-1zM414.4 381.1h1v1h-1zM421.5 345.2h1v1h-1zM432.4 380.7h1v1h-1zM419.6 365.3h1v1h-1zM468.7 370.6h1v1h-1zM436.3 352.9h1v1h-1zM415.4 384.9h1v1h-1zM418.8 366.6h1v1h-1zM454.8 356.0h1v1h-1zM436.4 379.6h1v1h-1zM441.5 382.4h1v1h-1zM457.2 386.5h1v1h-1zM417.5 369.2h1v1h-1zM440.9 361.9h1v1h-1zM413.1 362.4h1v1h-1zM431.1 388.6h1v1h-1zM440.3 352.7h1v1h-1zM509.2 352.3h1v1h-1zM507.5 308.2h1v1h-1zM421.5 310.5h1v1h-1z" fill="#2a2a2a" fill-opacity="0.7"/>
<line x1="452.50" y1="275.50" x2="452.50" y2="395.50" stroke="#a8a8a8" stroke-width="1"/>
<line x1="483.50" y1="275.50" x2="483.50" y2="385.50" stroke="#a8a8a8" stroke-width="1"/>
<line x1="404.50" y1="337.50" x2="483.50" y2="337.50" stroke="#a8a8a8" stroke-width="1"/>
<line x1="404.50" y1="337.50" x2="404.50" y2="395.50" stroke="#a8a8a8" stroke-width="1"/>
<line x1="452.50" y1="385.50" x2="483.50" y2="385.50" stroke="#a8a8a8" stroke-width="1"/>
<polyline points="521.00,275.50 399.40,275.50 399.40,395.50 521.00,395.50" fill="none" stroke="#444" stroke-width="1.1"/>
<line x1="396.90" y1="395.50" x2="399.40" y2="395.50" stroke="#444" stroke-width="0.8"/>
<line x1="398.10" y1="386.47" x2="399.40" y2="386.47" stroke="#444" stroke-width="0.8"/>
<line x1="398.10" y1="381.19" x2="399.40" y2="381.19" stroke="#444" stroke-width="0.8"/>
<line x1="398.10" y1="377.44" x2="399.40" y2="377.44" stroke="#444" stroke-width="0.8"/>
<line x1="398.10" y1="374.53" x2="399.40" y2="374.53" stroke="#444" stroke-width="0.8"/>
<line x1="398.10" y1="372.16" x2="399.40" y2="372.16" stroke="#444" stroke-width="0.8"/>
<line x1="398.10" y1="370.15" x2="399.40" y2="370.15" stroke="#444" stroke-width="0.8"/>
<line x1="398.10" y1="368.41" x2="399.40" y2="368.41" stroke="#444" stroke-width="0.8"/>
<line x1="398.10" y1="366.87" x2="399.40" y2="366.87" stroke="#444" stroke-width="0.8"/>
<line x1="399.40" y1="395.50" x2="399.40" y2="398.00" stroke="#444" stroke-width="0.8"/>
<line x1="408.43" y1="395.50" x2="408.43" y2="396.80" stroke="#444" stroke-width="0.8"/>
<line x1="413.71" y1="395.50" x2="413.71" y2="396.80" stroke="#444" stroke-width="0.8"/>
<line x1="417.46" y1="395.50" x2="417.46" y2="396.80" stroke="#444" stroke-width="0.8"/>
<line x1="420.37" y1="395.50" x2="420.37" y2="396.80" stroke="#444" stroke-width="0.8"/>
<line x1="422.74" y1="395.50" x2="422.74" y2="396.80" stroke="#444" stroke-width="0.8"/>
<line x1="424.75" y1="395.50" x2="424.75" y2="396.80" stroke="#444" stroke-width="0.8"/>
<line x1="426.49" y1="395.50" x2="426.49" y2="396.80" stroke="#444" stroke-width="0.8"/>
<line x1="428.03" y1="395.50" x2="428.03" y2="396.80" stroke="#444" stroke-width="0.8"/>
<line x1="396.90" y1="365.50" x2="399.40" y2="365.50" stroke="#444" stroke-width="0.8"/>
<line x1="398.10" y1="356.47" x2="399.40" y2="356.47" stroke="#444" stroke-width="0.8"/>
<line x1="398.10" y1="351.19" x2="399.40" y2="351.19" stroke="#444" stroke-width="0.8"/>
<line x1="398.10" y1="347.44" x2="399.40" y2="347.44" stroke="#444" stroke-width="0.8"/>
<line x1="398.10" y1="344.53" x2="399.40" y2="344.53" stroke="#444" stroke-width="0.8"/>
<line x1="398.10" y1="342.16" x2="399.40" y2="342.16" stroke="#444" stroke-width="0.8"/>
<line x1="398.10" y1="340.15" x2="399.40" y2="340.15" stroke="#444" stroke-width="0.8"/>
<line x1="398.10" y1="338.41" x2="399.40" y2="338.41" stroke="#444" stroke-width="0.8"/>
<line x1="398.10" y1="336.87" x2="399.40" y2="336.87" stroke="#444" stroke-width="0.8"/>
<line x1="429.40" y1="395.50" x2="429.40" y2="398.00" stroke="#444" stroke-width="0.8"/>
<line x1="438.43" y1="395.50" x2="438.43" y2="396.80" stroke="#444" stroke-width="0.8"/>
<line x1="443.71" y1="395.50" x2="443.71" y2="396.80" stroke="#444" stroke-width="0.8"/>
<line x1="447.46" y1="395.50" x2="447.46" y2="396.80" stroke="#444" stroke-width="0.8"/>
<line x1="450.37" y1="395.50" x2="450.37" y2="396.80" stroke="#444" stroke-width="0.8"/>
<line x1="452.74" y1="395.50" x2="452.74" y2="396.80" stroke="#444" stroke-width="0.8"/>
<line x1="454.75" y1="395.50" x2="454.75" y2="396.80" stroke="#444" stroke-width="0.8"/>
<line x1="456.49" y1="395.50" x2="456.49" y2="396.80" stroke="#444" stroke-width="0.8"/>
<line x1="458.03" y1="395.50" x2="458.03" y2="396.80" stroke="#444" stroke-width="0.8"/>
<line x1="396.90" y1="335.50" x2="399.40" y2="335.50" stroke="#444" stroke-width="0.8"/>
<line x1="398.10" y1="326.47" x2="399.40" y2="326.47" stroke="#444" stroke-width="0.8"/>
<line x1="398.10" y1="321.19" x2="399.40" y2="321.19" stroke="#444" stroke-width="0.8"/>
<line x1="398.10" y1="317.44" x2="399.40" y2="317.44" stroke="#444" stroke-width="0.8"/>
<line x1="398.10" y1="314.53" x2="399.40" y2="314.53" stroke="#444" stroke-width="0.8"/>
<line x1="398.10" y1="312.16" x2="399.40" y2="312.16" stroke="#444" stroke-width="0.8"/>
<line x1="398.10" y1="310.15" x2="399.40" y2="310.15" stroke="#444" stroke-width="0.8"/>
<line x1="398.10" y1="308.41" x2="399.40" y2="308.41" stroke="#444" stroke-width="0.8"/>
<line x1="398.10" y1="306.87" x2="399.40" y2="306.87" stroke="#444" stroke-width="0.8"/>
<line x1="459.40" y1="395.50" x2="459.40" y2="398.00" stroke="#444" stroke-width="0.8"/>
<line x1="468.43" y1="395.50" x2="468.43" y2="396.80" stroke="#444" stroke-width="0.8"/>
<line x1="473.71" y1="395.50" x2="473.71" y2="396.80" stroke="#444" stroke-width="0.8"/>
<line x1="477.46" y1="395.50" x2="477.46" y2="396.80" stroke="#444" stroke-width="0.8"/>
<line x1="480.37" y1="395.50" x2="480.37" y2="396.80" stroke="#444" stroke-width="0.8"/>
<line x1="482.74" y1="395.50" x2="482.74" y2="396.80" stroke="#444" stroke-width="0.8"/>
<line x1="484.75" y1="395.50" x2="484.75" y2="396.80" stroke="#444" stroke-width="0.8"/>
<line x1="486.49" y1="395.50" x2="486.49" y2="396.80" stroke="#444" stroke-width="0.8"/>
<line x1="488.03" y1="395.50" x2="488.03" y2="396.80" stroke="#444" stroke-width="0.8"/>
<line x1="396.90" y1="305.50" x2="399.40" y2="305.50" stroke="#444" stroke-width="0.8"/>
<line x1="398.10" y1="296.47" x2="399.40" y2="296.47" stroke="#444" stroke-width="0.8"/>
<line x1="398.10" y1="291.19" x2="399.40" y2="291.19" stroke="#444" stroke-width="0.8"/>
<line x1="398.10" y1="287.44" x2="399.40" y2="287.44" stroke="#444" stroke-width="0.8"/>
<line x1="398.10" y1="284.53" x2="399.40" y2="284.53" stroke="#444" stroke-width="0.8"/>
<line x1="398.10" y1="282.16" x2="399.40" y2="282.16" stroke="#444" stroke-width="0.8"/>
<line x1="398.10" y1="280.15" x2="399.40" y2="280.15" stroke="#444" stroke-width="0.8"/>
<line x1="398.10" y1="278.41" x2="399.40" y2="278.41" stroke="#444" stroke-width="0.8"/>
<line x1="398.10" y1="276.87" x2="399.40" y2="276.87" stroke="#444" stroke-width="0.8"/>
<line x1="489.40" y1="395.50" x2="489.40" y2="398.00" stroke="#444" stroke-width="0.8"/>
<line x1="498.43" y1="395.50" x2="498.43" y2="396.80" stroke="#444" stroke-width="0.8"/>
<line x1="503.71" y1="395.50" x2="503.71" y2="396.80" stroke="#444" stroke-width="0.8"/>
<line x1="507.46" y1="395.50" x2="507.46" y2="396.80" stroke="#444" stroke-width="0.8"/>
<line x1="510.37" y1="395.50" x2="510.37" y2="396.80" stroke="#444" stroke-width="0.8"/>
<line x1="512.74" y1="395.50" x2="512.74" y2="396.80" stroke="#444" stroke-width="0.8"/>
<line x1="514.75" y1="395.50" x2="514.75" y2="396.80" stroke="#444" stroke-width="0.8"/>
<line x1="516.49" y1="395.50" x2="516.49" y2="396.80" stroke="#444" stroke-width="0.8"/>
<line x1="518.03" y1="395.50" x2="518.03" y2="396.80" stroke="#444" stroke-width="0.8"/>
<text x="450.80" y="270.10" font-size="11.6" text-anchor="middle" fill="#000" stroke="#000" stroke-width="0.4">Double KO</text>
<text x="457.50" y="299.60" font-size="11.6" text-anchor="start" fill="#000" stroke="#000" stroke-width="0.5">0.57%</text>
<text x="404.50" y="350.80" font-size="11.6" text-anchor="start" fill="#000" stroke="#000" stroke-width="0.5">0.77%</text>
<text x="482.50" y="377.00" font-size="11.6" text-anchor="start" fill="#000" stroke="#000" stroke-width="0.5">0.55%</text>
<line x1="518.20" y1="275.50" x2="518.20" y2="395.50" stroke="#c4c4c4" stroke-width="1"/>
<polyline points="13.6,374.6 13.6,402.6 43.5,402.6" fill="none" stroke="#111" stroke-width="1.3"/>
<polyline points="10.4,379.3 13.6,374.6 17.2,379.3" fill="none" stroke="#111" stroke-width="1.3"/>
<polyline points="37.4,398.8 43.5,402.6 37.4,406.4" fill="none" stroke="#111" stroke-width="1.3"/>
<text x="4.60" y="378.00" font-size="11.6" text-anchor="middle" fill="#000" transform="rotate(-90 4.60 378.00)" dominant-baseline="central" stroke="#000" stroke-width="0.42">CD16/32</text>
<text x="15.00" y="418.40" font-size="11.6" text-anchor="start" fill="#000" stroke="#000" stroke-width="0.42">CD34</text>
<line x1="80.80" y1="474.00" x2="80.80" y2="610.20" stroke="#8a8a8a" stroke-width="1"/>
<line x1="80.80" y1="610.20" x2="159.20" y2="610.20" stroke="#8a8a8a" stroke-width="1"/>
<line x1="80.80" y1="610.20" x2="80.80" y2="613.70" stroke="#8a8a8a" stroke-width="1"/>
<line x1="100.40" y1="610.20" x2="100.40" y2="613.70" stroke="#8a8a8a" stroke-width="1"/>
<line x1="120.00" y1="610.20" x2="120.00" y2="613.70" stroke="#8a8a8a" stroke-width="1"/>
<line x1="139.60" y1="610.20" x2="139.60" y2="613.70" stroke="#8a8a8a" stroke-width="1"/>
<line x1="159.20" y1="610.20" x2="159.20" y2="613.70" stroke="#8a8a8a" stroke-width="1"/>
<line x1="77.30" y1="610.20" x2="80.80" y2="610.20" stroke="#8a8a8a" stroke-width="1"/>
<text x="71.00" y="614.40" font-size="11.6" text-anchor="end" fill="#000" stroke="#000" stroke-width="0.55">0</text>
<line x1="77.30" y1="582.96" x2="80.80" y2="582.96" stroke="#8a8a8a" stroke-width="1"/>
<text x="71.00" y="587.16" font-size="11.6" text-anchor="end" fill="#000" stroke="#000" stroke-width="0.55">5</text>
<line x1="77.30" y1="555.72" x2="80.80" y2="555.72" stroke="#8a8a8a" stroke-width="1"/>
<text x="71.00" y="559.92" font-size="11.6" text-anchor="end" fill="#000" stroke="#000" stroke-width="0.55">10</text>
<line x1="77.30" y1="528.48" x2="80.80" y2="528.48" stroke="#8a8a8a" stroke-width="1"/>
<text x="71.00" y="532.68" font-size="11.6" text-anchor="end" fill="#000" stroke="#000" stroke-width="0.55">15</text>
<line x1="77.30" y1="501.24" x2="80.80" y2="501.24" stroke="#8a8a8a" stroke-width="1"/>
<text x="71.00" y="505.44" font-size="11.6" text-anchor="end" fill="#000" stroke="#000" stroke-width="0.55">20</text>
<line x1="77.30" y1="474.00" x2="80.80" y2="474.00" stroke="#8a8a8a" stroke-width="1"/>
<text x="71.00" y="478.20" font-size="11.6" text-anchor="end" fill="#000" stroke="#000" stroke-width="0.55">25</text>
<text x="47.70" y="547.00" font-size="11.6" font-weight="bold" text-anchor="middle" fill="#000" transform="rotate(-90 47.70 547.00)" dominant-baseline="central" stroke="#000" stroke-width="0.42">GMP - Annexin V+/7AAD-</text>
<line x1="90.60" y1="521.94" x2="90.60" y2="491.98" stroke="#111" stroke-width="1.2"/>
<line x1="87.90" y1="491.98" x2="93.30" y2="491.98" stroke="#111" stroke-width="1.2"/>
<rect x="86.50" y="521.94" width="8.20" height="88.26" fill="#000"/>
<line x1="110.20" y1="496.06" x2="110.20" y2="493.07" stroke="#111" stroke-width="1.2"/>
<line x1="107.50" y1="493.07" x2="112.90" y2="493.07" stroke="#111" stroke-width="1.2"/>
<rect x="106.10" y="496.06" width="8.20" height="114.14" fill="#000"/>
<line x1="129.80" y1="578.06" x2="129.80" y2="566.62" stroke="#111" stroke-width="1.2"/>
<line x1="127.10" y1="566.62" x2="132.50" y2="566.62" stroke="#111" stroke-width="1.2"/>
<rect x="125.70" y="578.06" width="8.20" height="32.14" fill="#000"/>
<line x1="149.40" y1="534.47" x2="149.40" y2="512.68" stroke="#111" stroke-width="1.2"/>
<line x1="146.70" y1="512.68" x2="152.10" y2="512.68" stroke="#111" stroke-width="1.2"/>
<rect x="145.30" y="534.47" width="8.20" height="75.73" fill="#000"/>
<polyline points="90.20,483.60 90.20,477.00 128.40,477.00 128.40,483.60" fill="none" stroke="#111" stroke-width="1.35"/>
<text x="109.60" y="477.05" font-size="15" font-weight="bold" text-anchor="middle" fill="#000">*</text>
<polyline points="108.50,460.40 108.50,453.60 146.70,453.60 146.70,460.40" fill="none" stroke="#111" stroke-width="1.35"/>
<text x="128.20" y="453.85" font-size="15" font-weight="bold" text-anchor="middle" fill="#000">*</text>
<polyline points="128.40,500.90 128.40,494.40 149.40,494.40 149.40,500.90" fill="none" stroke="#111" stroke-width="1.35"/>
<text x="139.80" y="494.75" font-size="15" font-weight="bold" text-anchor="middle" fill="#000">*</text>
<text x="93.60" y="626.00" font-size="11.6" text-anchor="end" fill="#000" transform="rotate(-45 93.60 626.00)" stroke="#000" stroke-width="0.42">Wildtype</text>
<text x="113.20" y="626.00" font-size="11.6" text-anchor="end" fill="#000" transform="rotate(-45 113.20 626.00)" stroke="#000" stroke-width="0.42">Hmga2-/-</text>
<text x="132.80" y="626.00" font-size="11.6" text-anchor="end" fill="#000" transform="rotate(-45 132.80 626.00)" stroke="#000" stroke-width="0.42">Runx1Δ/Δ</text>
<text x="152.40" y="626.00" font-size="11.6" text-anchor="end" fill="#000" transform="rotate(-45 152.40 626.00)" stroke="#000" stroke-width="0.42">Double KO</text>
<line x1="246.00" y1="474.10" x2="246.00" y2="610.00" stroke="#8a8a8a" stroke-width="1"/>
<line x1="246.00" y1="610.00" x2="324.40" y2="610.00" stroke="#8a8a8a" stroke-width="1"/>
<line x1="246.00" y1="610.00" x2="246.00" y2="613.50" stroke="#8a8a8a" stroke-width="1"/>
<line x1="265.60" y1="610.00" x2="265.60" y2="613.50" stroke="#8a8a8a" stroke-width="1"/>
<line x1="285.20" y1="610.00" x2="285.20" y2="613.50" stroke="#8a8a8a" stroke-width="1"/>
<line x1="304.80" y1="610.00" x2="304.80" y2="613.50" stroke="#8a8a8a" stroke-width="1"/>
<line x1="324.40" y1="610.00" x2="324.40" y2="613.50" stroke="#8a8a8a" stroke-width="1"/>
<line x1="242.50" y1="610.00" x2="246.00" y2="610.00" stroke="#8a8a8a" stroke-width="1"/>
<text x="235.50" y="614.20" font-size="11.6" text-anchor="end" fill="#000" stroke="#000" stroke-width="0.55">0</text>
<line x1="242.50" y1="587.35" x2="246.00" y2="587.35" stroke="#8a8a8a" stroke-width="1"/>
<text x="235.50" y="591.55" font-size="11.6" text-anchor="end" fill="#000" stroke="#000" stroke-width="0.55">5</text>
<line x1="242.50" y1="564.70" x2="246.00" y2="564.70" stroke="#8a8a8a" stroke-width="1"/>
<text x="235.50" y="568.90" font-size="11.6" text-anchor="end" fill="#000" stroke="#000" stroke-width="0.55">10</text>
<line x1="242.50" y1="542.05" x2="246.00" y2="542.05" stroke="#8a8a8a" stroke-width="1"/>
<text x="235.50" y="546.25" font-size="11.6" text-anchor="end" fill="#000" stroke="#000" stroke-width="0.55">15</text>
<line x1="242.50" y1="519.40" x2="246.00" y2="519.40" stroke="#8a8a8a" stroke-width="1"/>
<text x="235.50" y="523.60" font-size="11.6" text-anchor="end" fill="#000" stroke="#000" stroke-width="0.55">20</text>
<line x1="242.50" y1="496.75" x2="246.00" y2="496.75" stroke="#8a8a8a" stroke-width="1"/>
<text x="235.50" y="500.95" font-size="11.6" text-anchor="end" fill="#000" stroke="#000" stroke-width="0.55">25</text>
<line x1="242.50" y1="474.10" x2="246.00" y2="474.10" stroke="#8a8a8a" stroke-width="1"/>
<text x="235.50" y="478.30" font-size="11.6" text-anchor="end" fill="#000" stroke="#000" stroke-width="0.55">30</text>
<text x="213.20" y="547.00" font-size="11.6" font-weight="bold" text-anchor="middle" fill="#000" transform="rotate(-90 213.20 547.00)" dominant-baseline="central" stroke="#000" stroke-width="0.42">CMP - Annexin V+/7AAD-</text>
<line x1="255.80" y1="536.16" x2="255.80" y2="514.87" stroke="#111" stroke-width="1.2"/>
<line x1="253.10" y1="514.87" x2="258.50" y2="514.87" stroke="#111" stroke-width="1.2"/>
<rect x="251.70" y="536.16" width="8.20" height="73.84" fill="#000"/>
<line x1="275.40" y1="514.87" x2="275.40" y2="501.28" stroke="#111" stroke-width="1.2"/>
<line x1="272.70" y1="501.28" x2="278.10" y2="501.28" stroke="#111" stroke-width="1.2"/>
<rect x="271.30" y="514.87" width="8.20" height="95.13" fill="#000"/>
<line x1="295.00" y1="582.82" x2="295.00" y2="577.84" stroke="#111" stroke-width="1.2"/>
<line x1="292.30" y1="577.84" x2="297.70" y2="577.84" stroke="#111" stroke-width="1.2"/>
<rect x="290.90" y="582.82" width="8.20" height="27.18" fill="#000"/>
<line x1="314.60" y1="546.58" x2="314.60" y2="529.37" stroke="#111" stroke-width="1.2"/>
<line x1="311.90" y1="529.37" x2="317.30" y2="529.37" stroke="#111" stroke-width="1.2"/>
<rect x="310.50" y="546.58" width="8.20" height="63.42" fill="#000"/>
<polyline points="254.50,497.50 254.50,490.50 276.20,490.50 276.20,497.50" fill="none" stroke="#111" stroke-width="1.35"/>
<text x="266.20" y="491.05" font-size="15" font-weight="bold" text-anchor="middle" fill="#000">*</text>
<polyline points="254.50,479.50 254.50,473.00 292.00,473.00 292.00,479.50" fill="none" stroke="#111" stroke-width="1.35"/>
<text x="273.70" y="473.55" font-size="15" font-weight="bold" text-anchor="middle" fill="#000">*</text>
<polyline points="275.00,459.50 275.00,452.50 313.00,452.50 313.00,459.50" fill="none" stroke="#111" stroke-width="1.35"/>
<text x="293.70" y="452.75" font-size="15" font-weight="bold" text-anchor="middle" fill="#000">*</text>
<polyline points="292.00,497.50 292.00,490.50 313.00,490.50 313.00,497.50" fill="none" stroke="#111" stroke-width="1.35"/>
<text x="303.70" y="491.05" font-size="15" font-weight="bold" text-anchor="middle" fill="#000">*</text>
<text x="258.80" y="625.80" font-size="11.6" text-anchor="end" fill="#000" transform="rotate(-45 258.80 625.80)" stroke="#000" stroke-width="0.42">Wildtype</text>
<text x="278.40" y="625.80" font-size="11.6" text-anchor="end" fill="#000" transform="rotate(-45 278.40 625.80)" stroke="#000" stroke-width="0.42">Hmga2-/-</text>
<text x="298.00" y="625.80" font-size="11.6" text-anchor="end" fill="#000" transform="rotate(-45 298.00 625.80)" stroke="#000" stroke-width="0.42">Runx1Δ/Δ</text>
<text x="317.60" y="625.80" font-size="11.6" text-anchor="end" fill="#000" transform="rotate(-45 317.60 625.80)" stroke="#000" stroke-width="0.42">Double KO</text>
<line x1="421.00" y1="474.30" x2="421.00" y2="609.90" stroke="#8a8a8a" stroke-width="1"/>
<line x1="421.00" y1="609.90" x2="499.40" y2="609.90" stroke="#8a8a8a" stroke-width="1"/>
<line x1="421.00" y1="609.90" x2="421.00" y2="613.40" stroke="#8a8a8a" stroke-width="1"/>
<line x1="440.60" y1="609.90" x2="440.60" y2="613.40" stroke="#8a8a8a" stroke-width="1"/>
<line x1="460.20" y1="609.90" x2="460.20" y2="613.40" stroke="#8a8a8a" stroke-width="1"/>
<line x1="479.80" y1="609.90" x2="479.80" y2="613.40" stroke="#8a8a8a" stroke-width="1"/>
<line x1="499.40" y1="609.90" x2="499.40" y2="613.40" stroke="#8a8a8a" stroke-width="1"/>
<line x1="417.50" y1="609.90" x2="421.00" y2="609.90" stroke="#8a8a8a" stroke-width="1"/>
<text x="411.00" y="614.10" font-size="11.6" text-anchor="end" fill="#000" stroke="#000" stroke-width="0.55">0</text>
<line x1="417.50" y1="592.95" x2="421.00" y2="592.95" stroke="#8a8a8a" stroke-width="1"/>
<text x="411.00" y="597.15" font-size="11.6" text-anchor="end" fill="#000" stroke="#000" stroke-width="0.55">5</text>
<line x1="417.50" y1="576.00" x2="421.00" y2="576.00" stroke="#8a8a8a" stroke-width="1"/>
<text x="411.00" y="580.20" font-size="11.6" text-anchor="end" fill="#000" stroke="#000" stroke-width="0.55">10</text>
<line x1="417.50" y1="559.05" x2="421.00" y2="559.05" stroke="#8a8a8a" stroke-width="1"/>
<text x="411.00" y="563.25" font-size="11.6" text-anchor="end" fill="#000" stroke="#000" stroke-width="0.55">15</text>
<line x1="417.50" y1="542.10" x2="421.00" y2="542.10" stroke="#8a8a8a" stroke-width="1"/>
<text x="411.00" y="546.30" font-size="11.6" text-anchor="end" fill="#000" stroke="#000" stroke-width="0.55">20</text>
<line x1="417.50" y1="525.15" x2="421.00" y2="525.15" stroke="#8a8a8a" stroke-width="1"/>
<text x="411.00" y="529.35" font-size="11.6" text-anchor="end" fill="#000" stroke="#000" stroke-width="0.55">25</text>
<line x1="417.50" y1="508.20" x2="421.00" y2="508.20" stroke="#8a8a8a" stroke-width="1"/>
<text x="411.00" y="512.40" font-size="11.6" text-anchor="end" fill="#000" stroke="#000" stroke-width="0.55">30</text>
<line x1="417.50" y1="491.25" x2="421.00" y2="491.25" stroke="#8a8a8a" stroke-width="1"/>
<text x="411.00" y="495.45" font-size="11.6" text-anchor="end" fill="#000" stroke="#000" stroke-width="0.55">35</text>
<line x1="417.50" y1="474.30" x2="421.00" y2="474.30" stroke="#8a8a8a" stroke-width="1"/>
<text x="411.00" y="478.50" font-size="11.6" text-anchor="end" fill="#000" stroke="#000" stroke-width="0.55">40</text>
<text x="387.70" y="547.00" font-size="11.6" font-weight="bold" text-anchor="middle" fill="#000" transform="rotate(-90 387.70 547.00)" dominant-baseline="central" stroke="#000" stroke-width="0.42">MEP - Annexin V+/7AAD-</text>
<line x1="430.80" y1="556.68" x2="430.80" y2="535.32" stroke="#111" stroke-width="1.2"/>
<line x1="428.10" y1="535.32" x2="433.50" y2="535.32" stroke="#111" stroke-width="1.2"/>
<rect x="426.70" y="556.68" width="8.20" height="53.22" fill="#000"/>
<line x1="450.40" y1="509.22" x2="450.40" y2="487.86" stroke="#111" stroke-width="1.2"/>
<line x1="447.70" y1="487.86" x2="453.10" y2="487.86" stroke="#111" stroke-width="1.2"/>
<rect x="446.30" y="509.22" width="8.20" height="100.68" fill="#000"/>
<line x1="470.00" y1="590.24" x2="470.00" y2="588.54" stroke="#111" stroke-width="1.2"/>
<line x1="467.30" y1="588.54" x2="472.70" y2="588.54" stroke="#111" stroke-width="1.2"/>
<rect x="465.90" y="590.24" width="8.20" height="19.66" fill="#000"/>
<line x1="489.60" y1="547.86" x2="489.60" y2="525.83" stroke="#111" stroke-width="1.2"/>
<line x1="486.90" y1="525.83" x2="492.30" y2="525.83" stroke="#111" stroke-width="1.2"/>
<rect x="485.50" y="547.86" width="8.20" height="62.04" fill="#000"/>
<polyline points="428.00,477.70 428.00,470.30 449.60,470.30 449.60,477.70" fill="none" stroke="#111" stroke-width="1.35"/>
<text x="440.00" y="470.55" font-size="15" font-weight="bold" text-anchor="middle" fill="#000">*</text>
<polyline points="448.70,457.00 448.70,449.50 487.20,449.50 487.20,457.00" fill="none" stroke="#111" stroke-width="1.35"/>
<text x="468.80" y="450.45" font-size="15" font-weight="bold" text-anchor="middle" fill="#000">*</text>
<polyline points="467.50,477.70 467.50,470.30 489.30,470.30 489.30,477.70" fill="none" stroke="#111" stroke-width="1.35"/>
<text x="479.80" y="470.55" font-size="15" font-weight="bold" text-anchor="middle" fill="#000">*</text>
<text x="433.80" y="625.70" font-size="11.6" text-anchor="end" fill="#000" transform="rotate(-45 433.80 625.70)" stroke="#000" stroke-width="0.42">Wildtype</text>
<text x="453.40" y="625.70" font-size="11.6" text-anchor="end" fill="#000" transform="rotate(-45 453.40 625.70)" stroke="#000" stroke-width="0.42">Hmga2-/-</text>
<text x="473.00" y="625.70" font-size="11.6" text-anchor="end" fill="#000" transform="rotate(-45 473.00 625.70)" stroke="#000" stroke-width="0.42">Runx1Δ/Δ</text>
<text x="492.60" y="625.70" font-size="11.6" text-anchor="end" fill="#000" transform="rotate(-45 492.60 625.70)" stroke="#000" stroke-width="0.42">Double KO</text>
</svg></body></html>
